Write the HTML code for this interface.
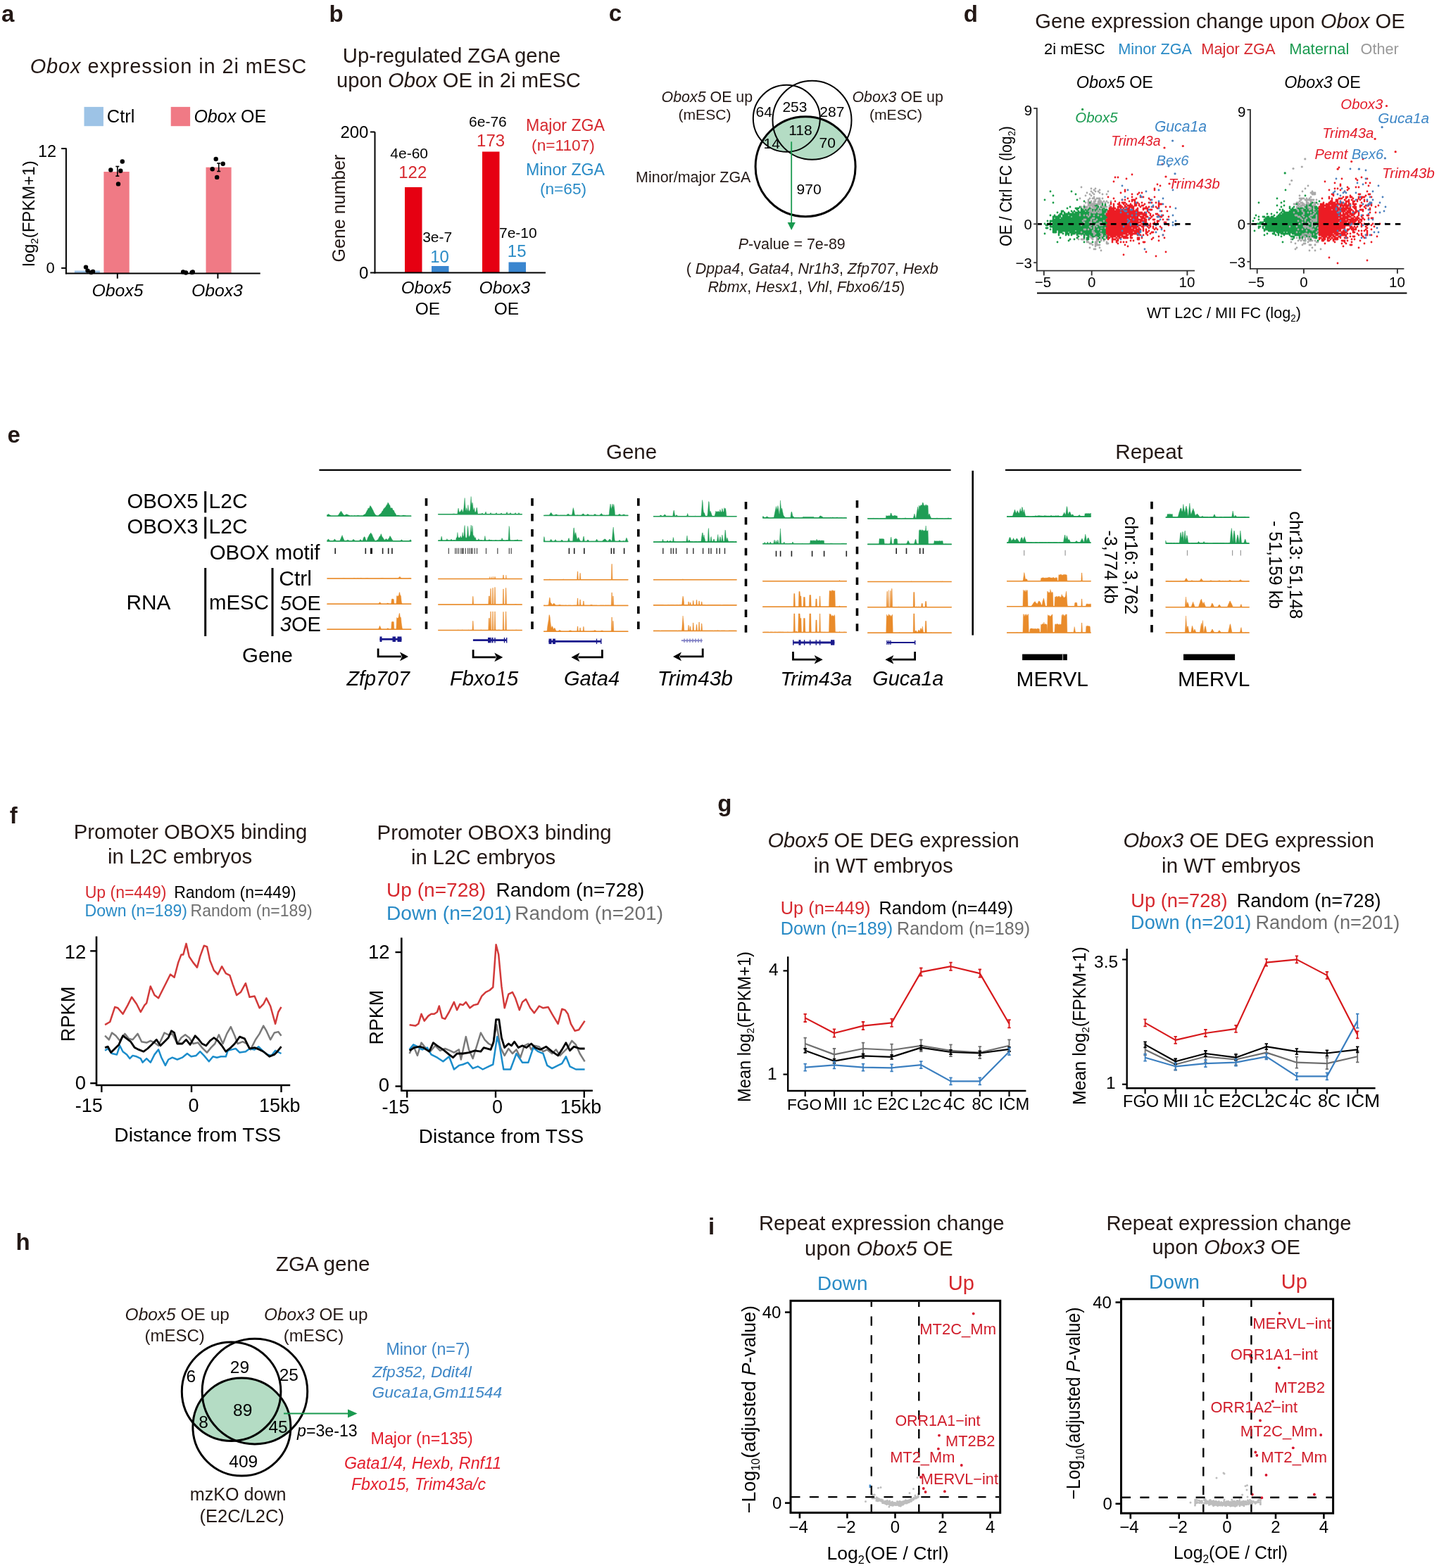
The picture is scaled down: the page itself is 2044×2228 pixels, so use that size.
<!DOCTYPE html>
<html><head><meta charset="utf-8"><title>Figure</title>
<style>
html,body{margin:0;padding:0;background:#fff;}
svg{display:block;}
text{font-family:'Liberation Sans', Arial, Helvetica, sans-serif;}
</style></head>
<body>
<svg width="2044" height="2228" viewBox="0 0 2044 2228">
<rect width="2044" height="2228" fill="#fff"/>
<text x="2.1" y="30.7" font-size="33" font-weight="bold" fill="#231815">a</text>
<text x="42.7" y="103.9" font-size="29.00" letter-spacing="0.87" fill="#231815"><tspan font-style="italic">Obox</tspan> expression in 2i mESC</text>
<rect x="119.5" y="151.9" width="27.4" height="27.3" fill="#9dc3e6"/>
<text x="151.8" y="174.3" font-size="25.42" fill="#000">Ctrl</text>
<rect x="242.7" y="151.9" width="27.4" height="27.3" fill="#f07a85"/>
<text x="275.4" y="174.3" font-size="25.01" fill="#000"><tspan font-style="italic">Obox</tspan> OE</text>
<rect x="105.8" y="384.6" width="36.1" height="3.8" fill="#9dc3e6"/>
<rect x="147.4" y="244.0" width="36.3" height="144.4" fill="#f07a85"/>
<rect x="292.5" y="237.7" width="36.1" height="150.7" fill="#f07a85"/>
<line x1="93.9" y1="210.4" x2="93.9" y2="389.4" stroke="#000" stroke-width="2"/>
<line x1="87.1" y1="211.1" x2="93.9" y2="211.1" stroke="#000" stroke-width="2"/>
<line x1="87.1" y1="380.9" x2="93.9" y2="380.9" stroke="#000" stroke-width="2"/>
<line x1="92.9" y1="388.4" x2="369.7" y2="388.4" stroke="#000" stroke-width="2"/>
<line x1="166.8" y1="388.4" x2="166.8" y2="395.8" stroke="#000" stroke-width="2"/>
<line x1="309.4" y1="388.4" x2="309.4" y2="395.8" stroke="#000" stroke-width="2"/>
<text x="53.9" y="222.9" font-size="23.50" fill="#000">12</text>
<text x="65.6" y="388.4" font-size="22.00" fill="#000">0</text>
<line x1="166.8" y1="236.5" x2="166.8" y2="250.2" stroke="#000" stroke-width="1.6"/>
<line x1="164.3" y1="236.5" x2="169.3" y2="236.5" stroke="#000" stroke-width="1.6"/>
<line x1="164.3" y1="250.2" x2="169.3" y2="250.2" stroke="#000" stroke-width="1.6"/>
<line x1="310.7" y1="232.0" x2="310.7" y2="243.5" stroke="#000" stroke-width="1.6"/>
<line x1="308.2" y1="232.0" x2="313.2" y2="232.0" stroke="#000" stroke-width="1.6"/>
<line x1="308.2" y1="243.5" x2="313.2" y2="243.5" stroke="#000" stroke-width="1.6"/>
<circle cx="173.8" cy="229.5" r="3.2" fill="#000" stroke="none" stroke-width="0"/>
<circle cx="157.3" cy="241.5" r="3.2" fill="#000" stroke="none" stroke-width="0"/>
<circle cx="171.3" cy="242.7" r="3.2" fill="#000" stroke="none" stroke-width="0"/>
<circle cx="168.0" cy="261.4" r="3.2" fill="#000" stroke="none" stroke-width="0"/>
<circle cx="306.7" cy="226.0" r="3.2" fill="#000" stroke="none" stroke-width="0"/>
<circle cx="316.7" cy="232.8" r="3.2" fill="#000" stroke="none" stroke-width="0"/>
<circle cx="301.7" cy="240.2" r="3.2" fill="#000" stroke="none" stroke-width="0"/>
<circle cx="308.2" cy="251.9" r="3.2" fill="#000" stroke="none" stroke-width="0"/>
<circle cx="122.0" cy="379.6" r="3.2" fill="#000" stroke="none" stroke-width="0"/>
<circle cx="124.5" cy="384.6" r="3.2" fill="#000" stroke="none" stroke-width="0"/>
<circle cx="129.5" cy="387.1" r="3.2" fill="#000" stroke="none" stroke-width="0"/>
<circle cx="132.0" cy="385.9" r="3.2" fill="#000" stroke="none" stroke-width="0"/>
<circle cx="260.1" cy="386.4" r="3.2" fill="#000" stroke="none" stroke-width="0"/>
<circle cx="264.0" cy="387.5" r="3.2" fill="#000" stroke="none" stroke-width="0"/>
<circle cx="272.6" cy="387.1" r="3.2" fill="#000" stroke="none" stroke-width="0"/>
<circle cx="273.8" cy="386.4" r="3.2" fill="#000" stroke="none" stroke-width="0"/>
<text x="130.5" y="420.7" font-size="24.77" fill="#000"><tspan font-style="italic">Obox5</tspan></text>
<text x="271.9" y="420.7" font-size="24.78" fill="#000"><tspan font-style="italic">Obox3</tspan></text>
<text transform="translate(48.5,303.5) rotate(-90)" text-anchor="middle" font-size="24" fill="#000">log<tspan font-size="15" dy="5">2</tspan><tspan dy="-5">(FPKM+1)</tspan></text>
<text x="467.4" y="30.7" font-size="33" font-weight="bold" fill="#231815">b</text>
<text x="486.8" y="89.0" font-size="29.30" fill="#231815">Up-regulated ZGA gene</text>
<text x="478.1" y="124.0" font-size="29.16" fill="#231815">upon <tspan font-style="italic">Obox</tspan> OE in 2i mESC</text>
<rect x="575.0" y="266.0" width="24.5" height="121.5" fill="#e60012"/>
<rect x="613.0" y="378.0" width="24.5" height="9.5" fill="#3a86cf"/>
<rect x="685.0" y="215.5" width="24.5" height="172.0" fill="#e60012"/>
<rect x="722.5" y="372.5" width="24.5" height="15.0" fill="#3a86cf"/>
<line x1="532.5" y1="187.5" x2="532.5" y2="388.5" stroke="#000" stroke-width="2"/>
<line x1="526.0" y1="187.5" x2="532.5" y2="187.5" stroke="#000" stroke-width="2"/>
<line x1="526.0" y1="387.5" x2="532.5" y2="387.5" stroke="#000" stroke-width="2"/>
<line x1="531.5" y1="387.5" x2="775.0" y2="387.5" stroke="#000" stroke-width="2"/>
<text x="483.4" y="196.0" font-size="24.00" fill="#000">200</text>
<text x="510.0" y="396.0" font-size="24.00" fill="#000">0</text>
<text transform="translate(490.0,296.0) rotate(-90)" x="0" y="0" text-anchor="middle" font-size="25.00" fill="#231815">Gene number</text>
<text x="554.3" y="225.0" font-size="21.00" fill="#000">4e-60</text>
<text x="566.2" y="253.0" font-size="24.00" fill="#d6282e">122</text>
<text x="600.2" y="344.0" font-size="21.00" fill="#000">3e-7</text>
<text x="611.2" y="372.5" font-size="24.00" fill="#2a8bc6">10</text>
<text x="666.1" y="180.0" font-size="21.00" fill="#000">6e-76</text>
<text x="677.1" y="207.5" font-size="24.00" fill="#d6282e">173</text>
<text x="709.0" y="337.5" font-size="21.00" fill="#000">7e-10</text>
<text x="720.8" y="365.0" font-size="24.00" fill="#2a8bc6">15</text>
<text x="747.1" y="186.0" font-size="23.16" fill="#d6282e">Major ZGA</text>
<text x="755.1" y="214.0" font-size="22.70" fill="#d6282e">(n=1107)</text>
<text x="747.1" y="249.0" font-size="23.16" fill="#2a8bc6">Minor ZGA</text>
<text x="766.9" y="276.0" font-size="22.70" fill="#2a8bc6">(n=65)</text>
<text x="569.7" y="416.5" font-size="24.18" fill="#000"><tspan font-style="italic">Obox5</tspan></text>
<text x="589.7" y="446.5" font-size="24.50" fill="#000">OE</text>
<text x="680.6" y="416.5" font-size="24.61" fill="#000"><tspan font-style="italic">Obox3</tspan></text>
<text x="701.7" y="446.5" font-size="24.50" fill="#000">OE</text>
<text x="864.7" y="30.3" font-size="33" font-weight="bold" fill="#231815">c</text>
<defs><clipPath id="cc3"><circle cx="1144.1" cy="236.7" r="71.0"/></clipPath><clipPath id="hc3"><circle cx="343.4" cy="2027.6" r="69.5"/></clipPath></defs>
<g clip-path="url(#cc3)"><circle cx="1117.3" cy="168.3" r="47.5" fill="#b4dcc4"/><circle cx="1153.5" cy="170.8" r="56.0" fill="#b4dcc4"/></g>
<circle cx="1117.3" cy="168.3" r="47.5" fill="none" stroke="#000" stroke-width="2.0"/>
<circle cx="1153.5" cy="170.8" r="56.0" fill="none" stroke="#000" stroke-width="2.0"/>
<circle cx="1144.1" cy="236.7" r="71.0" fill="none" stroke="#000" stroke-width="3.0"/>
<text x="1073.5" y="166.0" font-size="21.00" fill="#000">64</text>
<text x="1111.4" y="158.8" font-size="21.00" fill="#000">253</text>
<text x="1164.3" y="166.0" font-size="21.00" fill="#000">287</text>
<text x="1120.2" y="192.0" font-size="21.00" fill="#000">118</text>
<text x="1084.5" y="211.0" font-size="21.00" fill="#000">14</text>
<text x="1163.5" y="210.0" font-size="21.00" fill="#000">70</text>
<text x="1131.6" y="275.6" font-size="21.00" fill="#000">970</text>
<text x="939.6" y="144.6" font-size="21.39" fill="#231815"><tspan font-style="italic">Obox5</tspan> OE up</text>
<text x="963.5" y="169.5" font-size="21.10" fill="#231815">(mESC)</text>
<text x="1210.4" y="144.6" font-size="21.36" fill="#231815"><tspan font-style="italic">Obox3</tspan> OE up</text>
<text x="1235.0" y="169.5" font-size="21.10" fill="#231815">(mESC)</text>
<text x="903.1" y="258.6" font-size="21.46" fill="#231815">Minor/major ZGA</text>
<line x1="1124.2" y1="201.3" x2="1124.2" y2="318.0" stroke="#1a9a50" stroke-width="1.8"/>
<path d="M1118.6,316 L1129.8,316 L1124.2,327 Z" fill="#1a9a50" stroke="none" stroke-width="0"/>
<text x="1048.8" y="354.4" font-size="21.44" fill="#231815"><tspan font-style="italic">P</tspan>-value = 7e-89</text>
<text x="974.7" y="389.0" font-size="21.47" fill="#231815">( <tspan font-style="italic">Dppa4</tspan>, <tspan font-style="italic">Gata4</tspan>, <tspan font-style="italic">Nr1h3</tspan>, <tspan font-style="italic">Zfp707</tspan>, <tspan font-style="italic">Hexb</tspan></text>
<text x="1005.4" y="414.5" font-size="21.43" fill="#231815"><tspan font-style="italic">Rbmx</tspan>, <tspan font-style="italic">Hesx1</tspan>, <tspan font-style="italic">Vhl</tspan>, <tspan font-style="italic">Fbxo6/15</tspan>)</text>
<text x="1368.7" y="30.7" font-size="33" font-weight="bold" fill="#231815">d</text>
<text x="1470.3" y="40.0" font-size="29.18" fill="#231815">Gene expression change upon <tspan font-style="italic">Obox</tspan> OE</text>
<text x="1482.9" y="77.0" font-size="22.02" fill="#000">2i mESC</text>
<text x="1588.3" y="77.0" font-size="21.68" fill="#2a8bc6">Minor ZGA</text>
<text x="1706.3" y="77.0" font-size="21.79" fill="#d6282e">Major ZGA</text>
<text x="1831.2" y="77.0" font-size="21.90" fill="#1a9a50">Maternal</text>
<text x="1932.6" y="77.0" font-size="21.68" fill="#999999">Other</text>
<text x="1528.7" y="125.0" font-size="23.41" fill="#000"><tspan font-style="italic">Obox5</tspan> OE</text>
<text x="1824.3" y="125.0" font-size="23.24" fill="#000"><tspan font-style="italic">Obox3</tspan> OE</text>
<path d="M1556 302h0M1560 314h0M1554 308h0M1548 312h0M1552 302h0M1546 312h0M1558 294h0M1570 306h0M1552 306h0M1550 306h0M1562 336h0M1560 316h0M1558 316h0M1548 310h0M1556 334h0M1564 288h0M1544 312h0M1552 332h0M1538 340h0M1544 318h0M1538 314h0M1554 324h0M1560 322h0M1558 304h0M1532 314h0M1552 298h0M1556 272h0M1558 328h0M1542 320h0M1552 326h0M1546 300h0M1548 330h0M1568 320h0M1548 314h0M1556 328h0M1566 328h0M1550 320h0M1556 346h0M1558 336h0M1558 320h0M1544 310h0M1570 340h0M1566 300h0M1550 314h0M1578 326h0M1564 302h0M1544 322h0M1558 330h0M1562 326h0M1554 290h0M1564 310h0M1556 294h0M1564 320h0M1572 298h0M1550 322h0M1552 274h0M1558 300h0M1544 320h0M1566 294h0M1544 340h0M1548 318h0M1564 312h0M1536 312h0M1552 292h0M1556 308h0M1570 300h0M1564 330h0M1554 300h0M1554 280h0M1572 308h0M1552 310h0M1554 286h0M1560 328h0M1556 314h0M1554 306h0M1546 302h0M1556 320h0M1552 308h0M1568 318h0M1554 314h0M1568 300h0M1562 316h0M1544 302h0M1560 330h0M1540 310h0M1536 330h0M1554 296h0M1548 276h0M1558 282h0M1580 316h0M1548 302h0M1550 310h0M1558 312h0M1562 288h0M1564 314h0M1562 290h0M1546 310h0M1556 324h0M1558 308h0M1560 312h0M1548 306h0M1566 320h0M1558 346h0M1558 298h0M1550 302h0M1556 310h0M1546 296h0M1560 320h0M1536 324h0M1566 316h0M1540 294h0M1564 334h0M1548 294h0M1564 322h0M1542 294h0M1570 314h0M1572 334h0M1556 318h0M1554 298h0M1546 320h0M1568 306h0M1556 322h0M1548 308h0M1570 320h0M1556 312h0M1566 312h0M1556 300h0M1552 294h0M1554 304h0M1542 278h0M1548 326h0M1574 300h0M1550 318h0M1546 284h0M1560 286h0M1572 344h0M1542 328h0M1554 302h0M1550 300h0M1538 302h0M1556 306h0M1558 302h0M1562 296h0M1552 348h0M1546 328h0M1544 298h0M1570 316h0M1560 306h0M1556 326h0M1552 328h0M1552 338h0M1556 296h0M1568 296h0M1552 304h0M1542 296h0M1566 318h0M1556 316h0M1562 312h0M1564 326h0M1566 296h0M1572 326h0M1544 308h0M1566 306h0M1562 320h0M1566 282h0M1576 308h0M1572 286h0M1546 298h0M1540 324h0M1546 306h0M1540 318h0M1536 340h0M1558 348h0M1558 324h0M1548 324h0M1542 316h0M1546 336h0M1540 340h0M1562 330h0M1556 344h0M1546 288h0M1550 330h0M1548 334h0M1560 304h0M1578 286h0M1542 310h0M1566 310h0M1556 304h0M1552 300h0M1556 286h0M1558 344h0M1554 318h0M1534 326h0M1550 316h0M1536 334h0M1524 310h0M1570 294h0M1544 326h0M1548 320h0M1568 298h0M1558 326h0M1564 318h0M1546 324h0M1562 348h0M1568 322h0M1544 306h0M1556 284h0M1544 330h0M1572 294h0M1552 324h0M1564 328h0M1530 338h0M1560 290h0M1556 350h0M1546 318h0M1554 316h0M1554 310h0M1568 308h0M1572 346h0M1552 312h0M1538 310h0M1572 310h0M1566 326h0M1566 322h0M1564 300h0M1554 282h0M1554 276h0M1562 274h0M1574 322h0M1558 322h0M1566 332h0M1552 314h0M1554 326h0M1558 296h0M1540 308h0M1562 318h0M1572 302h0M1554 330h0M1550 292h0M1562 324h0M1578 310h0M1560 348h0M1544 324h0M1546 344h0M1548 296h0M1568 302h0M1560 324h0M1562 286h0M1554 312h0M1550 296h0M1544 274h0M1558 292h0M1566 308h0M1548 304h0M1548 322h0M1552 330h0M1554 328h0M1558 314h0M1562 306h0M1576 296h0M1540 338h0M1538 304h0M1542 312h0M1540 304h0M1554 322h0M1564 342h0M1580 330h0M1560 288h0M1548 346h0M1546 326h0M1568 314h0M1568 342h0M1568 316h0M1562 322h0M1542 298h0M1564 294h0M1560 292h0M1540 316h0M1548 300h0M1558 334h0M1560 310h0M1552 322h0M1558 340h0M1564 298h0M1562 298h0M1552 316h0M1546 286h0M1582 314h0M1556 336h0M1550 336h0M1558 332h0M1540 292h0M1566 336h0M1568 294h0M1560 318h0M1552 318h0M1554 294h0M1546 292h0M1566 314h0M1542 308h0M1550 298h0M1552 290h0M1560 298h0M1550 308h0M1562 352h0M1566 330h0M1548 282h0M1540 332h0M1538 324h0M1546 322h0M1560 308h0M1550 268h0M1562 314h0M1546 314h0M1538 298h0M1576 294h0M1576 292h0M1540 296h0M1546 290h0M1564 336h0M1548 336h0M1542 288h0M1528 304h0M1546 316h0M1566 288h0M1552 340h0M1538 326h0M1546 338h0M1570 304h0M1576 310h0M1556 354h0M1550 324h0M1550 288h0M1546 334h0M1550 338h0M1554 270h0M1560 294h0M1544 332h0M1536 300h0M1558 306h0M1554 334h0M1544 342h0M1560 334h0M1558 338h0M1562 282h0M1540 336h0M1550 286h0M1562 334h0M1568 328h0M1568 304h0M1540 322h0M1566 304h0M1532 340h0M1542 306h0M1550 346h0M1570 318h0M1574 346h0M1574 272h0M1556 330h0M1544 294h0M1562 310h0M1566 324h0M1548 352h0M1556 268h0M1562 284h0M1568 326h0M1554 288h0M1556 348h0M1560 340h0M1540 312h0M1534 282h0M1554 292h0M1528 332h0M1574 288h0M1568 324h0M1560 326h0M1556 290h0M1566 276h0M1576 306h0M1558 318h0M1546 304h0M1554 320h0M1564 340h0M1542 334h0M1548 316h0M1550 312h0M1568 334h0M1562 328h0M1568 286h0M1548 290h0M1558 290h0M1564 356h0M1560 272h0M1548 288h0M1552 336h0M1570 324h0M1580 306h0M1572 276h0M1546 308h0M1558 342h0M1562 332h0M1548 292h0M1540 328h0M1542 304h0" stroke="#a9a9a9" stroke-width="2.8" stroke-linecap="round" fill="none"/>
<path d="M1508 312h0M1532 318h0M1538 316h0M1540 324h0M1518 316h0M1550 324h0M1516 324h0M1534 320h0M1564 326h0M1526 306h0M1528 326h0M1558 322h0M1532 320h0M1532 316h0M1542 310h0M1558 308h0M1498 320h0M1522 320h0M1520 318h0M1518 312h0M1522 312h0M1544 332h0M1522 304h0M1540 308h0M1546 314h0M1524 316h0M1540 320h0M1570 324h0M1544 318h0M1526 318h0M1538 322h0M1522 326h0M1554 310h0M1524 320h0M1534 316h0M1560 334h0M1530 318h0M1542 318h0M1520 326h0M1524 328h0M1528 314h0M1532 322h0M1528 320h0M1536 312h0M1550 318h0M1542 328h0M1542 316h0M1564 318h0M1544 310h0M1550 320h0M1512 320h0M1536 310h0M1538 308h0M1534 312h0M1500 314h0M1554 312h0M1532 312h0M1530 310h0M1534 314h0M1516 304h0M1522 318h0M1528 316h0M1524 324h0M1538 332h0M1560 312h0M1520 328h0M1566 312h0M1554 314h0M1530 308h0M1552 302h0M1512 316h0M1506 322h0M1514 326h0M1530 322h0M1530 332h0M1540 316h0M1500 318h0M1548 310h0M1526 316h0M1518 320h0M1514 328h0M1520 316h0M1538 304h0M1550 314h0M1548 312h0M1520 324h0M1524 308h0M1522 322h0M1546 310h0M1502 318h0M1562 324h0M1524 318h0M1544 314h0M1558 312h0M1544 316h0M1558 318h0M1540 312h0M1562 318h0M1562 314h0M1536 322h0M1564 328h0M1542 322h0M1534 308h0M1552 330h0M1514 318h0M1550 334h0M1544 324h0M1544 320h0M1498 330h0M1536 330h0M1540 318h0M1494 322h0M1550 298h0M1554 322h0M1504 310h0M1552 310h0M1554 306h0M1522 316h0M1528 312h0M1526 324h0M1534 310h0M1560 324h0M1570 322h0M1526 310h0M1506 320h0M1560 314h0M1558 310h0M1560 328h0M1522 314h0M1514 312h0M1512 308h0M1556 312h0M1526 312h0M1540 304h0M1526 320h0M1554 300h0M1572 298h0M1516 306h0M1564 322h0M1518 310h0M1524 322h0M1544 312h0M1540 310h0M1560 322h0M1552 320h0M1510 320h0M1546 320h0M1546 308h0M1558 298h0M1528 308h0M1522 310h0M1556 306h0M1514 322h0M1532 326h0M1546 312h0M1496 318h0M1552 314h0M1516 316h0M1518 314h0M1538 318h0M1510 328h0M1572 336h0M1522 330h0M1544 304h0M1542 330h0M1564 310h0M1530 306h0M1556 320h0M1524 306h0M1560 298h0M1524 312h0M1532 300h0M1540 322h0M1552 326h0M1516 326h0M1560 294h0M1560 320h0M1528 318h0M1528 322h0M1520 320h0M1548 326h0M1502 326h0M1532 314h0M1534 302h0M1544 308h0M1550 312h0M1536 318h0M1526 326h0M1516 330h0M1546 318h0M1520 308h0M1540 314h0M1558 306h0M1568 326h0M1558 304h0M1544 300h0M1560 316h0M1554 318h0M1548 314h0M1542 312h0M1542 326h0M1556 316h0M1530 328h0M1570 306h0M1536 324h0M1556 318h0M1536 320h0M1532 324h0M1516 328h0M1542 314h0M1556 298h0M1550 316h0M1572 302h0M1526 314h0M1534 332h0M1548 318h0M1530 330h0M1514 314h0M1566 322h0M1558 320h0M1564 330h0M1554 330h0M1534 324h0M1536 316h0M1558 316h0M1540 300h0M1536 314h0M1534 326h0M1538 320h0M1536 304h0M1544 306h0M1544 340h0M1564 312h0M1572 308h0M1538 330h0M1562 306h0M1512 324h0M1542 296h0M1532 308h0M1524 314h0M1548 308h0M1566 314h0M1504 318h0M1552 312h0M1546 316h0M1510 326h0M1556 314h0M1560 308h0M1566 308h0M1516 314h0M1526 328h0M1516 318h0M1516 310h0M1570 312h0M1550 328h0M1552 300h0M1572 314h0M1564 304h0M1544 328h0M1542 308h0M1500 320h0M1536 328h0M1522 332h0M1552 318h0M1508 322h0M1532 310h0M1562 344h0M1558 324h0M1506 316h0M1556 302h0M1570 310h0M1562 312h0M1538 312h0M1562 316h0M1518 324h0M1514 310h0M1526 304h0M1496 314h0M1520 304h0M1524 326h0M1570 318h0M1548 324h0M1566 300h0M1538 326h0M1514 316h0M1548 316h0M1566 306h0M1538 300h0M1520 312h0M1514 308h0M1568 316h0M1498 314h0M1550 306h0M1568 310h0M1538 328h0M1522 324h0M1560 306h0M1556 308h0M1544 334h0M1542 306h0M1510 324h0M1530 320h0M1560 332h0M1486 324h0M1512 322h0M1530 316h0M1562 300h0M1568 306h0M1526 308h0M1548 322h0M1504 320h0M1562 322h0M1520 330h0M1504 316h0M1526 322h0M1538 314h0M1512 312h0M1508 314h0M1508 328h0M1552 322h0M1540 334h0M1564 320h0M1532 304h0M1554 316h0M1514 324h0M1512 302h0M1556 324h0M1518 326h0M1546 304h0M1544 322h0M1528 310h0M1552 316h0M1502 322h0M1566 320h0M1556 310h0M1536 326h0M1540 338h0M1560 326h0M1530 326h0M1558 328h0M1566 310h0M1564 308h0M1540 302h0M1566 316h0M1560 318h0M1524 304h0M1540 330h0M1520 314h0M1510 318h0M1562 334h0M1508 324h0M1530 314h0M1542 298h0M1554 302h0M1534 318h0M1504 306h0M1542 320h0M1556 330h0M1536 308h0M1554 320h0M1568 322h0M1534 322h0M1558 330h0M1548 320h0M1512 318h0M1546 336h0M1518 328h0M1512 326h0M1560 310h0M1550 310h0M1564 302h0M1530 304h0M1568 300h0M1542 324h0M1530 312h0M1532 328h0M1556 322h0M1508 310h0M1516 312h0M1550 322h0M1534 328h0M1548 306h0M1546 324h0M1492 314h0M1534 330h0M1552 332h0M1568 312h0M1524 330h0M1500 324h0M1502 302h0M1540 326h0M1538 324h0M1508 316h0M1570 330h0M1516 320h0M1520 322h0M1550 326h0M1504 314h0M1528 324h0M1558 314h0M1518 318h0M1498 316h0M1540 306h0M1546 306h0M1560 330h0M1566 318h0M1568 320h0M1484 318h0M1570 302h0M1546 332h0M1514 320h0M1546 330h0M1546 322h0M1510 316h0M1518 322h0M1570 320h0M1546 334h0M1510 312h0M1546 328h0M1572 322h0M1514 330h0M1564 316h0M1566 326h0M1548 304h0M1542 304h0M1550 308h0M1518 308h0M1530 302h0M1536 296h0M1554 326h0M1508 320h0M1512 310h0M1546 340h0M1504 324h0M1546 326h0M1516 322h0M1508 318h0M1510 308h0M1500 316h0M1528 306h0M1518 304h0M1536 332h0M1526 330h0M1520 294h0M1560 304h0M1562 310h0M1548 328h0M1510 322h0M1556 292h0M1524 332h0M1554 336h0M1568 302h0M1490 318h0M1516 332h0M1538 302h0M1558 296h0M1502 320h0M1552 328h0M1552 298h0M1532 330h0M1498 318h0M1520 310h0M1570 314h0M1542 302h0M1566 328h0M1488 324h0M1492 320h0M1554 324h0M1544 326h0M1538 306h0M1554 328h0M1566 294h0M1560 302h0M1530 324h0M1502 324h0M1544 330h0M1496 322h0M1534 306h0M1500 326h0M1508 304h0M1552 308h0M1492 316h0M1572 318h0M1518 302h0M1536 306h0M1486 320h0M1492 326h0M1556 300h0M1514 334h0M1532 302h0M1562 320h0M1568 324h0M1558 326h0M1530 334h0M1568 304h0M1512 314h0M1568 308h0M1522 306h0M1570 316h0M1502 314h0M1506 326h0M1566 304h0M1566 330h0M1524 310h0M1506 314h0M1548 332h0M1506 318h0M1540 328h0M1546 338h0M1550 330h0M1502 316h0M1514 306h0M1556 334h0M1536 298h0M1496 310h0M1498 324h0M1564 332h0M1572 316h0M1554 334h0M1506 324h0M1498 322h0M1550 304h0M1552 304h0M1562 304h0M1530 298h0M1528 330h0M1552 324h0M1562 298h0M1492 322h0M1508 326h0M1538 310h0M1488 318h0M1564 314h0M1512 328h0M1552 336h0M1550 332h0M1544 302h0M1496 320h0M1520 306h0M1488 314h0M1546 302h0M1488 320h0M1570 298h0M1548 330h0M1554 304h0M1536 300h0M1526 300h0M1572 338h0M1556 304h0M1566 292h0M1512 304h0M1558 300h0M1566 302h0M1494 314h0M1522 334h0M1532 332h0M1558 302h0M1562 328h0M1530 338h0M1512 306h0M1510 314h0M1542 332h0M1502 312h0M1564 300h0M1570 326h0M1564 294h0M1504 308h0M1558 332h0M1552 334h0M1506 304h0M1558 292h0M1500 322h0M1496 308h0M1572 306h0M1510 300h0M1560 336h0M1510 306h0M1506 328h0M1568 318h0M1564 306h0M1568 314h0M1568 328h0M1570 334h0M1570 304h0M1510 310h0M1500 310h0M1514 304h0M1568 334h0M1550 300h0M1504 322h0M1522 300h0M1532 306h0M1556 328h0M1518 332h0M1498 328h0M1504 328h0M1500 308h0M1498 308h0M1554 332h0M1572 326h0M1570 300h0M1500 330h0M1506 306h0M1522 328h0M1568 330h0M1568 336h0M1530 296h0M1546 298h0M1528 302h0M1496 326h0M1544 338h0M1502 308h0M1500 312h0M1516 308h0M1538 298h0M1568 332h0M1568 296h0M1496 316h0M1568 340h0M1496 328h0M1504 326h0M1554 308h0M1508 300h0M1518 334h0M1566 338h0M1516 296h0M1572 312h0M1570 290h0M1556 326h0M1498 306h0M1570 292h0M1504 312h0M1552 344h0M1566 290h0M1562 326h0M1570 328h0M1562 332h0M1560 340h0M1562 308h0M1508 302h0M1498 312h0M1536 302h0M1552 306h0M1520 340h0M1566 298h0M1548 296h0M1496 324h0M1532 336h0M1572 330h0M1540 336h0M1572 304h0M1496 312h0M1498 326h0M1570 308h0M1554 290h0M1508 330h0M1560 300h0M1558 334h0M1572 310h0M1570 332h0M1506 312h0M1506 308h0M1500 328h0M1532 296h0M1540 294h0M1506 330h0M1572 328h0M1526 340h0M1504 330h0M1502 310h0M1562 338h0M1548 288h0M1506 338h0M1510 332h0M1496 278h0M1518 342h0M1502 344h0M1528 304h0M1514 332h0M1504 334h0M1522 272h0M1540 344h0M1496 330h0M1534 294h0M1528 296h0M1492 318h0M1504 332h0M1492 272h0M1530 284h0M1492 306h0M1496 288h0M1484 332h0M1540 286h0M1528 276h0M1524 302h0M1484 284h0M1526 332h0" stroke="#189b47" stroke-width="2.8" stroke-linecap="round" fill="none"/>
<path d="M1564 320h0M1554 302h0M1562 302h0M1548 322h0M1554 326h0M1546 308h0M1568 314h0M1556 296h0M1550 272h0M1554 300h0M1554 314h0M1564 316h0M1540 326h0M1546 326h0M1552 328h0M1582 318h0M1566 320h0M1556 302h0M1578 316h0M1554 332h0M1554 288h0M1570 304h0M1562 284h0M1564 300h0M1552 290h0M1576 316h0M1574 302h0M1562 270h0M1564 332h0M1536 294h0M1564 286h0M1554 306h0M1562 300h0M1564 292h0M1554 324h0M1540 306h0M1560 326h0M1550 324h0M1554 322h0M1550 316h0M1554 310h0M1534 306h0M1570 336h0M1560 282h0M1568 294h0M1576 302h0M1558 318h0M1538 314h0M1548 304h0M1544 306h0M1552 340h0M1558 300h0M1536 266h0M1560 342h0M1542 296h0M1560 306h0M1556 314h0M1554 290h0M1556 332h0M1552 310h0M1550 290h0M1540 316h0M1556 320h0M1576 310h0M1576 320h0M1570 288h0M1564 328h0M1550 298h0M1572 332h0M1554 354h0M1558 312h0M1552 330h0M1546 288h0M1554 330h0M1580 330h0M1556 290h0M1562 288h0M1564 308h0M1566 294h0M1560 298h0M1572 312h0M1550 314h0M1558 322h0M1552 282h0M1536 330h0M1550 320h0M1552 302h0M1564 302h0M1562 316h0M1570 324h0M1540 312h0M1564 340h0M1554 334h0M1550 300h0M1562 320h0M1548 306h0M1542 312h0M1550 278h0M1560 302h0M1560 318h0M1572 302h0M1542 326h0M1550 312h0M1548 316h0M1544 344h0M1550 318h0M1536 320h0" stroke="#a9a9a9" stroke-width="2.8" stroke-linecap="round" fill="none"/>
<path d="M1608 320h0M1584 320h0M1590 318h0M1592 314h0M1580 312h0M1586 298h0M1602 306h0M1594 312h0M1574 306h0M1582 324h0M1654 328h0M1578 312h0M1580 316h0M1588 314h0M1576 310h0M1574 320h0M1616 312h0M1574 314h0M1608 304h0M1590 306h0M1634 304h0M1576 338h0M1574 308h0M1608 332h0M1610 312h0M1594 288h0M1578 320h0M1576 332h0M1584 302h0M1594 320h0M1576 320h0M1608 314h0M1580 310h0M1582 310h0M1582 306h0M1606 324h0M1590 308h0M1578 322h0M1594 322h0M1600 318h0M1600 296h0M1614 326h0M1600 326h0M1596 308h0M1584 318h0M1586 320h0M1576 318h0M1580 298h0M1586 326h0M1582 320h0M1574 316h0M1576 326h0M1618 312h0M1576 314h0M1612 324h0M1592 304h0M1596 326h0M1598 316h0M1582 314h0M1578 290h0M1580 332h0M1600 310h0M1576 296h0M1588 322h0M1596 312h0M1594 330h0M1630 322h0M1598 330h0M1586 310h0M1584 340h0M1580 318h0M1620 294h0M1582 312h0M1580 320h0M1608 280h0M1582 318h0M1588 316h0M1608 322h0M1602 318h0M1604 306h0M1598 320h0M1588 324h0M1590 320h0M1596 318h0M1590 314h0M1588 320h0M1578 324h0M1584 304h0M1578 316h0M1604 310h0M1604 332h0M1596 316h0M1586 300h0M1622 304h0M1616 330h0M1592 322h0M1578 306h0M1602 316h0M1580 314h0M1616 310h0M1576 316h0M1576 324h0M1594 326h0M1618 326h0M1594 306h0M1606 306h0M1584 308h0M1580 308h0M1578 308h0M1576 312h0M1574 324h0M1648 322h0M1610 284h0M1598 312h0M1584 328h0M1614 298h0M1580 306h0M1598 332h0M1586 322h0M1590 322h0M1582 296h0M1582 326h0M1582 308h0M1632 288h0M1660 320h0M1606 318h0M1584 306h0M1610 318h0M1586 306h0M1578 288h0M1618 332h0M1592 318h0M1588 310h0M1588 326h0M1582 316h0M1606 330h0M1598 326h0M1586 304h0M1590 310h0M1594 304h0M1620 304h0M1572 320h0M1588 330h0M1590 312h0M1576 322h0M1614 324h0M1598 310h0M1602 320h0M1620 334h0M1576 304h0M1600 308h0M1596 330h0M1586 318h0M1586 314h0M1584 324h0M1574 336h0M1612 304h0M1574 334h0M1594 332h0M1580 328h0M1610 306h0M1602 322h0M1580 326h0M1580 340h0M1594 302h0M1628 320h0M1582 330h0M1588 318h0M1652 334h0M1584 332h0M1588 306h0M1580 322h0M1602 300h0M1580 336h0M1600 314h0M1590 300h0M1580 324h0M1576 334h0M1574 300h0M1588 334h0M1574 318h0M1592 308h0M1598 348h0M1600 306h0M1638 306h0M1574 312h0M1612 332h0M1622 314h0M1578 304h0M1608 300h0M1586 308h0M1620 314h0M1592 306h0M1592 316h0M1610 304h0M1614 330h0M1592 326h0M1584 312h0M1574 310h0M1596 300h0M1590 324h0M1606 320h0M1592 310h0M1586 328h0M1618 316h0M1628 330h0M1600 312h0M1584 316h0M1594 300h0M1592 330h0M1614 316h0M1608 308h0M1594 318h0M1612 286h0M1598 324h0M1594 316h0M1626 344h0M1624 324h0M1574 304h0M1584 326h0M1628 296h0M1578 318h0M1584 330h0M1592 312h0M1578 336h0M1578 294h0M1586 338h0M1578 330h0M1578 314h0M1636 330h0M1610 302h0M1590 330h0M1622 292h0M1608 310h0M1586 302h0M1584 322h0M1612 302h0M1574 328h0M1646 342h0M1594 314h0M1630 334h0M1646 290h0M1612 316h0M1630 300h0M1584 310h0M1600 316h0M1582 332h0M1580 300h0M1614 306h0M1596 306h0M1594 324h0M1586 316h0M1608 338h0M1588 308h0M1590 326h0M1604 326h0M1620 316h0M1582 294h0M1604 308h0M1604 328h0M1598 318h0M1598 304h0M1576 298h0M1578 300h0M1600 322h0M1588 302h0M1596 322h0M1608 298h0M1662 294h0M1622 312h0M1604 302h0M1580 334h0M1574 322h0M1616 314h0M1606 314h0M1574 302h0M1592 324h0M1590 316h0M1610 298h0M1588 328h0M1584 296h0M1616 340h0M1620 320h0M1626 316h0M1582 322h0M1642 304h0M1610 294h0M1622 318h0M1596 328h0M1576 328h0M1604 304h0M1578 328h0M1596 302h0M1596 304h0M1644 314h0M1602 338h0M1610 314h0M1576 300h0M1576 308h0M1626 290h0M1588 312h0M1602 310h0M1602 296h0M1616 288h0M1606 336h0M1594 308h0M1576 302h0M1582 328h0M1582 302h0M1586 312h0M1612 308h0M1586 324h0M1612 290h0M1614 308h0M1624 308h0M1598 308h0M1582 290h0M1624 334h0M1590 290h0M1578 334h0M1584 300h0M1608 302h0M1574 330h0M1590 294h0M1578 310h0M1586 334h0M1584 314h0M1618 320h0M1572 332h0M1614 282h0M1576 306h0M1578 302h0M1596 310h0M1616 296h0M1608 294h0M1612 288h0M1608 318h0M1596 324h0M1630 298h0M1582 298h0M1592 298h0M1578 332h0M1624 298h0M1602 326h0M1602 314h0M1590 302h0M1618 324h0M1616 320h0M1618 302h0M1580 330h0M1580 338h0M1614 304h0M1624 296h0M1602 312h0M1588 304h0M1572 328h0M1604 286h0M1598 314h0M1634 306h0M1600 336h0M1606 304h0M1600 320h0M1596 336h0M1638 322h0M1650 300h0M1614 312h0M1642 324h0M1610 316h0M1628 294h0M1608 328h0M1644 296h0M1614 310h0M1608 306h0M1582 334h0M1578 326h0M1604 300h0M1624 322h0M1576 330h0M1594 298h0M1594 334h0M1588 300h0M1606 326h0M1610 308h0M1628 304h0M1590 304h0M1622 310h0M1606 334h0M1616 322h0M1612 330h0M1610 332h0M1618 304h0M1606 300h0M1628 316h0M1616 316h0M1596 314h0M1604 314h0M1592 302h0M1574 326h0M1604 318h0M1634 284h0M1608 312h0M1634 320h0M1620 312h0M1596 332h0M1592 320h0M1584 286h0M1586 332h0M1580 302h0M1604 324h0M1588 298h0M1614 328h0M1606 290h0M1602 330h0M1590 334h0M1598 300h0M1590 298h0M1604 312h0M1580 344h0M1584 334h0M1630 308h0M1632 328h0M1610 322h0M1612 284h0M1614 320h0M1582 304h0M1600 338h0M1612 312h0M1598 328h0M1660 308h0M1644 316h0M1572 314h0M1656 316h0M1590 292h0M1618 338h0M1634 318h0M1612 292h0M1572 312h0M1624 306h0M1578 298h0M1592 328h0M1622 308h0M1594 310h0M1588 332h0M1628 314h0M1572 304h0M1624 326h0M1616 304h0M1606 308h0M1600 294h0M1612 320h0M1636 298h0M1606 316h0M1622 288h0M1582 336h0M1598 292h0M1572 306h0M1598 298h0M1614 292h0M1608 334h0M1644 326h0M1614 314h0M1590 332h0M1594 336h0M1586 342h0M1638 312h0M1604 316h0M1580 304h0M1616 302h0M1636 340h0M1596 320h0M1650 324h0M1614 300h0M1600 334h0M1624 304h0M1616 306h0M1616 318h0M1612 306h0M1616 334h0M1616 308h0M1628 306h0M1618 330h0M1602 282h0M1580 342h0M1626 312h0M1640 326h0M1606 312h0M1624 314h0M1618 340h0M1588 340h0M1624 320h0M1600 324h0M1610 320h0M1602 308h0M1636 308h0M1594 294h0M1608 296h0M1632 312h0M1616 326h0M1588 346h0M1600 300h0M1592 300h0M1602 324h0M1614 290h0M1638 318h0M1626 310h0M1588 296h0M1578 296h0M1590 328h0M1596 338h0M1600 290h0M1616 298h0M1582 300h0M1586 344h0M1608 330h0M1642 294h0M1572 326h0M1596 296h0M1634 310h0M1592 338h0M1638 330h0M1618 328h0M1580 296h0M1574 332h0M1600 344h0M1608 276h0M1572 330h0M1598 336h0M1632 294h0M1602 350h0M1606 332h0M1628 308h0M1582 340h0M1612 328h0M1640 312h0M1612 310h0M1600 328h0M1602 302h0M1600 330h0M1616 332h0M1590 336h0M1628 332h0M1574 338h0M1602 334h0M1598 322h0M1610 342h0M1610 328h0M1624 344h0M1600 304h0M1640 316h0M1628 328h0M1626 314h0M1628 326h0M1610 324h0M1574 340h0M1592 294h0M1606 292h0M1604 294h0M1612 322h0M1588 336h0M1610 296h0M1600 332h0M1608 284h0M1586 330h0M1590 288h0M1598 306h0M1606 322h0M1616 328h0M1598 288h0M1604 322h0M1630 318h0M1642 288h0M1654 338h0M1588 294h0M1622 274h0M1628 318h0M1634 298h0M1656 294h0M1594 328h0M1638 324h0M1620 326h0M1622 322h0M1594 284h0M1632 302h0M1604 296h0M1602 298h0M1612 314h0M1620 302h0M1610 326h0M1592 292h0M1608 286h0M1618 346h0M1620 328h0M1632 324h0M1604 330h0M1604 320h0M1608 316h0M1632 282h0M1626 296h0M1618 306h0M1606 342h0M1616 300h0M1596 288h0M1592 344h0M1630 330h0M1606 338h0M1600 302h0M1650 308h0M1572 324h0M1590 338h0M1600 298h0M1604 298h0M1608 292h0M1650 290h0M1612 318h0M1592 334h0M1624 310h0M1610 300h0M1632 320h0M1624 328h0M1652 312h0M1602 304h0M1598 294h0M1584 336h0M1592 296h0M1598 338h0M1602 328h0M1606 294h0M1658 312h0M1598 302h0M1606 328h0M1634 322h0M1610 310h0M1648 308h0M1624 292h0M1634 332h0M1592 332h0M1654 316h0M1658 300h0M1618 292h0M1618 274h0M1608 326h0M1614 322h0M1582 292h0M1656 358h0M1614 332h0M1606 302h0M1626 318h0M1588 342h0M1612 300h0M1626 302h0M1640 280h0M1604 292h0M1626 306h0M1652 306h0M1628 358h0M1584 252h0M1648 290h0M1646 292h0M1626 320h0M1622 302h0M1596 344h0M1626 304h0M1646 314h0M1574 280h0M1640 270h0M1648 264h0M1628 312h0M1640 268h0M1596 290h0M1592 274h0M1620 280h0M1644 304h0M1602 292h0M1620 308h0M1596 362h0M1646 306h0M1624 280h0M1642 364h0M1588 252h0M1644 308h0M1638 338h0M1588 290h0M1608 248h0M1638 294h0M1646 294h0M1598 270h0M1618 290h0M1616 276h0M1598 284h0M1622 338h0M1598 272h0M1600 254h0M1636 288h0M1582 258h0M1644 262h0M1582 282h0M1616 338h0M1646 288h0M1630 296h0M1646 336h0" stroke="#ec1c24" stroke-width="2.8" stroke-linecap="round" fill="none"/>
<path d="M1670 314h0M1618 334h0M1652 290h0M1650 326h0M1626 320h0M1644 308h0M1614 302h0M1648 300h0M1608 298h0M1602 304h0M1622 280h0M1646 286h0M1648 312h0M1614 306h0M1594 328h0M1634 288h0M1650 306h0M1594 264h0M1602 316h0M1628 272h0M1606 320h0M1622 336h0M1606 318h0M1646 296h0M1652 282h0M1666 320h0M1594 284h0M1602 312h0M1660 312h0M1646 308h0M1646 270h0M1592 298h0M1670 296h0M1616 332h0M1596 298h0M1600 296h0M1602 270h0M1642 320h0M1624 316h0M1616 320h0M1604 314h0M1614 288h0M1654 318h0M1620 278h0M1592 302h0M1670 320h0M1666 316h0M1620 330h0M1642 330h0M1598 280h0M1636 284h0M1596 322h0M1610 312h0M1666 270h0M1632 298h0M1638 292h0M1608 306h0M1666 306h0M1632 310h0M1598 300h0M1652 334h0M1628 302h0M1606 298h0M1620 328h0M1636 294h0M1630 320h0M1626 354h0M1592 340h0M1600 300h0" stroke="#4a80bd" stroke-width="2.8" stroke-linecap="round" fill="none"/>
<path d="M1864 320h0M1854 322h0M1844 324h0M1856 286h0M1866 288h0M1858 316h0M1844 310h0M1862 286h0M1856 316h0M1856 320h0M1858 326h0M1862 288h0M1856 310h0M1848 312h0M1856 318h0M1870 298h0M1846 324h0M1848 338h0M1860 328h0M1852 320h0M1828 320h0M1866 336h0M1852 322h0M1846 314h0M1842 352h0M1848 304h0M1844 316h0M1856 332h0M1856 306h0M1860 312h0M1850 312h0M1864 312h0M1856 302h0M1862 332h0M1864 322h0M1854 306h0M1870 312h0M1866 328h0M1854 318h0M1874 324h0M1874 312h0M1842 338h0M1836 336h0M1852 334h0M1862 314h0M1866 274h0M1864 298h0M1858 294h0M1866 312h0M1864 288h0M1868 296h0M1852 330h0M1852 346h0M1850 330h0M1872 290h0M1866 310h0M1854 316h0M1870 306h0M1854 326h0M1870 300h0M1858 328h0M1858 292h0M1862 318h0M1866 326h0M1874 318h0M1874 314h0M1850 340h0M1850 320h0M1836 312h0M1866 306h0M1872 318h0M1846 294h0M1854 338h0M1842 320h0M1858 312h0M1860 316h0M1852 290h0M1864 274h0M1844 312h0M1830 322h0M1874 300h0M1846 330h0M1870 320h0M1854 298h0M1864 284h0M1856 314h0M1842 296h0M1880 334h0M1856 324h0M1872 344h0M1860 356h0M1860 320h0M1838 298h0M1852 302h0M1844 292h0M1840 354h0M1862 316h0M1866 292h0M1850 326h0M1852 332h0M1862 308h0M1848 302h0M1858 302h0M1846 308h0M1864 318h0M1864 302h0M1874 322h0M1852 298h0M1874 294h0M1858 306h0M1872 298h0M1852 336h0M1866 322h0M1858 290h0M1850 322h0M1860 298h0M1838 310h0M1856 282h0M1868 308h0M1842 318h0M1854 292h0M1876 302h0M1858 332h0M1856 312h0M1860 314h0M1848 292h0M1862 334h0M1868 348h0M1866 308h0M1876 328h0M1866 320h0M1864 294h0M1834 300h0M1870 338h0M1876 308h0M1870 310h0M1866 304h0M1882 304h0M1850 272h0M1854 308h0M1868 324h0M1836 302h0M1860 282h0M1862 302h0M1840 312h0M1862 330h0M1880 300h0M1876 304h0M1846 310h0M1844 326h0M1860 322h0M1844 308h0M1850 318h0M1872 306h0M1868 292h0M1868 318h0M1852 292h0M1848 326h0M1838 290h0M1854 320h0M1844 296h0M1860 310h0M1862 310h0M1854 314h0M1870 294h0M1856 298h0M1858 320h0M1834 340h0M1868 356h0M1850 302h0M1868 330h0M1846 304h0M1868 322h0M1856 292h0M1852 324h0M1838 326h0M1870 322h0M1840 308h0M1846 328h0M1866 276h0M1846 318h0M1862 284h0M1848 324h0M1860 306h0M1848 294h0M1864 310h0M1860 326h0M1864 308h0M1860 324h0M1864 352h0M1866 338h0M1862 322h0M1848 318h0M1840 316h0M1858 288h0M1868 298h0M1848 288h0M1842 308h0M1852 308h0M1858 308h0M1858 310h0M1868 300h0M1852 326h0M1874 328h0M1848 296h0M1850 296h0M1864 316h0M1882 320h0M1862 312h0M1858 304h0M1870 336h0M1856 328h0M1842 298h0M1848 316h0M1872 332h0M1840 346h0M1844 320h0M1870 314h0M1848 284h0M1850 332h0M1854 302h0M1856 284h0M1862 324h0M1868 276h0M1860 318h0M1844 304h0M1874 320h0M1866 334h0M1870 332h0M1840 318h0M1856 308h0M1858 300h0M1864 306h0M1868 314h0M1852 304h0M1838 318h0M1858 330h0M1846 300h0M1832 302h0M1868 320h0M1868 290h0M1864 292h0M1864 314h0M1844 290h0M1854 284h0M1882 336h0M1852 314h0M1860 290h0M1856 288h0M1850 310h0M1858 298h0M1836 308h0M1846 282h0M1864 330h0M1860 302h0M1846 298h0M1848 328h0M1858 314h0M1882 314h0M1858 296h0M1856 296h0M1840 326h0M1866 318h0M1852 318h0M1846 332h0M1858 336h0M1860 304h0M1848 306h0M1866 300h0M1848 300h0M1850 314h0M1872 304h0M1846 340h0M1864 332h0M1878 310h0M1858 318h0M1878 292h0M1872 324h0M1856 326h0M1848 320h0M1874 308h0M1848 282h0M1868 288h0M1880 326h0M1852 342h0M1862 342h0M1860 340h0M1874 334h0M1866 324h0M1840 324h0M1846 290h0M1860 342h0M1854 346h0M1854 310h0M1860 332h0M1872 322h0M1860 336h0M1858 264h0M1874 298h0M1846 338h0M1852 300h0M1878 294h0M1874 330h0M1854 340h0M1842 290h0M1842 288h0M1840 304h0M1840 290h0M1862 328h0M1846 278h0M1866 294h0M1860 300h0M1844 318h0M1872 296h0M1852 306h0M1862 292h0M1862 348h0M1850 298h0M1856 334h0M1868 316h0M1862 306h0M1866 316h0M1862 304h0M1850 282h0M1856 304h0M1860 296h0M1838 312h0M1874 304h0M1864 304h0M1870 316h0M1870 328h0M1872 302h0M1866 284h0M1878 306h0M1862 294h0M1858 334h0M1878 314h0M1842 294h0M1860 338h0M1850 292h0M1850 348h0M1876 314h0M1862 298h0M1858 322h0M1866 330h0M1870 296h0M1862 290h0M1842 316h0M1868 342h0M1842 300h0M1852 296h0M1878 312h0M1870 284h0M1842 312h0M1852 328h0M1858 340h0M1840 328h0M1876 318h0M1846 286h0M1864 276h0M1866 314h0M1858 344h0M1866 302h0M1862 274h0M1878 302h0M1874 326h0M1872 308h0M1860 334h0M1844 342h0M1864 324h0M1850 336h0M1868 332h0M1868 274h0M1834 344h0M1870 304h0M1876 296h0M1850 328h0M1876 354h0M1852 316h0M1854 334h0M1838 324h0M1872 314h0M1882 318h0M1862 300h0M1860 348h0M1878 324h0M1854 312h0M1846 326h0M1856 290h0M1858 284h0M1832 262h0M1860 284h0M1850 290h0M1864 272h0M1862 326h0M1846 302h0M1850 308h0M1846 322h0" stroke="#a9a9a9" stroke-width="2.8" stroke-linecap="round" fill="none"/>
<path d="M1822 326h0M1854 328h0M1816 312h0M1856 316h0M1850 316h0M1808 318h0M1848 320h0M1806 308h0M1850 310h0M1812 310h0M1838 324h0M1836 312h0M1810 314h0M1806 324h0M1848 322h0M1832 322h0M1860 306h0M1840 314h0M1844 320h0M1872 308h0M1846 320h0M1842 314h0M1826 322h0M1828 310h0M1870 314h0M1836 332h0M1820 318h0M1850 304h0M1826 330h0M1842 308h0M1860 312h0M1864 324h0M1872 314h0M1862 324h0M1852 326h0M1850 312h0M1846 314h0M1840 328h0M1840 320h0M1838 328h0M1862 304h0M1790 322h0M1844 312h0M1830 312h0M1868 322h0M1868 310h0M1830 316h0M1840 312h0M1858 318h0M1846 308h0M1842 310h0M1858 302h0M1818 312h0M1870 326h0M1850 320h0M1790 316h0M1824 310h0M1842 316h0M1814 316h0M1866 314h0M1848 308h0M1842 322h0M1860 310h0M1834 322h0M1860 322h0M1850 318h0M1836 322h0M1872 312h0M1816 314h0M1818 318h0M1836 316h0M1846 322h0M1840 310h0M1822 306h0M1848 312h0M1866 304h0M1826 320h0M1870 310h0M1856 312h0M1822 318h0M1840 308h0M1822 330h0M1832 318h0M1808 320h0M1824 322h0M1806 312h0M1842 320h0M1836 318h0M1834 314h0M1826 314h0M1826 328h0M1832 326h0M1848 310h0M1866 318h0M1834 316h0M1838 320h0M1844 308h0M1836 320h0M1854 304h0M1826 318h0M1824 308h0M1836 324h0M1846 318h0M1854 310h0M1786 318h0M1862 318h0M1868 308h0M1866 306h0M1856 318h0M1852 318h0M1864 320h0M1854 320h0M1830 322h0M1840 318h0M1812 318h0M1818 322h0M1846 324h0M1854 318h0M1820 320h0M1864 304h0M1806 326h0M1860 330h0M1830 306h0M1846 328h0M1828 320h0M1844 304h0M1818 316h0M1828 306h0M1852 306h0M1832 314h0M1862 306h0M1870 316h0M1810 330h0M1840 316h0M1820 324h0M1852 310h0M1846 304h0M1832 312h0M1824 324h0M1810 322h0M1858 320h0M1838 302h0M1842 318h0M1856 330h0M1852 314h0M1834 318h0M1828 314h0M1830 314h0M1842 326h0M1842 312h0M1836 326h0M1830 326h0M1834 308h0M1840 324h0M1820 322h0M1856 324h0M1828 308h0M1814 322h0M1832 320h0M1818 314h0M1866 300h0M1824 328h0M1868 324h0M1856 322h0M1828 312h0M1822 322h0M1838 310h0M1854 314h0M1816 316h0M1862 314h0M1856 304h0M1838 316h0M1852 322h0M1864 330h0M1818 324h0M1812 324h0M1858 314h0M1844 316h0M1844 306h0M1824 320h0M1864 308h0M1822 324h0M1830 318h0M1838 298h0M1846 326h0M1824 312h0M1804 318h0M1822 314h0M1844 314h0M1862 322h0M1834 330h0M1868 318h0M1828 328h0M1870 322h0M1864 318h0M1852 312h0M1848 324h0M1820 332h0M1838 312h0M1854 306h0M1866 324h0M1838 322h0M1832 316h0M1864 316h0M1866 322h0M1844 296h0M1830 304h0M1852 324h0M1860 314h0M1830 324h0M1840 306h0M1856 314h0M1846 306h0M1836 314h0M1836 308h0M1800 308h0M1810 320h0M1848 332h0M1852 308h0M1868 304h0M1816 326h0M1836 310h0M1808 322h0M1820 330h0M1838 306h0M1860 326h0M1850 322h0M1804 314h0M1858 310h0M1826 316h0M1814 326h0M1854 308h0M1826 310h0M1856 320h0M1848 316h0M1800 324h0M1846 338h0M1832 324h0M1840 302h0M1826 332h0M1858 306h0M1788 318h0M1840 334h0M1866 308h0M1836 302h0M1838 314h0M1854 322h0M1828 322h0M1806 322h0M1866 320h0M1796 314h0M1824 316h0M1802 312h0M1814 320h0M1844 324h0M1810 318h0M1852 320h0M1862 312h0M1860 324h0M1800 322h0M1860 318h0M1848 304h0M1826 308h0M1832 302h0M1868 300h0M1812 322h0M1814 324h0M1862 316h0M1854 312h0M1834 324h0M1846 332h0M1864 312h0M1832 334h0M1834 328h0M1844 318h0M1822 320h0M1844 300h0M1858 324h0M1838 308h0M1842 332h0M1818 328h0M1862 320h0M1854 332h0M1830 308h0M1842 300h0M1858 298h0M1850 306h0M1856 310h0M1850 314h0M1804 320h0M1856 302h0M1848 302h0M1842 324h0M1816 310h0M1820 326h0M1848 300h0M1840 332h0M1820 316h0M1808 312h0M1812 328h0M1858 304h0M1852 328h0M1846 296h0M1850 302h0M1870 304h0M1828 318h0M1838 318h0M1870 312h0M1862 328h0M1830 320h0M1872 318h0M1838 326h0M1812 316h0M1864 302h0M1866 328h0M1816 318h0M1782 310h0M1868 312h0M1852 302h0M1826 302h0M1850 336h0M1842 306h0M1796 326h0M1816 320h0M1812 314h0M1814 328h0M1858 326h0M1852 316h0M1824 318h0M1826 324h0M1834 310h0M1822 312h0M1834 302h0M1850 298h0M1844 328h0M1864 314h0M1816 328h0M1834 320h0M1866 302h0M1860 316h0M1844 322h0M1840 304h0M1808 310h0M1846 310h0M1854 326h0M1848 318h0M1828 316h0M1814 308h0M1808 316h0M1832 304h0M1826 312h0M1808 314h0M1870 294h0M1854 334h0M1848 326h0M1798 324h0M1860 320h0M1806 318h0M1794 324h0M1844 310h0M1818 304h0M1860 304h0M1818 326h0M1822 316h0M1854 324h0M1826 326h0M1798 320h0M1840 322h0M1866 336h0M1788 308h0M1810 316h0M1800 318h0M1798 318h0M1832 332h0M1834 312h0M1868 320h0M1844 332h0M1790 318h0M1868 296h0M1848 306h0M1822 298h0M1852 330h0M1812 320h0M1822 304h0M1850 324h0M1836 296h0M1836 330h0M1850 308h0M1850 338h0M1860 308h0M1832 328h0M1866 312h0M1828 332h0M1802 316h0M1836 328h0M1830 328h0M1824 314h0M1820 302h0M1854 294h0M1842 328h0M1830 310h0M1840 330h0M1852 304h0M1814 318h0M1814 314h0M1792 318h0M1872 304h0M1856 294h0M1814 310h0M1804 326h0M1860 300h0M1862 340h0M1818 310h0M1812 326h0M1842 304h0M1858 328h0M1832 306h0M1800 314h0M1830 330h0M1846 316h0M1822 344h0M1868 334h0M1846 298h0M1866 326h0M1870 320h0M1860 328h0M1794 318h0M1836 306h0M1828 326h0M1856 306h0M1826 306h0M1854 302h0M1820 306h0M1824 306h0M1872 320h0M1862 310h0M1844 326h0M1796 312h0M1836 304h0M1834 326h0M1828 324h0M1804 310h0M1858 308h0M1854 316h0M1838 304h0M1864 300h0M1872 324h0M1824 326h0M1802 322h0M1866 310h0M1862 326h0M1810 312h0M1838 330h0M1806 320h0M1822 308h0M1858 330h0M1862 308h0M1840 326h0M1874 304h0M1854 330h0M1868 338h0M1810 310h0M1848 314h0M1872 326h0M1828 304h0M1842 302h0M1846 334h0M1796 320h0M1872 316h0M1872 322h0M1830 332h0M1820 314h0M1818 308h0M1818 320h0M1838 338h0M1850 328h0M1872 302h0M1814 302h0M1872 310h0M1846 336h0M1822 310h0M1812 312h0M1866 330h0M1858 316h0M1814 330h0M1824 332h0M1840 300h0M1830 302h0M1868 328h0M1846 300h0M1864 334h0M1870 330h0M1834 306h0M1800 316h0M1868 326h0M1834 298h0M1834 300h0M1816 332h0M1794 322h0M1868 306h0M1860 292h0M1796 328h0M1816 324h0M1824 302h0M1816 308h0M1782 328h0M1846 302h0M1856 292h0M1846 312h0M1808 324h0M1856 296h0M1832 310h0M1788 312h0M1838 332h0M1848 330h0M1870 306h0M1856 308h0M1820 328h0M1816 322h0M1818 306h0M1856 332h0M1858 334h0M1820 308h0M1844 330h0M1824 304h0M1864 306h0M1842 330h0M1862 290h0M1832 308h0M1792 316h0M1862 330h0M1836 298h0M1832 294h0M1842 290h0M1860 302h0M1808 332h0M1820 312h0M1838 336h0M1798 316h0M1800 326h0M1806 328h0M1842 334h0M1798 312h0M1820 310h0M1850 296h0M1804 322h0M1798 322h0M1870 332h0M1794 308h0M1810 328h0M1864 322h0M1870 318h0M1844 302h0M1814 312h0M1784 306h0M1802 326h0M1822 332h0M1864 310h0M1806 314h0M1864 298h0M1816 334h0M1870 308h0M1850 334h0M1802 314h0M1828 302h0M1838 300h0M1868 330h0M1834 304h0M1804 316h0M1822 328h0M1852 300h0M1852 298h0M1856 300h0M1858 322h0M1872 306h0M1838 294h0M1780 314h0M1816 330h0M1866 316h0M1868 294h0M1874 312h0M1832 330h0M1860 298h0M1874 318h0M1788 324h0M1858 332h0M1836 336h0M1796 308h0M1870 296h0M1810 326h0M1874 314h0M1802 310h0M1808 328h0M1802 328h0M1818 298h0M1802 318h0M1864 296h0M1858 312h0M1808 326h0M1810 332h0M1870 288h0M1870 298h0M1836 300h0M1824 334h0M1862 300h0M1848 296h0M1850 300h0M1864 294h0M1854 342h0M1872 330h0M1810 306h0M1868 314h0M1804 324h0M1870 338h0M1874 320h0M1822 300h0M1802 320h0M1800 332h0M1826 304h0M1810 324h0M1868 316h0M1858 300h0M1800 312h0M1872 296h0M1856 336h0M1864 336h0M1868 302h0M1800 320h0M1854 300h0M1802 308h0M1854 298h0M1806 316h0M1862 292h0M1850 330h0M1806 310h0M1806 304h0M1800 310h0M1874 302h0M1798 326h0M1874 324h0M1818 330h0M1870 324h0M1808 308h0M1850 326h0M1798 314h0M1802 324h0M1824 300h0M1870 328h0M1800 304h0M1872 342h0M1812 334h0M1864 326h0M1832 300h0M1860 336h0M1874 286h0M1848 334h0M1804 312h0M1874 322h0M1856 334h0M1870 302h0M1868 332h0M1868 336h0M1816 306h0M1870 336h0M1798 310h0M1856 328h0M1872 300h0M1844 334h0M1862 334h0M1860 334h0M1872 328h0M1804 328h0M1814 292h0M1824 292h0M1820 294h0M1820 288h0M1788 322h0M1820 336h0M1848 328h0M1836 340h0M1854 278h0M1832 296h0M1794 316h0M1824 286h0M1826 270h0M1864 332h0M1814 282h0M1796 334h0M1834 336h0M1788 288h0M1840 298h0M1864 288h0" stroke="#189b47" stroke-width="2.8" stroke-linecap="round" fill="none"/>
<path d="M1862 324h0M1866 304h0M1866 326h0M1850 316h0M1850 300h0M1860 334h0M1854 268h0M1854 292h0M1854 324h0M1842 322h0M1870 314h0M1844 314h0M1842 330h0M1866 314h0M1848 336h0M1868 322h0M1862 284h0M1862 314h0M1854 318h0M1844 288h0M1846 308h0M1858 302h0M1856 322h0M1846 294h0M1846 318h0M1850 298h0M1866 296h0M1854 312h0M1872 328h0M1864 318h0M1872 324h0M1850 288h0M1864 320h0M1868 348h0M1840 306h0M1866 300h0M1862 326h0M1860 332h0M1870 308h0M1854 314h0M1852 308h0M1864 306h0M1864 322h0M1844 300h0M1870 320h0M1870 310h0M1868 290h0M1850 326h0M1870 312h0M1862 286h0M1866 292h0M1858 324h0M1854 322h0M1852 304h0M1852 322h0M1866 312h0M1850 334h0M1852 302h0M1862 338h0M1856 310h0M1838 302h0M1854 336h0M1874 332h0M1864 342h0M1848 284h0M1848 342h0M1854 332h0M1860 308h0M1850 312h0M1862 296h0M1844 292h0M1862 306h0M1832 322h0M1858 316h0M1860 298h0M1862 302h0M1858 338h0M1860 324h0M1858 322h0M1874 328h0M1868 302h0M1852 282h0M1854 320h0M1868 314h0M1848 310h0M1868 312h0M1844 326h0M1878 300h0M1870 344h0M1852 320h0M1854 342h0M1858 334h0M1870 330h0M1864 312h0M1856 328h0M1878 308h0M1862 280h0M1856 332h0M1864 326h0M1882 304h0M1862 310h0M1842 306h0M1860 318h0M1876 296h0M1870 306h0M1852 290h0M1862 334h0M1844 308h0M1864 316h0M1850 306h0" stroke="#a9a9a9" stroke-width="2.8" stroke-linecap="round" fill="none"/>
<path d="M1900 326h0M1874 304h0M1876 320h0M1878 306h0M1884 320h0M1886 324h0M1884 302h0M1898 298h0M1898 320h0M1882 316h0M1878 312h0M1886 330h0M1922 318h0M1904 338h0M1876 308h0M1886 334h0M1878 320h0M1894 330h0M1878 318h0M1882 320h0M1882 322h0M1890 310h0M1894 320h0M1926 294h0M1888 312h0M1882 328h0M1880 320h0M1876 318h0M1934 292h0M1886 302h0M1906 316h0M1882 314h0M1874 318h0M1878 314h0M1882 326h0M1914 320h0M1880 308h0M1894 298h0M1924 304h0M1914 304h0M1894 322h0M1932 276h0M1878 330h0M1892 312h0M1912 294h0M1878 326h0M1886 322h0M1922 306h0M1894 300h0M1920 310h0M1892 310h0M1894 306h0M1884 314h0M1914 302h0M1894 308h0M1886 308h0M1882 324h0M1908 320h0M1892 290h0M1904 318h0M1900 298h0M1880 312h0M1900 318h0M1874 308h0M1904 326h0M1876 324h0M1900 296h0M1874 306h0M1884 326h0M1878 332h0M1904 308h0M1882 334h0M1886 314h0M1912 280h0M1918 322h0M1922 336h0M1874 326h0M1878 328h0M1878 322h0M1904 310h0M1884 312h0M1906 312h0M1896 324h0M1898 312h0M1878 282h0M1926 314h0M1878 310h0M1884 308h0M1876 334h0M1888 330h0M1874 310h0M1884 334h0M1886 326h0M1920 280h0M1880 306h0M1882 306h0M1876 314h0M1920 312h0M1884 304h0M1914 312h0M1892 320h0M1928 332h0M1890 332h0M1886 320h0M1882 312h0M1882 304h0M1878 300h0M1896 314h0M1880 310h0M1898 334h0M1886 310h0M1876 292h0M1900 304h0M1892 296h0M1882 308h0M1924 294h0M1890 326h0M1884 300h0M1888 322h0M1904 294h0M1904 322h0M1898 316h0M1878 324h0M1888 336h0M1884 310h0M1904 306h0M1878 334h0M1890 300h0M1888 314h0M1900 306h0M1888 270h0M1876 312h0M1880 318h0M1898 326h0M1886 328h0M1884 296h0M1948 326h0M1890 294h0M1884 322h0M1874 330h0M1880 298h0M1916 284h0M1890 304h0M1906 306h0M1892 304h0M1914 308h0M1892 316h0M1876 310h0M1936 300h0M1880 302h0M1892 286h0M1898 302h0M1892 306h0M1890 328h0M1904 314h0M1880 324h0M1904 302h0M1928 322h0M1896 320h0M1878 302h0M1894 316h0M1882 298h0M1922 330h0M1892 324h0M1906 292h0M1902 320h0M1902 324h0M1890 324h0M1900 302h0M1892 300h0M1910 316h0M1898 286h0M1888 320h0M1910 328h0M1934 314h0M1900 284h0M1898 310h0M1940 322h0M1884 306h0M1908 316h0M1882 310h0M1874 302h0M1886 316h0M1894 302h0M1874 320h0M1910 296h0M1898 318h0M1886 332h0M1896 322h0M1892 326h0M1878 294h0M1888 290h0M1880 326h0M1890 290h0M1932 292h0M1888 318h0M1886 304h0M1942 324h0M1916 290h0M1894 304h0M1890 320h0M1888 306h0M1930 316h0M1886 318h0M1906 314h0M1874 322h0M1884 328h0M1890 316h0M1918 314h0M1878 304h0M1892 318h0M1894 292h0M1900 334h0M1896 308h0M1940 326h0M1910 298h0M1888 296h0M1876 328h0M1874 324h0M1906 322h0M1898 322h0M1896 330h0M1900 332h0M1888 338h0M1894 324h0M1880 314h0M1892 282h0M1904 292h0M1874 316h0M1910 334h0M1878 316h0M1902 322h0M1886 298h0M1910 308h0M1908 302h0M1892 308h0M1886 312h0M1912 310h0M1934 312h0M1910 324h0M1888 326h0M1902 308h0M1904 304h0M1880 316h0M1904 312h0M1890 312h0M1884 324h0M1900 286h0M1876 304h0M1906 300h0M1896 310h0M1928 310h0M1942 332h0M1890 334h0M1876 298h0M1940 278h0M1918 312h0M1892 332h0M1924 326h0M1896 306h0M1920 326h0M1908 334h0M1876 306h0M1890 308h0M1884 298h0M1894 326h0M1904 300h0M1924 296h0M1896 294h0M1882 332h0M1902 302h0M1928 308h0M1902 296h0M1884 316h0M1904 316h0M1914 326h0M1876 316h0M1874 328h0M1908 312h0M1884 330h0M1898 308h0M1882 300h0M1896 336h0M1894 336h0M1890 318h0M1880 322h0M1876 326h0M1900 300h0M1920 284h0M1900 322h0M1906 298h0M1906 290h0M1908 328h0M1894 328h0M1926 324h0M1918 294h0M1894 318h0M1894 296h0M1920 304h0M1882 318h0M1880 340h0M1884 292h0M1902 314h0M1944 318h0M1886 306h0M1924 316h0M1882 296h0M1880 330h0M1880 336h0M1916 308h0M1884 318h0M1874 340h0M1898 338h0M1910 322h0M1874 332h0M1904 290h0M1934 318h0M1886 338h0M1886 296h0M1896 300h0M1898 296h0M1902 332h0M1896 298h0M1908 288h0M1914 294h0M1908 342h0M1890 322h0M1884 290h0M1910 300h0M1942 306h0M1898 300h0M1918 332h0M1910 332h0M1892 334h0M1912 334h0M1954 294h0M1874 312h0M1900 310h0M1890 302h0M1938 312h0M1904 320h0M1888 302h0M1890 306h0M1934 332h0M1898 292h0M1888 304h0M1888 316h0M1906 324h0M1914 310h0M1892 294h0M1894 312h0M1938 286h0M1874 338h0M1884 332h0M1898 306h0M1898 314h0M1904 282h0M1900 324h0M1888 308h0M1890 330h0M1918 298h0M1912 318h0M1880 332h0M1906 310h0M1948 290h0M1880 304h0M1898 328h0M1924 290h0M1900 312h0M1934 282h0M1900 320h0M1920 314h0M1910 320h0M1914 306h0M1900 338h0M1892 330h0M1916 268h0M1942 330h0M1878 340h0M1894 276h0M1894 294h0M1896 326h0M1890 296h0M1912 330h0M1912 314h0M1888 298h0M1880 328h0M1876 302h0M1918 290h0M1960 318h0M1896 318h0M1888 328h0M1874 298h0M1900 288h0M1910 312h0M1910 330h0M1930 314h0M1896 316h0M1918 318h0M1894 334h0M1882 302h0M1944 292h0M1920 306h0M1896 332h0M1880 292h0M1920 348h0M1874 314h0M1876 330h0M1878 296h0M1922 290h0M1880 334h0M1886 300h0M1896 338h0M1936 306h0M1886 290h0M1876 338h0M1910 344h0M1906 296h0M1874 300h0M1902 318h0M1930 306h0M1934 298h0M1896 340h0M1894 314h0M1916 318h0M1912 316h0M1902 326h0M1892 328h0M1882 330h0M1924 308h0M1938 338h0M1906 320h0M1900 330h0M1900 292h0M1930 282h0M1876 322h0M1948 334h0M1896 328h0M1942 328h0M1876 300h0M1906 288h0M1922 288h0M1908 304h0M1930 352h0M1942 334h0M1910 306h0M1888 310h0M1896 312h0M1896 302h0M1890 298h0M1892 292h0M1954 302h0M1904 288h0M1896 344h0M1878 290h0M1922 294h0M1892 284h0M1874 334h0M1920 318h0M1922 282h0M1958 292h0M1910 290h0M1934 288h0M1916 306h0M1908 314h0M1908 318h0M1918 324h0M1950 318h0M1892 302h0M1892 322h0M1912 302h0M1880 294h0M1930 304h0M1920 322h0M1890 340h0M1898 324h0M1880 342h0M1926 266h0M1908 310h0M1878 336h0M1918 304h0M1902 336h0M1912 308h0M1928 284h0M1926 312h0M1916 302h0M1932 294h0M1910 310h0M1886 292h0M1880 300h0M1908 308h0M1896 296h0M1908 280h0M1892 314h0M1902 328h0M1938 294h0M1878 298h0M1912 292h0M1916 298h0M1888 324h0M1878 308h0M1876 296h0M1944 306h0M1918 296h0M1944 264h0M1956 336h0M1928 318h0M1928 286h0M1918 280h0M1884 294h0M1896 290h0M1890 314h0M1900 328h0M1924 314h0M1918 316h0M1898 304h0M1928 312h0M1886 342h0M1926 296h0M1912 290h0M1876 294h0M1876 332h0M1906 282h0M1914 296h0M1888 300h0M1908 292h0M1906 334h0M1906 318h0M1916 326h0M1904 328h0M1910 314h0M1912 336h0M1910 326h0M1912 288h0M1890 288h0M1880 288h0M1908 300h0M1902 304h0M1900 294h0M1942 272h0M1916 320h0M1908 332h0M1886 294h0M1910 292h0M1888 288h0M1936 280h0M1922 312h0M1898 290h0M1920 340h0M1922 326h0M1900 340h0M1916 300h0M1910 304h0M1934 328h0M1904 324h0M1926 302h0M1894 310h0M1920 298h0M1908 322h0M1916 312h0M1934 320h0M1900 316h0M1912 296h0M1922 304h0M1874 296h0M1916 296h0M1926 310h0M1908 324h0M1880 296h0M1922 316h0M1930 280h0M1924 318h0M1898 340h0M1922 300h0M1894 290h0M1878 292h0M1888 334h0M1936 298h0M1896 304h0M1912 298h0M1882 346h0M1886 340h0M1934 322h0M1932 312h0M1924 322h0M1918 292h0M1902 306h0M1912 304h0M1924 330h0M1890 336h0M1912 346h0M1900 290h0M1920 324h0M1918 302h0M1910 318h0M1908 330h0M1912 320h0M1900 308h0M1914 300h0M1918 336h0M1882 340h0M1924 302h0M1922 324h0M1912 338h0M1916 286h0M1908 306h0M1884 336h0M1888 332h0M1894 278h0M1892 288h0M1906 330h0M1906 342h0M1898 294h0M1922 302h0M1902 282h0M1914 332h0M1918 278h0M1924 340h0M1880 338h0M1914 318h0M1914 292h0M1922 328h0M1944 276h0M1894 288h0M1896 292h0M1910 284h0M1900 314h0M1902 290h0M1898 330h0M1894 342h0M1902 298h0M1910 338h0M1948 320h0M1926 300h0M1908 298h0M1904 286h0M1888 342h0M1906 346h0M1924 292h0M1882 336h0M1888 294h0M1946 288h0M1914 270h0M1918 300h0M1892 276h0M1932 298h0M1940 334h0M1920 344h0M1914 338h0M1930 266h0M1930 328h0M1922 310h0M1880 290h0M1922 314h0M1906 332h0M1898 332h0M1888 292h0M1902 312h0M1938 328h0M1928 300h0M1924 312h0M1942 292h0M1926 326h0M1874 294h0M1892 338h0M1894 340h0M1890 286h0M1940 296h0M1908 350h0M1910 342h0M1948 280h0M1924 336h0M1924 286h0M1926 318h0M1930 310h0M1896 288h0M1908 296h0M1882 338h0M1936 310h0M1904 298h0M1876 290h0M1934 308h0M1912 286h0M1904 332h0M1878 342h0M1938 284h0M1920 316h0M1916 288h0M1916 316h0M1914 328h0M1942 286h0M1914 286h0M1938 318h0M1914 314h0M1882 292h0M1916 292h0M1914 280h0M1926 254h0M1948 344h0M1946 302h0M1896 268h0M1906 254h0M1918 308h0M1926 298h0M1938 346h0M1948 310h0M1896 260h0M1912 282h0M1926 290h0M1950 310h0M1888 282h0M1946 276h0M1948 292h0M1914 342h0M1930 334h0M1932 316h0M1908 294h0M1952 322h0M1904 270h0M1928 256h0M1942 254h0M1904 336h0M1946 298h0M1944 310h0M1942 320h0M1910 272h0M1940 260h0M1934 334h0M1888 366h0M1946 260h0M1932 284h0M1904 262h0M1942 370h0M1930 302h0M1902 238h0M1900 268h0M1936 226h0M1936 336h0M1934 280h0M1934 252h0M1930 276h0M1922 286h0M1904 264h0M1940 292h0M1898 284h0M1932 342h0M1914 266h0M1900 374h0M1918 348h0M1888 280h0M1946 296h0M1938 280h0M1882 258h0" stroke="#ec1c24" stroke-width="2.8" stroke-linecap="round" fill="none"/>
<path d="M1968 294h0M1912 274h0M1918 320h0M1900 292h0M1906 268h0M1918 292h0M1912 338h0M1920 318h0M1902 306h0M1942 284h0M1946 290h0M1894 274h0M1930 300h0M1958 330h0M1896 272h0M1908 288h0M1934 338h0M1902 302h0M1912 328h0M1918 240h0M1944 304h0M1944 298h0M1908 274h0M1952 330h0M1932 280h0M1922 302h0M1960 288h0M1904 334h0M1904 286h0M1946 334h0M1904 296h0M1904 288h0M1926 284h0M1900 276h0M1940 338h0M1940 254h0M1900 302h0M1898 296h0M1910 272h0M1898 254h0M1968 318h0M1942 292h0M1958 264h0M1948 288h0M1940 242h0M1904 278h0M1944 312h0M1950 312h0M1904 300h0M1898 298h0M1904 314h0M1944 290h0M1926 274h0M1934 306h0M1950 272h0M1964 280h0M1946 288h0M1928 260h0M1936 262h0M1910 326h0M1936 290h0M1950 284h0M1956 324h0M1940 334h0M1966 300h0M1936 320h0M1960 302h0M1900 328h0M1946 280h0" stroke="#4a80bd" stroke-width="2.8" stroke-linecap="round" fill="none"/>
<circle cx="1537.6" cy="155.4" r="1.6" fill="#189b47"/>
<circle cx="1654.0" cy="210.0" r="1.6" fill="#ec1c24"/><circle cx="1680.3" cy="207.5" r="1.6" fill="#ec1c24"/><circle cx="1651.0" cy="233.5" r="1.6" fill="#ec1c24"/>
<circle cx="1665.6" cy="200.0" r="1.6" fill="#4a80bd"/><circle cx="1660.0" cy="236.0" r="1.6" fill="#4a80bd"/><circle cx="1669.0" cy="246.8" r="1.6" fill="#4a80bd"/>
<circle cx="1669.7" cy="258.5" r="1.6" fill="#ec1c24"/><circle cx="1661.0" cy="261.0" r="1.6" fill="#ec1c24"/><circle cx="1656.0" cy="251.0" r="1.6" fill="#ec1c24"/>
<text x="1527.3" y="174.0" font-size="20.45" fill="#1a9a50"><tspan font-style="italic">Obox5</tspan></text>
<text x="1639.9" y="187.0" font-size="21.17" fill="#3d86c6"><tspan font-style="italic">Guca1a</tspan></text>
<text x="1578.2" y="207.0" font-size="19.60" fill="#e31d2b"><tspan font-style="italic">Trim43a</tspan></text>
<text x="1642.4" y="235.0" font-size="20.27" fill="#3d86c6"><tspan font-style="italic">Bex6</tspan></text>
<text x="1659.8" y="268.0" font-size="20.29" fill="#e31d2b"><tspan font-style="italic">Trim43b</tspan></text>
<circle cx="1969.5" cy="150.5" r="1.6" fill="#ec1c24"/><circle cx="1953.1" cy="197.3" r="1.6" fill="#ec1c24"/><circle cx="1919.7" cy="229.5" r="1.6" fill="#ec1c24"/><circle cx="1982.2" cy="215.7" r="1.6" fill="#ec1c24"/><circle cx="1900.2" cy="240.2" r="1.6" fill="#ec1c24"/>
<circle cx="1963.1" cy="180.7" r="1.6" fill="#4a80bd"/><circle cx="1967.4" cy="224.8" r="1.6" fill="#4a80bd"/><circle cx="1930.4" cy="240.2" r="1.6" fill="#4a80bd"/>
<circle cx="1853.8" cy="225.9" r="1.6" fill="#a9a9a9"/><circle cx="1849.3" cy="237.0" r="1.6" fill="#a9a9a9"/><circle cx="1837.0" cy="239.5" r="1.6" fill="#a9a9a9"/><circle cx="1834.7" cy="256.5" r="1.6" fill="#a9a9a9"/>
<circle cx="1825.2" cy="245.9" r="1.6" fill="#189b47"/>
<text x="1904.3" y="154.8" font-size="20.38" fill="#e31d2b"><tspan font-style="italic">Obox3</tspan></text>
<text x="1957.3" y="174.7" font-size="20.79" fill="#3d86c6"><tspan font-style="italic">Guca1a</tspan></text>
<text x="1878.2" y="196.2" font-size="20.37" fill="#e31d2b"><tspan font-style="italic">Trim43a</tspan></text>
<text x="1867.4" y="225.6" font-size="20.09" fill="#e31d2b"><tspan font-style="italic">Pemt</tspan></text>
<text x="1919.9" y="225.6" font-size="19.78" fill="#3d86c6"><tspan font-style="italic">Bex6</tspan></text>
<text x="1963.1" y="252.6" font-size="20.84" fill="#e31d2b"><tspan font-style="italic">Trim43b</tspan></text>
<line x1="1474.0" y1="318.3" x2="1695.0" y2="318.3" stroke="#000" stroke-width="2.7" stroke-dasharray="7.8,7.3" stroke-dashoffset="1.9"/>
<line x1="1777.0" y1="318.3" x2="1990.0" y2="318.3" stroke="#000" stroke-width="2.7" stroke-dasharray="7.6,7.0" stroke-dashoffset="14.2"/>
<line x1="1472.8" y1="153.0" x2="1472.8" y2="385.5" stroke="#333333" stroke-width="1.9"/>
<line x1="1472.0" y1="384.6" x2="1697.0" y2="384.6" stroke="#333333" stroke-width="1.9"/>
<line x1="1468.2" y1="153.9" x2="1472.8" y2="153.9" stroke="#333333" stroke-width="1.8"/>
<line x1="1468.2" y1="318.3" x2="1472.8" y2="318.3" stroke="#333333" stroke-width="1.8"/>
<line x1="1468.2" y1="373.2" x2="1472.8" y2="373.2" stroke="#333333" stroke-width="1.8"/>
<line x1="1482.8" y1="384.6" x2="1482.8" y2="391.4" stroke="#333333" stroke-width="1.9"/>
<line x1="1550.7" y1="384.6" x2="1550.7" y2="391.4" stroke="#333333" stroke-width="1.9"/>
<line x1="1686.4" y1="384.6" x2="1686.4" y2="391.4" stroke="#333333" stroke-width="1.9"/>
<text x="1454.7" y="163.5" font-size="20.50" fill="#000">9</text>
<text x="1454.5" y="326.4" font-size="20.50" fill="#000">0</text>
<text x="1442.6" y="381.0" font-size="20.50" fill="#000">−3</text>
<text x="1469.7" y="408.0" font-size="20.50" fill="#000">−5</text>
<text x="1545.0" y="408.0" font-size="20.50" fill="#000">0</text>
<text x="1674.6" y="408.0" font-size="20.50" fill="#000">10</text>
<line x1="1775.9" y1="155.0" x2="1775.9" y2="382.8" stroke="#333333" stroke-width="1.9"/>
<line x1="1775.0" y1="381.9" x2="1994.4" y2="381.9" stroke="#333333" stroke-width="1.9"/>
<line x1="1771.5" y1="155.9" x2="1775.9" y2="155.9" stroke="#333333" stroke-width="1.8"/>
<line x1="1771.5" y1="318.1" x2="1775.9" y2="318.1" stroke="#333333" stroke-width="1.8"/>
<line x1="1771.5" y1="371.8" x2="1775.9" y2="371.8" stroke="#333333" stroke-width="1.8"/>
<line x1="1785.7" y1="381.9" x2="1785.7" y2="388.7" stroke="#333333" stroke-width="1.9"/>
<line x1="1851.9" y1="381.9" x2="1851.9" y2="388.7" stroke="#333333" stroke-width="1.9"/>
<line x1="1984.9" y1="381.9" x2="1984.9" y2="388.7" stroke="#333333" stroke-width="1.9"/>
<text x="1758.0" y="165.5" font-size="20.50" fill="#000">9</text>
<text x="1757.8" y="326.2" font-size="20.50" fill="#000">0</text>
<text x="1745.9" y="379.8" font-size="20.50" fill="#000">−3</text>
<text x="1772.7" y="407.7" font-size="20.50" fill="#000">−5</text>
<text x="1846.2" y="407.7" font-size="20.50" fill="#000">0</text>
<text x="1973.1" y="407.7" font-size="20.50" fill="#000">10</text>
<line x1="1473.0" y1="416.4" x2="1998.4" y2="416.4" stroke="#000" stroke-width="2"/>
<text x="1629" y="452" font-size="22.5" fill="#000" textLength="219" lengthAdjust="spacingAndGlyphs">WT L2C / MII FC (log<tspan font-size="14" dy="5">2</tspan><tspan dy="-5">)</tspan></text>
<text transform="translate(1437,264.6) rotate(-90)" text-anchor="middle" font-size="23" fill="#000" textLength="171" lengthAdjust="spacingAndGlyphs">OE / Ctrl FC (log<tspan font-size="14" dy="5">2</tspan><tspan dy="-5">)</tspan></text>
<text x="10.5" y="628.5" font-size="33" font-weight="bold" fill="#231815">e</text>
<text x="861.0" y="651.8" font-size="29.51" fill="#231815">Gene</text>
<text x="1584.2" y="652.0" font-size="29.73" fill="#231815">Repeat</text>
<line x1="453.4" y1="667.9" x2="1350.6" y2="667.9" stroke="#000" stroke-width="2.2"/>
<line x1="1428.0" y1="667.9" x2="1848.4" y2="667.9" stroke="#000" stroke-width="2.2"/>
<line x1="1381.7" y1="668.8" x2="1381.7" y2="902.6" stroke="#000" stroke-width="2.6"/>
<text x="180.5" y="722.0" font-size="29.32" fill="#000">OBOX5</text>
<text x="296.6" y="722.0" font-size="29.97" fill="#000">L2C</text>
<text x="180.5" y="758.0" font-size="29.32" fill="#000">OBOX3</text>
<text x="296.6" y="758.0" font-size="29.97" fill="#000">L2C</text>
<line x1="291.7" y1="698.0" x2="291.7" y2="728.5" stroke="#000" stroke-width="3"/>
<line x1="291.7" y1="734.5" x2="291.7" y2="765.6" stroke="#000" stroke-width="3"/>
<text x="297.7" y="795.0" font-size="29.40" fill="#000">OBOX motif</text>
<text x="179.4" y="866.0" font-size="29.85" fill="#000">RNA</text>
<line x1="291.7" y1="807.0" x2="291.7" y2="904.0" stroke="#000" stroke-width="3"/>
<text x="297.1" y="866.0" font-size="29.34" fill="#000">mESC</text>
<line x1="387.0" y1="807.0" x2="387.0" y2="904.0" stroke="#000" stroke-width="3"/>
<text x="396.2" y="832.0" font-size="30.07" fill="#000">Ctrl</text>
<text x="397.9" y="867.0" font-size="28.87" fill="#000"><tspan font-style="italic">5</tspan>OE</text>
<text x="397.8" y="897.4" font-size="28.94" fill="#000"><tspan font-style="italic">3</tspan>OE</text>
<text x="344.0" y="940.6" font-size="29.43" fill="#000">Gene</text>
<path d="M464.5,733.3L464.5,731.5L465.1,731.5L465.7,731L466.3,730.5L466.9,730.5L467.5,731L468.1,731.5L468.7,732L469.3,732L469.9,732.5L470.5,733L479.5,733L480.1,732.5L480.7,731.5L481.3,731L481.9,729.5L482.5,729L483.1,728L483.7,727.5L484.3,726L484.9,727L485.5,728L486.1,728.5L486.7,729.5L487.3,730.5L487.9,731L488.5,732L489.7,732L490.3,731.5L490.9,731.5L491.5,731L492.1,731L492.7,730.5L493.3,731L493.9,731.5L494.5,731.5L495.1,732L495.7,732L496.3,732.5L496.9,732.5L497.5,733L498.7,733L499.3,732.5L499.9,733L502.9,733L503.5,732.5L504.1,732.5L504.7,733L506.5,733L507.1,732.5L510.1,732.5L510.7,733L512.5,733L513.1,732.5L513.7,733L514.9,733L515.5,732.5L516.1,732L516.7,731.5L517.3,731L517.9,731L518.5,730.5L519.1,730L519.7,729L520.3,727.5L520.9,726.5L521.5,725L522.1,725L522.7,722.5L523.3,722L523.9,722.5L524.5,722L525.1,720.5L525.7,718.5L526.3,719L526.9,719.5L527.5,721L528.1,721.5L528.7,723L529.3,724L529.9,725L530.5,726.5L531.1,728L531.7,729L532.3,730L532.9,731L533.5,731.5L534.1,732L534.7,732.5L535.3,732.5L535.9,733L537.1,733L537.7,732.5L538.3,731.5L538.9,731L539.5,731L540.1,730L540.7,730L541.3,729L541.9,728.5L542.5,727L543.1,726L543.7,726L544.3,724.5L544.9,723L545.5,722.5L546.1,722.5L546.7,721L547.3,721L547.9,720L548.5,718.5L549.1,718.5L549.7,716.5L550.3,717L550.9,714L551.5,714.5L552.1,715.5L552.7,716.5L553.3,718L553.9,718L554.5,721L555.1,722L555.7,722L556.3,721.5L556.9,722L557.5,722.5L558.1,725L559.3,725L559.9,726.5L560.5,728L561.1,729L561.7,729.5L562.3,731L562.9,731.5L563.5,732.5L564.1,732.5L564.7,732L565.9,732L566.5,732.5L567.7,732.5L568.3,733L570.7,733L571.3,732.5L572.5,732.5L573.1,732L573.7,732L574.3,732.5L576.1,732.5L576.7,733L583.9,733L584.2,733.3Z" fill="#1f9d55" stroke="#1f9d55" stroke-width="0.4"/>
<line x1="464.5" y1="733.3" x2="584.2" y2="733.3" stroke="#1f9d55" stroke-width="1.6"/>
<path d="M464.5,769L464.5,768L465.1,767.5L465.7,766.5L466.3,766L466.9,766.5L467.5,767L468.1,767.5L468.7,768.5L472.9,768.5L473.5,768L474.1,767.5L474.7,766.5L475.3,766L475.9,766.5L476.5,767L477.1,768L477.7,768.5L482.5,768.5L483.1,767.5L483.7,766L484.3,765L484.9,763L485.5,762L486.1,760.5L486.7,762.5L487.3,764L487.9,765.5L488.5,766.5L489.1,768L489.7,768.5L492.1,768.5L492.7,767.5L493.3,767.5L493.9,767L494.5,767.5L495.1,767.5L495.7,768L496.3,768.5L499.9,768.5L500.5,768L501.1,767L501.7,766.5L502.3,766.5L502.9,767L503.5,767.5L504.1,768L504.7,768.5L510.1,768.5L510.7,768L511.3,767L511.9,766.5L512.5,767L513.1,767.5L513.7,768L514.3,768.5L514.9,768.5L515.5,767L516.1,765L516.7,763.5L517.3,763L517.9,762.5L518.5,763.5L519.1,765.5L519.7,767L520.3,768.5L520.9,768L521.5,767L522.1,765L522.7,763.5L523.3,762.5L523.9,761.5L524.5,760L525.1,759L525.7,759L526.3,757.5L526.9,757L527.5,758.5L528.1,759L528.7,760L529.3,762L529.9,763L530.5,764.5L531.1,765.5L531.7,766.5L532.3,768L532.9,768.5L534.1,768.5L534.7,768L535.3,767.5L535.9,767L536.5,767L537.1,766.5L537.7,765L538.3,764L538.9,762.5L539.5,762L540.1,762L540.7,760L541.3,758.5L541.9,760L542.5,762L543.1,763L543.7,763.5L544.3,764.5L544.9,765.5L545.5,766.5L546.1,767.5L546.7,767L547.3,766.5L547.9,766L548.5,765.5L549.1,766L549.7,766.5L550.3,767L550.9,767L551.5,766L552.1,765L552.7,764.5L553.3,763L553.9,761.5L554.5,762L555.1,763.5L555.7,764L556.3,765.5L556.9,766.5L557.5,767L558.1,768.5L568.3,768.5L568.9,768L569.5,767.5L570.1,767L570.7,767L571.3,767.5L571.9,768L572.5,768.5L573.1,769L573.7,769L574.3,768.5L580.9,768.5L581.5,768L582.1,767.5L582.7,767L583.3,767L583.9,767.5L584.2,769Z" fill="#1f9d55" stroke="#1f9d55" stroke-width="0.4"/>
<line x1="464.5" y1="769.0" x2="584.2" y2="769.0" stroke="#1f9d55" stroke-width="1.6"/>
<path d="M476.2 778.7V786.9M519.3 778.7V786.9M526.6 778.7V786.9M528.2 778.7V786.9M543.6 778.7V786.9M551.7 778.7V786.9M556.9 778.7V786.9" stroke="#222" stroke-width="1.6"/>
<path d="M464.5,822L464.5,822L486.7,822L487.3,821.5L487.9,822L488.5,822L489.1,821.5L489.7,822L501.7,822L502.3,821.5L504.1,821.5L504.7,822L507.1,822L507.7,821.5L508.9,821.5L509.5,822L510.7,822L511.3,821.5L513.7,821.5L514.3,822L519.1,822L519.7,821.5L522.7,821.5L523.3,822L540.1,822L540.7,821.5L543.7,821.5L544.3,822L544.9,821.5L545.5,822L560.5,822L561.1,821.5L561.7,822L565.3,822L565.9,821.5L566.5,820.5L567.1,820L567.7,819.5L568.3,819.5L568.9,820.5L569.5,821L570.1,821.5L570.7,822L580.3,822L580.9,821.5L582.7,821.5L583.3,822L583.9,822L584.2,822Z" fill="#e98b2a" stroke="#e98b2a" stroke-width="0.4"/>
<line x1="464.5" y1="822.0" x2="584.2" y2="822.0" stroke="#e98b2a" stroke-width="1.5"/>
<path d="M464.5,858.3L464.5,858L537.7,858L538.3,857L538.9,856.5L539.5,855.5L540.1,856L540.7,857L541.3,858L549.1,858L549.7,857.5L550.3,857L550.9,857L551.5,857.5L552.1,857.5L552.7,858L555.7,858L556.3,851.5L556.9,851L558.1,851L558.7,851.5L559.3,851.5L559.9,858L562.9,858L563.5,846.5L564.1,848L564.7,846.5L565.3,847L565.9,846.5L566.5,846L567.1,842L567.7,841.5L568.3,845L568.9,846L569.5,847L570.1,854L570.7,857L571.3,858L583.3,858L583.9,858.5L584.2,858.3Z" fill="#e98b2a" stroke="#e98b2a" stroke-width="0.4"/>
<line x1="464.5" y1="858.3" x2="584.2" y2="858.3" stroke="#e98b2a" stroke-width="1.5"/>
<path d="M464.5,894.3L464.5,894L537.1,894L537.7,893.5L538.3,892L538.9,890.5L539.5,889L540.1,890.5L540.7,891.5L541.3,893.5L541.9,894L549.1,894L549.7,893.5L550.3,893L550.9,892.5L551.5,893L552.1,893.5L552.7,894L555.7,894L556.3,883.5L556.9,884L557.5,883L558.1,883.5L559.3,883.5L559.9,894L562.9,894L563.5,877.5L564.1,878L564.7,878.5L565.3,878L565.9,878L566.5,875L567.1,871.5L567.7,871.5L568.3,876.5L568.9,877L569.5,877.5L570.1,884.5L570.7,889L571.3,892.5L571.9,894L583.9,894L584.2,894.3Z" fill="#e98b2a" stroke="#e98b2a" stroke-width="0.4"/>
<line x1="464.5" y1="894.3" x2="584.2" y2="894.3" stroke="#e98b2a" stroke-width="1.5"/>
<path d="M622.3,730.8L622.3,730.5L642.7,730.5L643.3,730L645.7,730L646.3,730.5L649.3,730.5L649.9,729.5L650.5,724.5L651.1,722L651.7,725L652.3,727.5L652.9,728L653.5,727L654.1,727L654.7,725.5L655.3,725.5L655.9,723.5L656.5,725.5L657.1,727.5L657.7,727.5L658.3,725L658.9,721.5L659.5,714L660.1,707.5L660.7,715.5L661.3,725L661.9,725.5L662.5,721.5L663.1,723.5L663.7,727.5L664.3,723.5L664.9,717.5L665.5,723.5L666.1,727L666.7,726L667.3,725.5L667.9,723.5L668.5,713.5L669.1,705.5L669.7,714L670.3,718.5L670.9,714L671.5,716L672.1,724L672.7,725L673.3,721.5L673.9,723L674.5,727.5L675.7,727.5L676.3,726L676.9,721.5L677.5,721.5L678.1,726.5L678.7,730.5L680.5,730.5L681.1,730L684.1,730L684.7,729L685.3,729L685.9,730L686.5,730.5L688.3,730.5L688.9,730L689.5,728L690.1,727L690.7,729L691.3,730.5L695.5,730.5L696.1,729.5L696.7,729L697.3,728.5L697.9,730L698.5,730.5L699.1,730L699.7,730L700.3,730.5L703.3,730.5L703.9,730L704.5,729L705.1,728.5L705.7,729.5L706.3,730.5L710.5,730.5L711.1,730L711.7,729L712.3,729L712.9,730L713.5,730.5L718.3,730.5L718.9,730L719.5,728.5L720.1,727.5L720.7,729L721.3,730.5L721.9,730.5L722.5,730L723.7,730L724.3,729.5L724.9,728.5L725.5,729L726.1,730L726.7,730.5L730.9,730.5L731.5,729L732.1,728.5L732.7,729.5L733.3,730.5L735.7,730.5L736.3,729.5L736.9,728.5L737.5,729L738.1,730.5L741.7,730.5L741.7,730.8Z" fill="#1f9d55" stroke="#1f9d55" stroke-width="0.4"/>
<line x1="622.3" y1="730.8" x2="741.7" y2="730.8" stroke="#1f9d55" stroke-width="1.6"/>
<path d="M622.3,768.2L622.3,768L622.9,768L623.5,767.5L624.1,767.5L624.7,768L625.9,768L626.5,765L627.1,762L627.7,764L628.3,768L632.5,768L633.1,767.5L633.7,768L634.3,767L634.9,765.5L635.5,766.5L636.1,767.5L636.7,768L637.3,767.5L637.9,768L639.7,768L640.3,767L640.9,766L641.5,766.5L642.1,767.5L642.7,768L643.3,768L643.9,767.5L646.3,767.5L646.9,768L647.5,768L648.1,764L648.7,764.5L649.3,762L649.9,756.5L650.5,761.5L651.1,764L652.9,764L653.5,763.5L654.1,761.5L654.7,763.5L655.3,764L655.9,764L656.5,761.5L657.1,756.5L657.7,760.5L658.3,762L658.9,762.5L659.5,750.5L660.1,746.5L660.7,756.5L661.3,764.5L661.9,763.5L662.5,764.5L663.1,764L663.7,759L664.3,747.5L664.9,750.5L665.5,759.5L666.1,763.5L666.7,762L667.3,761.5L667.9,759.5L668.5,752.5L669.1,746L669.7,755L670.3,756L670.9,747L671.5,751.5L672.1,763L672.7,760.5L673.3,761.5L673.9,763.5L674.5,764.5L675.1,763.5L675.7,764.5L676.3,768L676.9,767.5L678.7,767.5L679.3,767L679.9,765.5L680.5,766.5L681.1,767.5L681.7,768L682.3,767.5L684.7,767.5L685.3,768L687.7,768L688.3,765L688.9,761.5L689.5,765L690.1,768L693.7,768L694.3,767L694.9,766.5L695.5,767L696.1,767.5L698.5,767.5L699.1,768L702.7,768L703.3,767.5L705.1,767.5L705.7,768L709.3,768L709.9,767.5L711.7,767.5L712.3,767L712.9,764.5L713.5,765L714.1,767.5L715.9,767.5L716.5,768L718.3,768L718.9,767.5L721.3,767.5L721.9,768L722.5,761L723.1,747.5L723.7,751L724.3,765.5L724.9,768L730.3,768L730.9,767.5L733.9,767.5L734.5,767L735.1,766.5L735.7,767.5L736.3,768L741.7,768L741.7,768.2Z" fill="#1f9d55" stroke="#1f9d55" stroke-width="0.4"/>
<line x1="622.3" y1="768.2" x2="741.7" y2="768.2" stroke="#1f9d55" stroke-width="1.6"/>
<path d="M637.3 778.7V786.9M646.7 778.7V786.9M649.1 778.7V786.9M651.6 778.7V786.9M654.8 778.7V786.9M656.8 778.7V786.9M658.1 778.7V786.9M661.3 778.7V786.9M664.6 778.7V786.9M667.0 778.7V786.9M669.4 778.7V786.9M671.0 778.7V786.9M674.3 778.7V786.9M677.5 778.7V786.9M690.5 778.7V786.9M706.8 778.7V786.9M723.3 778.7V786.9M726.2 778.7V786.9" stroke="#4a4a4a" stroke-width="1.2"/>
<path d="M622.3,822.6L622.3,822.5L694.9,822.5L695.5,819.5L696.1,822.5L697.3,822.5L697.9,819.5L698.5,822.5L699.7,822.5L700.3,819L700.9,822.5L702.1,822.5L702.7,819.5L703.3,819.5L703.9,822.5L714.1,822.5L714.7,817L715.3,817L715.9,822.5L718.3,822.5L718.9,817L719.5,822.5L741.7,822.5L741.7,822.6Z" fill="#e98b2a" stroke="#e98b2a" stroke-width="0.4"/>
<line x1="622.3" y1="822.6" x2="741.7" y2="822.6" stroke="#e98b2a" stroke-width="1.5"/>
<path d="M622.3,859.1L622.3,859L670.9,859L671.5,847.5L672.1,847.5L672.7,859L674.5,859L675.1,858.5L675.7,859L679.9,859L680.5,858.5L681.1,859L690.1,859L690.7,858.5L691.3,859L693.7,859L694.3,847L695.5,847L696.1,859L696.7,836.5L697.3,836.5L697.9,859L699.1,859L699.7,835.5L700.3,835.5L700.9,859L702.1,859L702.7,834.5L703.3,834.5L703.9,859L710.5,859L711.1,858.5L713.5,858.5L714.1,859L714.7,837L715.3,837L715.9,859L716.5,859L717.1,858.5L717.7,858.5L718.3,835.5L718.9,835.5L719.5,858.5L720.1,859L730.9,859L731.5,858.5L733.3,858.5L733.9,859L741.7,859L741.7,859.1Z" fill="#e98b2a" stroke="#e98b2a" stroke-width="0.4"/>
<line x1="622.3" y1="859.1" x2="741.7" y2="859.1" stroke="#e98b2a" stroke-width="1.5"/>
<path d="M622.3,895.6L622.3,895.5L649.9,895.5L650.5,895L651.1,895L651.7,895.5L655.9,895.5L656.5,895L657.1,895L657.7,895.5L664.9,895.5L665.5,895L666.1,895.5L668.5,895.5L669.1,895L669.7,895L670.3,895.5L670.9,895.5L671.5,882.5L672.1,882.5L672.7,895.5L682.3,895.5L682.9,895L683.5,895L684.1,895.5L693.7,895.5L694.3,878.5L695.5,878.5L696.1,895.5L696.7,869L697.3,869L697.9,895.5L699.1,895.5L699.7,869L700.3,869L700.9,895.5L702.1,895.5L702.7,869L703.3,869L703.9,895L704.5,895L705.1,895.5L706.9,895.5L707.5,895L709.9,895L710.5,895.5L714.1,895.5L714.7,869.5L715.3,869.5L715.9,895.5L717.7,895.5L718.3,869L718.9,869L719.5,895.5L727.3,895.5L727.9,895L728.5,895.5L732.1,895.5L732.7,895L733.9,895L734.5,895.5L735.1,895L735.7,895.5L741.7,895.5L741.7,895.6Z" fill="#e98b2a" stroke="#e98b2a" stroke-width="0.4"/>
<line x1="622.3" y1="895.6" x2="741.7" y2="895.6" stroke="#e98b2a" stroke-width="1.5"/>
<path d="M772.2,732.5L772.2,732.5L774,732.5L774.6,732L780,732L780.6,731.5L781.2,730L781.8,729.5L782.4,728.5L783,728.5L783.6,729.5L784.2,730L784.8,731.5L785.4,732L787.8,732L788.4,731.5L789,731.5L789.6,731L790.8,731L791.4,731.5L792,732L793.8,732L794.4,732.5L795,732.5L795.6,732L802.8,732L803.4,732.5L804,732.5L804.6,732L805.2,731.5L805.8,731L806.4,730.5L807,730L807.6,730.5L808.2,731L808.8,731.5L809.4,732L812.4,732L813,728.5L813.6,724.5L814.2,721.5L814.8,723.5L815.4,726L816,729.5L816.6,732L817.2,732.5L817.8,732L819.6,732L820.2,731.5L820.8,732L825.6,732L826.2,731.5L826.8,731L827.4,730.5L828,730L828.6,730L829.2,730.5L829.8,731L830.4,732L832.8,732L833.4,731.5L834,731L834.6,730.5L835.2,730.5L835.8,731L836.4,731.5L837,732L841.2,732L841.8,732.5L842.4,732.5L843,732L843.6,731.5L844.2,731L844.8,730.5L845.4,730.5L846,731L846.6,731.5L847.2,732L848.4,732L849,732.5L851.4,732.5L852,732L852.6,731L853.2,730.5L853.8,730L854.4,729.5L855,730.5L855.6,731L856.2,731.5L856.8,732.5L857.4,732L858.6,732L859.2,732.5L860.4,732.5L861,732L864.6,732L865.2,731L865.8,724.5L866.4,720L867,716L867.6,717.5L868.2,723.5L868.8,721.5L869.4,719.5L870,716L870.6,718.5L871.2,721.5L871.8,716.5L872.4,719.5L873,725L873.6,732L877.8,732L878.4,731.5L879,731L879.6,730.5L880.2,730.5L880.8,731L881.4,731.5L882,732L883.8,732L884.4,731.5L885,731.5L885.6,731L886.8,731L887.4,731.5L888,732L892.2,732L892.3,732.5Z" fill="#1f9d55" stroke="#1f9d55" stroke-width="0.4"/>
<line x1="772.2" y1="732.5" x2="892.3" y2="732.5" stroke="#1f9d55" stroke-width="1.6"/>
<path d="M772.2,769.5L772.2,767.5L772.8,762.5L773.4,764L774,768.5L774.6,769L780.6,769L781.2,768.5L781.8,767.5L782.4,766.5L783,766.5L783.6,767.5L784.2,768.5L784.8,769L787.2,769L787.8,768L788.4,767.5L789,766.5L789.6,767.5L790.2,768.5L790.8,769L796.2,769L796.8,768.5L797.4,767.5L798,767L798.6,767.5L799.2,768L799.8,769L800.4,769.5L801,769.5L801.6,769L804.6,769L805.2,769.5L805.8,769L806.4,769L807,767L807.6,765L808.2,764.5L808.8,767L809.4,769L813.6,769L814.2,759L814.8,750.5L815.4,750L816,756.5L816.6,761L817.2,758L817.8,756.5L818.4,760L819,762.5L819.6,765.5L820.2,766.5L820.8,765L821.4,764L822,763.5L822.6,765.5L823.2,766.5L823.8,768L824.4,769L825.6,769L826.2,769.5L826.8,769.5L827.4,769L828,767L828.6,763L829.2,762L829.8,765.5L830.4,769.5L831,769.5L831.6,769L833.4,769L834,768L834.6,767L835.2,767L835.8,767.5L836.4,768.5L837,769L837.6,769.5L838.2,769.5L838.8,769L846,769L846.6,767.5L847.2,767L847.8,766L848.4,767.5L849,768L849.6,769L851.4,769L852,769.5L852.6,769L853.2,769.5L853.8,769L855.6,769L856.2,768L856.8,767.5L857.4,767L858,766.5L858.6,766L859.8,766L860.4,766.5L861,767.5L861.6,768L862.2,768.5L862.8,769L863.4,769L864,768.5L864.6,767.5L865.2,766.5L865.8,766.5L866.4,766L867,767L867.6,767.5L868.2,768.5L868.8,769.5L869.4,767L870,760L870.6,753L871.2,749L871.8,755.5L872.4,761L873,766.5L873.6,769L878.4,769L879,768.5L879.6,767.5L880.2,767.5L880.8,768L881.4,769L884.4,769L885,768.5L886.2,768.5L886.8,769L888,769L888.6,767.5L889.2,766L889.8,764L890.4,765L891,766.5L891.6,768.5L892.2,769.5L892.3,769.5Z" fill="#1f9d55" stroke="#1f9d55" stroke-width="0.4"/>
<line x1="772.2" y1="769.5" x2="892.3" y2="769.5" stroke="#1f9d55" stroke-width="1.6"/>
<path d="M808.4 778.7V786.9M815.7 778.7V786.9M829.8 778.7V786.9M868.4 778.7V786.9M872.0 778.7V786.9M886.6 778.7V786.9" stroke="#222" stroke-width="1.6"/>
<path d="M772.2,823.7L772.2,823.5L779.4,823.5L780,823L781.8,823L782.4,823.5L798.6,823.5L799.2,823L801,823L801.6,823.5L819.6,823.5L820.2,812L820.8,812L821.4,823.5L823.2,823.5L823.8,814.5L824.4,814.5L825,823.5L868.2,823.5L868.8,801.5L869.4,801.5L870,823.5L892.2,823.5L892.3,823.7Z" fill="#e98b2a" stroke="#e98b2a" stroke-width="0.4"/>
<line x1="772.2" y1="823.7" x2="892.3" y2="823.7" stroke="#e98b2a" stroke-width="1.5"/>
<path d="M772.2,860.4L772.2,860L773.4,860L774,860.5L776.4,860.5L777,860L778.8,860L779.4,858L780,853L780.6,849L781.2,849.5L781.8,855L782.4,857L783,857L783.6,858L784.2,859L784.8,859.5L785.4,858.5L786,857.5L787.2,857.5L787.8,858L788.4,859L789,859.5L789.6,860L793.2,860L793.8,859.5L794.4,859.5L795,859L795.6,859.5L796.2,859.5L796.8,860L800.4,860L801,860.5L801.6,860.5L802.2,860L804.6,860L805.2,860.5L806.4,860.5L807,860L810.6,860L811.2,860.5L814.2,860.5L814.8,860L819.6,860L820.2,850L820.8,850L821.4,860L823.2,860L823.8,852L824.4,852L825,860L828,860L828.6,854L829.2,854L829.8,860L838.2,860L838.8,859.5L839.4,859.5L840,859L840.6,859.5L841.2,859.5L841.8,860L847.8,860L848.4,860.5L852,860.5L852.6,860L858,860L858.6,860.5L859.2,860L865.8,860L866.4,860.5L867,860L868.2,860L868.8,842L869.4,842L870,860.5L870.6,847L871.2,847L871.8,860L874.8,860L875.4,860.5L876,860L892.2,860L892.3,860.4Z" fill="#e98b2a" stroke="#e98b2a" stroke-width="0.4"/>
<line x1="772.2" y1="860.4" x2="892.3" y2="860.4" stroke="#e98b2a" stroke-width="1.5"/>
<path d="M772.2,897.2L772.2,897L776.4,897L777,896.5L777.6,891L778.2,887L778.8,883.5L779.4,880L780,873.5L780.6,874L781.2,877L781.8,883.5L782.4,888L783,892L783.6,891.5L784.2,889.5L784.8,890.5L785.4,891.5L786,893.5L786.6,894L787.2,893L787.8,892L788.4,893L789,894.5L789.6,895.5L790.2,897L792.6,897L793.2,896.5L793.8,896L794.4,895.5L795.6,895.5L796.2,896L796.8,896.5L797.4,897L807.6,897L808.2,896.5L808.8,896L809.4,896L810,895.5L810.6,896L811.2,896L811.8,896.5L812.4,897L819.6,897L820.2,890L820.8,890L821.4,897L823.2,897L823.8,892L824.4,892L825,897L828,897L828.6,890.5L829.2,890.5L829.8,897L838.8,897L839.4,896.5L840,897L840.6,897L841.2,896.5L841.8,896.5L842.4,897L843,896.5L843.6,896L844.2,896L844.8,895.5L845.4,895.5L846,896L846.6,896.5L847.2,897L852.6,897L853.2,896.5L853.8,896.5L854.4,896L855.6,896L856.2,896.5L856.8,896.5L857.4,897L868.2,897L868.8,877L869.4,877L870,897L870.6,882.5L871.2,882.5L871.8,897L892.2,897L892.3,897.2Z" fill="#e98b2a" stroke="#e98b2a" stroke-width="0.4"/>
<line x1="772.2" y1="897.2" x2="892.3" y2="897.2" stroke="#e98b2a" stroke-width="1.5"/>
<path d="M928,733.8L928,733.5L930.4,733.5L931,733L931.6,733.5L936.4,733.5L937,733L937.6,732.5L938.2,732L938.8,732L939.4,732.5L940,733L940.6,733L941.2,733.5L941.8,733.5L942.4,733L943,732L943.6,731.5L944.2,731L944.8,731.5L945.4,732L946,732.5L946.6,733.5L947.2,733.5L947.8,733L950.2,733L950.8,733.5L951.4,733L952,733.5L955.6,733.5L956.2,729.5L956.8,726L957.4,725L958,729L958.6,732L959.2,733.5L959.8,733L960.4,732L961,731.5L961.6,732L962.2,733L962.8,733.5L974.8,733.5L975.4,733L976,732L976.6,729.5L977.2,731L977.8,733.5L986.8,733.5L987.4,733L988,733.5L995.8,733.5L996.4,727.5L997,720L997.6,710.5L998.2,713.5L998.8,723.5L999.4,727.5L1000,728.5L1000.6,729L1001.2,731L1001.8,732.5L1002.4,733.5L1003.6,733.5L1004.2,733L1004.8,733.5L1005.4,728L1006,720.5L1006.6,712.5L1007.2,713.5L1007.8,722.5L1008.4,728.5L1009,726L1009.6,727.5L1010.2,729L1010.8,731L1011.4,732.5L1012,733.5L1015,733.5L1015.6,731L1016.2,729L1016.8,726L1017.4,727.5L1018,727L1018.6,727L1019.2,727.5L1019.8,726.5L1020.4,726.5L1021,727L1021.6,727.5L1022.2,727L1022.8,724L1023.4,725.5L1024,727.5L1024.6,727.5L1025.2,727L1025.8,722.5L1026.4,723.5L1027,727L1027.6,727.5L1028.2,726.5L1028.8,721.5L1029.4,723L1030,722.5L1030.6,722.5L1031.2,726.5L1031.8,732.5L1032.4,733.5L1046.2,733.5L1046.5,733.8Z" fill="#1f9d55" stroke="#1f9d55" stroke-width="0.4"/>
<line x1="928.0" y1="733.8" x2="1046.5" y2="733.8" stroke="#1f9d55" stroke-width="1.6"/>
<path d="M928,770.1L928,770L937,770L937.6,769.5L938.2,770L939.4,770L940,769.5L940.6,770L941.2,766.5L941.8,766.5L942.4,769.5L944.8,769.5L945.4,770L946.6,770L947.2,769L947.8,768L948.4,768L949,769.5L949.6,770L950.2,769.5L950.8,769.5L951.4,768.5L952,768L952.6,768.5L953.2,769.5L954.4,769.5L955,770L955.6,768.5L956.2,763.5L956.8,765L957.4,769.5L959.2,769.5L959.8,770L969.4,770L970,769.5L973,769.5L973.6,770L974.8,770L975.4,764.5L976,761L976.6,766L977.2,769.5L977.8,769L978.4,768L979,767L979.6,768L980.2,769L980.8,769.5L983.8,769.5L984.4,770L986.2,770L986.8,769.5L989.8,769.5L990.4,770L991,769.5L991.6,770L992.2,769.5L995.8,769.5L996.4,765L997,760.5L997.6,757L998.2,757L998.8,762.5L999.4,764L1000,760L1000.6,764L1001.2,766L1001.8,769L1002.4,769.5L1003,769.5L1003.6,770L1004.8,770L1005.4,767.5L1006,753L1006.6,750.5L1007.2,762.5L1007.8,769.5L1009,769.5L1009.6,764L1010.2,762.5L1010.8,767L1011.4,769.5L1012.6,769.5L1013.2,767.5L1013.8,766L1014.4,766L1015,768.5L1015.6,769.5L1018,769.5L1018.6,768L1019.2,763.5L1019.8,759.5L1020.4,764.5L1021,769.5L1021.6,769.5L1022.2,766.5L1022.8,762.5L1023.4,763.5L1024,768L1024.6,770L1025.2,766L1025.8,760L1026.4,762.5L1027,767L1027.6,770L1028.2,769.5L1028.8,769.5L1029.4,762L1030,753L1030.6,754.5L1031.2,762.5L1031.8,767.5L1032.4,766L1033,764L1033.6,766L1034.2,768L1034.8,769.5L1035.4,770L1036.6,770L1037.2,769.5L1042,769.5L1042.6,770L1043.8,770L1044.4,769.5L1045.6,769.5L1046.2,770L1046.5,770.1Z" fill="#1f9d55" stroke="#1f9d55" stroke-width="0.4"/>
<line x1="928.0" y1="770.1" x2="1046.5" y2="770.1" stroke="#1f9d55" stroke-width="1.6"/>
<path d="M941.8 778.7V786.9M953.2 778.7V786.9M956.4 778.7V786.9M960.5 778.7V786.9M975.9 778.7V786.9M984.8 778.7V786.9M998.6 778.7V786.9M1006.8 778.7V786.9M1010.0 778.7V786.9M1018.1 778.7V786.9M1022.2 778.7V786.9M1029.5 778.7V786.9" stroke="#333" stroke-width="1.4"/>
<path d="M928,823.7L928,823.5L968.8,823.5L969.4,823L970.6,823L971.2,823.5L1046.2,823.5L1046.5,823.7Z" fill="#e98b2a" stroke="#e98b2a" stroke-width="0.4"/>
<line x1="928.0" y1="823.7" x2="1046.5" y2="823.7" stroke="#e98b2a" stroke-width="1.5"/>
<path d="M928,859.9L928,859.5L942.4,859.5L943,860L947.8,860L948.4,859.5L949.6,859.5L950.2,860L950.8,859.5L951.4,860L952,859.5L957.4,859.5L958,860L959.2,860L959.8,859.5L962.8,859.5L963.4,860L964,860L964.6,859.5L968.2,859.5L968.8,857.5L969.4,851L970,847L970.6,848.5L971.2,853.5L971.8,859.5L975.4,859.5L976,860L977.2,860L977.8,855L978.4,855L979,860L979.6,859.5L980.2,856L980.8,856L981.4,859.5L982,859.5L982.6,860L983.2,860L983.8,859.5L984.4,853.5L985,853.5L985.6,860L986.2,859.5L988.6,859.5L989.2,852.5L989.8,852.5L990.4,859.5L992.2,859.5L992.8,854L993.4,854L994,859.5L995.8,859.5L996.4,855L997,855L997.6,859.5L1001.8,859.5L1002.4,860L1004.8,860L1005.4,859.5L1023.4,859.5L1024,860L1026.4,860L1027,859.5L1034.8,859.5L1035.4,860L1036,859.5L1046.2,859.5L1046.5,859.9Z" fill="#e98b2a" stroke="#e98b2a" stroke-width="0.4"/>
<line x1="928.0" y1="859.9" x2="1046.5" y2="859.9" stroke="#e98b2a" stroke-width="1.5"/>
<path d="M928,896.4L928,896L937,896L937.6,896.5L938.8,896.5L939.4,896L942.4,896L943,896.5L943.6,896L961.6,896L962.2,896.5L962.8,896.5L963.4,896L967,896L967.6,896.5L968.2,896.5L968.8,893L969.4,883.5L970,875L970.6,880L971.2,886L971.8,896L972.4,896L973,896.5L973.6,896L977.2,896L977.8,888.5L978.4,888.5L979,896L979.6,896L980.2,890L980.8,890L981.4,896L983.8,896L984.4,885L985,885L985.6,896L988.6,896L989.2,887.5L989.8,887.5L990.4,896L991.6,896L992.2,896.5L992.8,884L993.4,884L994,896L995.8,896L996.4,886L997,886L997.6,896L1012.6,896L1013.2,896.5L1013.8,896.5L1014.4,896L1019.2,896L1019.8,895.5L1020.4,896L1022.2,896L1022.8,896.5L1024,896.5L1024.6,896L1030,896L1030.6,896.5L1034.8,896.5L1035.4,896L1045,896L1045.6,896.5L1046.2,896.5L1046.5,896.4Z" fill="#e98b2a" stroke="#e98b2a" stroke-width="0.4"/>
<line x1="928.0" y1="896.4" x2="1046.5" y2="896.4" stroke="#e98b2a" stroke-width="1.5"/>
<path d="M1083.3,736L1083.3,734L1083.9,733.5L1084.5,734L1085.1,734.5L1085.7,735L1086.3,735.5L1086.9,735.5L1087.5,735L1088.1,734.5L1088.7,734.5L1089.3,734L1089.9,734L1090.5,734.5L1091.1,735L1091.7,735L1092.3,735.5L1092.9,735.5L1093.5,736L1095.9,736L1096.5,735.5L1098.9,735.5L1099.5,734L1100.1,731L1100.7,728L1101.3,725L1101.9,722.5L1102.5,719.5L1103.1,722L1103.7,725L1104.3,722.5L1104.9,718.5L1105.5,721.5L1106.1,725.5L1106.7,729.5L1107.3,730.5L1107.9,722L1108.5,711L1109.1,718L1109.7,725.5L1110.3,722L1110.9,723L1111.5,726.5L1112.1,729L1112.7,732L1113.3,733L1113.9,733.5L1114.5,734.5L1115.1,735L1115.7,735.5L1116.3,736L1116.9,735.5L1118.1,735.5L1118.7,736L1119.3,736L1119.9,735.5L1122.3,735.5L1122.9,735L1123.5,730.5L1124.1,727L1124.7,727.5L1125.3,730L1125.9,733L1126.5,734L1127.1,734L1127.7,735L1128.3,735.5L1135.5,735.5L1136.1,736L1136.7,736L1137.3,735.5L1139.7,735.5L1140.3,734.5L1155.9,734.5L1156.5,735.5L1160.1,735.5L1160.7,736L1161.3,735.5L1162.5,735.5L1163.1,735L1163.7,734.5L1164.3,733.5L1164.9,733L1166.1,733L1166.7,733.5L1167.3,734L1167.9,734L1168.5,734.5L1169.1,735.5L1178.7,735.5L1179.3,735L1179.9,735.5L1181.7,735.5L1182.3,735L1183.5,735L1184.1,735.5L1187.7,735.5L1188.3,735L1189.5,735L1190.1,735.5L1190.7,735.5L1191.3,736L1191.9,735.5L1196.7,735.5L1197.3,736L1197.9,736L1198.5,735.5L1201.5,735.5L1202.1,736L1202.7,736L1202.8,736Z" fill="#1f9d55" stroke="#1f9d55" stroke-width="0.4"/>
<line x1="1083.3" y1="736.0" x2="1202.8" y2="736.0" stroke="#1f9d55" stroke-width="1.6"/>
<path d="M1083.3,772.7L1083.3,772.5L1083.9,772.5L1084.5,772L1085.1,772L1085.7,771L1086.3,770.5L1086.9,771.5L1087.5,772L1089.3,772L1089.9,770.5L1090.5,770L1091.1,771.5L1091.7,772L1092.9,772L1093.5,771.5L1094.1,770L1094.7,770.5L1095.3,771.5L1095.9,772.5L1098.3,772.5L1098.9,771.5L1099.5,769L1100.1,767L1100.7,770L1101.3,772L1101.9,770L1102.5,768L1103.1,770L1103.7,772L1104.3,769.5L1104.9,767L1105.5,769.5L1106.1,772L1106.7,772.5L1107.3,772.5L1107.9,760.5L1108.5,751L1109.1,761L1109.7,772.5L1110.3,772L1112.7,772L1113.3,771L1113.9,770L1114.5,771.5L1115.1,772.5L1115.7,772.5L1116.3,772L1116.9,772.5L1121.1,772.5L1121.7,772L1124.1,772L1124.7,772.5L1125.3,771L1125.9,770L1126.5,770.5L1127.1,772L1127.7,772.5L1138.5,772.5L1139.1,772L1139.7,772L1140.3,772.5L1148.7,772.5L1149.3,772L1149.9,772L1150.5,772.5L1151.1,768L1152.9,768L1153.5,768.5L1154.1,768.5L1154.7,767.5L1155.3,768.5L1155.9,768L1157.1,768L1157.7,768.5L1158.3,768L1158.9,768.5L1159.5,768L1160.1,766L1160.7,768L1163.7,768L1164.3,767.5L1164.9,768L1165.5,768.5L1166.1,768L1168.5,768L1169.1,768.5L1169.7,768L1170.3,768L1170.9,772.5L1178.7,772.5L1179.3,772L1182.3,772L1182.9,772.5L1194.9,772.5L1195.5,772L1199.7,772L1200.3,772.5L1200.9,772.5L1201.5,772L1202.1,772.5L1202.7,772.5L1202.8,772.7Z" fill="#1f9d55" stroke="#1f9d55" stroke-width="0.4"/>
<line x1="1083.3" y1="772.7" x2="1202.8" y2="772.7" stroke="#1f9d55" stroke-width="1.6"/>
<path d="M1102.5 782.8V790.8M1108.6 782.8V790.8M1124.4 782.8V790.8M1153.6 782.8V790.8M1170.6 782.8V790.8M1202.3 782.8V790.8" stroke="#222" stroke-width="1.6"/>
<path d="M1083.3,825.8L1083.3,825.5L1149.3,825.5L1149.9,826L1150.5,825.5L1191.3,825.5L1191.9,825L1192.5,824.5L1193.1,825L1193.7,825.5L1202.7,825.5L1202.8,825.8Z" fill="#e98b2a" stroke="#e98b2a" stroke-width="0.4"/>
<line x1="1083.3" y1="825.8" x2="1202.8" y2="825.8" stroke="#e98b2a" stroke-width="1.5"/>
<path d="M1083.3,862.3L1083.3,862L1127.1,862L1127.7,843.5L1128.9,843.5L1129.5,862L1134.3,862L1134.9,840.5L1136.1,840.5L1136.7,847L1137.9,847L1138.5,862L1140.9,862L1141.5,848.5L1143.3,848.5L1143.9,862L1149.3,862L1149.9,845.5L1151.7,845.5L1152.3,862L1158.3,862L1158.9,851L1160.1,851L1160.7,862L1163.7,862L1164.3,847L1164.9,847L1165.5,862L1177.5,862L1178.1,839.5L1178.7,839.5L1179.3,840L1179.9,839L1180.5,840.5L1181.1,840L1181.7,838.5L1182.3,839.5L1182.9,838.5L1183.5,839L1184.1,840L1184.7,839.5L1185.3,840L1185.9,839L1186.5,862L1191.3,862L1191.9,861.5L1192.5,861L1193.1,861.5L1193.7,862L1202.7,862L1202.8,862.3Z" fill="#e98b2a" stroke="#e98b2a" stroke-width="0.4"/>
<line x1="1083.3" y1="862.3" x2="1202.8" y2="862.3" stroke="#e98b2a" stroke-width="1.5"/>
<path d="M1083.3,898.5L1083.3,898.5L1084.5,898.5L1085.1,898L1091.7,898L1092.3,898.5L1093.5,898.5L1094.1,898L1097.1,898L1097.7,898.5L1099.5,898.5L1100.1,898L1101.9,898L1102.5,898.5L1103.1,898.5L1103.7,898L1104.3,898.5L1104.9,898.5L1105.5,898L1110.3,898L1110.9,898.5L1111.5,898L1112.1,898.5L1112.7,898L1113.3,898.5L1118.1,898.5L1118.7,898L1119.3,898L1119.9,898.5L1124.7,898.5L1125.3,898L1127.1,898L1127.7,872L1128.9,872L1129.5,898L1130.1,897.5L1130.7,897L1131.3,897L1131.9,897.5L1132.5,898L1133.1,898.5L1133.7,898.5L1134.3,872L1136.1,872L1136.7,878.5L1137.9,878.5L1138.5,898.5L1140.9,898.5L1141.5,878.5L1143.3,878.5L1143.9,898L1144.5,898L1145.1,898.5L1149.3,898.5L1149.9,872L1151.7,872L1152.3,898.5L1158.3,898.5L1158.9,881L1160.1,881L1160.7,898.5L1161.3,898L1163.7,898L1164.3,872L1164.9,872L1165.5,898L1167.9,898L1168.5,898.5L1169.1,898.5L1169.7,898L1170.3,898.5L1170.9,898.5L1171.5,898L1172.1,898.5L1177.5,898.5L1178.1,872L1178.7,874.5L1179.3,872L1179.9,873.5L1180.5,873.5L1181.1,875.5L1181.7,875.5L1182.3,874.5L1182.9,874.5L1183.5,875L1184.1,876L1184.7,875L1185.3,873.5L1185.9,875.5L1186.5,898L1187.7,898L1188.3,898.5L1188.9,898L1189.5,898.5L1191.3,898.5L1191.9,898L1192.5,897.5L1193.1,898L1193.7,898.5L1197.9,898.5L1198.5,898L1200.9,898L1201.5,898.5L1202.7,898.5L1202.8,898.5Z" fill="#e98b2a" stroke="#e98b2a" stroke-width="0.4"/>
<line x1="1083.3" y1="898.5" x2="1202.8" y2="898.5" stroke="#e98b2a" stroke-width="1.5"/>
<path d="M1232.3,737L1232.3,736.5L1239.5,736.5L1240.1,736L1240.7,736.5L1247.9,736.5L1248.5,737L1249.1,737L1249.7,736.5L1257.5,736.5L1258.1,737L1258.7,732.5L1259.3,733L1261.7,733L1262.3,732.5L1262.9,733L1264.1,733L1264.7,731.5L1265.3,729L1265.9,729L1266.5,731L1267.1,732.5L1267.7,733L1269.5,733L1270.1,732.5L1271.9,732.5L1272.5,733L1274.3,733L1274.9,736.5L1278.5,736.5L1279.1,737L1281.5,737L1282.1,736.5L1284.5,736.5L1285.1,736L1286.9,736L1287.5,736.5L1296.5,736.5L1297.1,737L1297.7,734.5L1298.3,732.5L1298.9,730L1299.5,732L1300.1,735L1300.7,736.5L1301.3,735.5L1301.9,731L1302.5,726.5L1303.1,723L1303.7,720L1304.3,723.5L1304.9,727L1305.5,718L1306.1,719.5L1306.7,719.5L1307.3,719L1307.9,717.5L1308.5,718L1309.1,717.5L1309.7,718.5L1310.3,714.5L1310.9,714L1311.5,715L1312.1,718L1312.7,718L1313.3,719.5L1313.9,717.5L1314.5,717.5L1315.1,719.5L1315.7,717L1316.3,717.5L1316.9,718.5L1317.5,718L1318.1,718.5L1318.7,732.5L1319.3,731L1319.9,730L1320.5,730.5L1321.1,733L1321.7,734L1322.3,735.5L1322.9,736.5L1330.1,736.5L1330.7,736L1331.3,736L1331.9,736.5L1339.7,736.5L1340.3,737L1341.5,737L1342.1,736.5L1343.3,736.5L1343.9,737L1344.5,736.5L1345.7,736.5L1346.3,736L1347.5,736L1348.1,736.5L1351.1,736.5L1351.7,737L1351.7,737Z" fill="#1f9d55" stroke="#1f9d55" stroke-width="0.4"/>
<line x1="1232.3" y1="737.0" x2="1351.7" y2="737.0" stroke="#1f9d55" stroke-width="1.6"/>
<path d="M1232.3,773.4L1232.3,773L1248.5,773L1249.1,765.5L1250.3,765.5L1250.9,766L1251.5,766L1252.1,765L1252.7,766L1253.3,765.5L1253.9,766L1254.5,765.5L1255.1,766L1255.7,766L1256.3,773L1259.9,773L1260.5,773.5L1262.3,773.5L1262.9,773L1264.1,773L1264.7,769.5L1265.3,764.5L1265.9,763L1266.5,768.5L1267.1,773L1269.5,773L1270.1,766L1271.3,766L1271.9,765.5L1272.5,765L1273.1,765.5L1273.7,766L1274.3,766L1274.9,773L1277.9,773L1278.5,773.5L1279.1,773.5L1279.7,773L1287.5,773L1288.1,771.5L1288.7,770.5L1289.3,769L1289.9,768L1290.5,769L1291.1,770L1291.7,771.5L1292.3,772.5L1292.9,773L1298.3,773L1298.9,771.5L1299.5,769.5L1300.1,767L1300.7,766L1301.3,768L1301.9,771L1302.5,772.5L1303.1,772.5L1303.7,773L1304.9,773L1305.5,753.5L1306.1,754L1306.7,752.5L1307.3,753L1307.9,753L1308.5,753.5L1309.1,755L1309.7,752.5L1310.3,753.5L1311.5,753.5L1312.1,755L1312.7,754L1313.3,754L1313.9,753.5L1314.5,754L1315.1,747L1315.7,753.5L1316.3,754L1316.9,755L1317.5,754.5L1318.1,753.5L1318.7,773L1325.3,773L1325.9,772.5L1326.5,772.5L1327.1,768.5L1327.7,768.5L1328.3,769L1328.9,768.5L1329.5,769L1330.1,769L1330.7,768.5L1331.3,769L1331.9,769L1332.5,768.5L1333.1,769L1333.7,769L1334.3,768.5L1335.5,768.5L1336.1,769L1336.7,769L1337.3,768.5L1338.5,768.5L1339.1,769L1339.7,773L1342.7,773L1343.3,772.5L1343.9,773L1351.7,773L1351.7,773.4Z" fill="#1f9d55" stroke="#1f9d55" stroke-width="0.4"/>
<line x1="1232.3" y1="773.4" x2="1351.7" y2="773.4" stroke="#1f9d55" stroke-width="1.6"/>
<path d="M1273.2 778.7V786.9M1287.5 778.7V786.9M1306.7 778.7V786.9M1311.4 778.7V786.9" stroke="#222" stroke-width="1.6"/>
<path d="M1232.3,826.6L1232.3,826.5L1293.5,826.5L1294.1,826L1294.7,826L1295.3,826.5L1336.1,826.5L1336.7,826L1337.3,826.5L1337.9,826.5L1338.5,826L1339.1,826L1339.7,826.5L1351.7,826.5L1351.7,826.6Z" fill="#e98b2a" stroke="#e98b2a" stroke-width="0.4"/>
<line x1="1232.3" y1="826.6" x2="1351.7" y2="826.6" stroke="#e98b2a" stroke-width="1.5"/>
<path d="M1232.3,862.7L1232.3,862.5L1259.3,862.5L1259.9,840.5L1260.5,840.5L1261.1,862.5L1261.7,862.5L1262.3,838.5L1262.9,862.5L1264.1,862.5L1264.7,839.5L1265.3,839.5L1265.9,862.5L1266.5,836.5L1267.1,836.5L1267.7,862.5L1276.1,862.5L1276.7,862L1277.3,862.5L1297.1,862.5L1297.7,841.5L1298.9,841.5L1299.5,862.5L1300.7,862.5L1301.3,862L1302.5,862L1303.1,862.5L1303.7,862.5L1304.3,862L1305.5,862L1306.1,862.5L1308.5,862.5L1309.1,857.5L1310.3,857.5L1310.9,862.5L1313.9,862.5L1314.5,854.5L1315.7,854.5L1316.3,862.5L1351.7,862.5L1351.7,862.7Z" fill="#e98b2a" stroke="#e98b2a" stroke-width="0.4"/>
<line x1="1232.3" y1="862.7" x2="1351.7" y2="862.7" stroke="#e98b2a" stroke-width="1.5"/>
<path d="M1232.3,899.2L1232.3,899L1258.7,899L1259.3,873L1259.9,875L1260.5,875L1261.1,875.5L1261.7,874.5L1262.3,872.5L1262.9,875L1263.5,873.5L1264.1,875.5L1264.7,874L1265.3,875.5L1265.9,876L1266.5,874.5L1267.1,874.5L1267.7,873L1268.3,899L1276.7,899L1277.3,898.5L1277.9,899L1297.1,899L1297.7,872L1298.9,872L1299.5,898L1300.1,897L1300.7,896L1301.3,896L1301.9,897L1302.5,898L1303.1,899L1303.7,897.5L1304.3,896L1304.9,895L1305.5,895.5L1306.1,897L1306.7,896.5L1307.3,894L1307.9,892.5L1308.5,893L1309.1,895.5L1309.7,894L1310.3,890L1310.9,894L1311.5,898L1312.1,899L1313.9,899L1314.5,882.5L1315.7,882.5L1316.3,899L1321.7,899L1322.3,898.5L1322.9,899L1351.7,899L1351.7,899.2Z" fill="#e98b2a" stroke="#e98b2a" stroke-width="0.4"/>
<line x1="1232.3" y1="899.2" x2="1351.7" y2="899.2" stroke="#e98b2a" stroke-width="1.5"/>
<path d="M1430.1,734.1L1430.1,734L1430.7,734L1431.3,733.5L1431.9,733.5L1432.5,734L1434.3,734L1434.9,733.5L1437.9,733.5L1438.5,732.5L1439.1,731L1439.7,728.5L1440.3,728L1440.9,725.5L1441.5,724L1442.1,726L1442.7,727.5L1443.3,729L1443.9,729L1444.5,727L1445.1,725.5L1445.7,726.5L1446.3,728L1446.9,729L1447.5,729.5L1448.1,727.5L1448.7,725L1449.3,722.5L1449.9,725.5L1450.5,727L1451.1,726L1451.7,720.5L1452.3,721L1452.9,725L1453.5,728.5L1454.1,727L1454.7,724L1455.3,727.5L1455.9,730L1456.5,732.5L1457.1,733.5L1461.3,733.5L1461.9,734L1466.1,734L1466.7,733.5L1469.7,733.5L1470.3,733L1470.9,732.5L1471.5,733L1473.9,733L1474.5,732.5L1475.1,733L1475.7,732.5L1476.9,732.5L1477.5,733L1478.1,733L1478.7,732.5L1479.3,733L1482.9,733L1483.5,732.5L1484.1,733L1484.7,732.5L1485.3,733L1485.9,732.5L1486.5,733L1491.9,733L1492.5,732.5L1493.7,732.5L1494.3,733L1499.1,733L1499.7,732.5L1500.3,733L1500.9,732.5L1501.5,733L1502.1,733L1502.7,732.5L1503.3,732.5L1503.9,733L1504.5,733L1505.1,734L1505.7,733.5L1508.7,733.5L1509.3,733L1509.9,731.5L1510.5,730.5L1511.1,729.5L1511.7,728L1512.3,729.5L1512.9,730.5L1513.5,732L1514.1,728.5L1514.7,724.5L1515.3,719.5L1515.9,721L1516.5,726.5L1517.1,730L1517.7,730.5L1518.3,728.5L1518.9,727.5L1519.5,727L1520.1,728L1520.7,729.5L1521.3,731L1521.9,732.5L1522.5,731.5L1523.1,731L1523.7,731L1524.3,731.5L1524.9,732.5L1525.5,733.5L1527.9,733.5L1528.5,734L1529.1,734L1529.7,733.5L1530.9,733.5L1531.5,733L1532.1,732.5L1532.7,732L1533.3,731.5L1533.9,732.5L1534.5,733L1535.1,733.5L1539.3,733.5L1539.9,734L1540.5,734L1541.1,729.5L1541.7,730L1542.3,730L1542.9,729.5L1543.5,729.5L1544.1,730L1544.7,729.5L1545.3,729.5L1545.9,730L1546.5,729.5L1547.1,729.5L1547.7,730L1548.3,729.5L1548.9,730L1549.5,729L1549.6,734.1Z" fill="#1f9d55" stroke="#1f9d55" stroke-width="0.4"/>
<line x1="1430.1" y1="734.1" x2="1549.6" y2="734.1" stroke="#1f9d55" stroke-width="1.6"/>
<path d="M1430.1,771.1L1430.1,771L1430.7,771L1431.3,770.5L1431.9,770.5L1432.5,769L1433.1,766.5L1433.7,764.5L1434.3,763.5L1434.9,763.5L1435.5,765L1436.1,766.5L1436.7,768.5L1437.3,768L1437.9,767L1438.5,767L1439.1,765.5L1439.7,764.5L1440.3,766.5L1440.9,767L1441.5,767.5L1442.1,768L1442.7,767L1443.3,766.5L1443.9,765L1444.5,765.5L1445.1,765.5L1445.7,767L1446.3,767.5L1446.9,768.5L1447.5,769.5L1448.1,770.5L1448.7,770.5L1449.3,768.5L1449.9,766L1450.5,764.5L1451.1,763.5L1451.7,764L1452.3,765.5L1452.9,768L1453.5,767L1454.1,765L1454.7,764L1455.3,762.5L1455.9,765L1456.5,766.5L1457.1,768.5L1457.7,771L1458.3,770.5L1466.1,770.5L1466.7,771L1467.3,771L1467.9,770.5L1468.5,771L1469.7,771L1470.3,770.5L1473.3,770.5L1473.9,771L1475.7,771L1476.3,770.5L1482.3,770.5L1482.9,771L1483.5,770.5L1486.5,770.5L1487.1,771L1487.7,771L1488.3,770.5L1492.5,770.5L1493.1,771L1493.7,770.5L1494.9,770.5L1495.5,771L1496.1,770.5L1501.5,770.5L1502.1,771L1504.5,771L1505.1,770.5L1505.7,770.5L1506.3,771L1506.9,771L1507.5,770.5L1508.1,771L1508.7,771L1509.3,770.5L1509.9,770.5L1510.5,771L1511.1,766.5L1511.7,764L1512.3,760.5L1512.9,760L1513.5,765L1514.1,766L1514.7,764.5L1515.3,761L1515.9,763L1516.5,764.5L1517.1,766.5L1517.7,767.5L1518.3,766.5L1518.9,767L1519.5,768L1520.1,769.5L1520.7,770.5L1521.3,771L1521.9,770.5L1523.1,770.5L1523.7,771L1524.3,770.5L1524.9,771L1525.5,770.5L1526.1,771L1526.7,770.5L1527.3,770L1527.9,769.5L1528.5,769L1529.1,768.5L1529.7,769L1530.3,769.5L1530.9,770.5L1534.5,770.5L1535.1,768.5L1535.7,767.5L1536.3,766.5L1536.9,765L1537.5,766L1538.1,767.5L1538.7,768.5L1539.3,770.5L1539.9,770L1540.5,766L1541.1,763L1541.7,759L1542.3,761.5L1542.9,765L1543.5,769L1544.1,767.5L1544.7,765.5L1545.3,764.5L1545.9,764L1546.5,765L1547.1,767L1547.7,768.5L1548.3,770.5L1548.9,771L1549.5,771L1549.6,771.1Z" fill="#1f9d55" stroke="#1f9d55" stroke-width="0.4"/>
<line x1="1430.1" y1="771.1" x2="1549.6" y2="771.1" stroke="#1f9d55" stroke-width="1.6"/>
<path d="M1454.7 781.8V789.6M1513.1 781.8V789.6" stroke="#9a9a9a" stroke-width="1.2"/>
<path d="M1430.1,825.7L1430.1,825.5L1452.9,825.5L1453.5,822.5L1454.1,818.5L1454.7,813.5L1455.3,815L1455.9,819L1456.5,823L1457.1,823L1457.7,822.5L1458.3,823L1458.9,823L1459.5,825.5L1478.1,825.5L1478.7,821.5L1479.3,821.5L1479.9,821L1481.1,821L1481.7,820.5L1482.3,821L1482.9,821L1483.5,821.5L1484.1,821L1484.7,821L1485.3,821.5L1485.9,821L1488.3,821L1488.9,820.5L1489.5,820.5L1490.1,820L1490.7,820.5L1491.3,820.5L1491.9,821L1494.3,821L1494.9,821.5L1495.5,820.5L1496.7,820.5L1497.3,821.5L1497.9,821L1498.5,821.5L1499.1,821.5L1499.7,820.5L1500.3,821L1500.9,820.5L1501.5,821L1502.1,825.5L1503.3,825.5L1503.9,816.5L1504.5,817L1505.1,817L1505.7,816.5L1506.3,816L1506.9,816.5L1508.1,816.5L1508.7,817.5L1509.3,817L1509.9,817L1510.5,816.5L1511.1,816L1511.7,817.5L1512.3,816L1512.9,816.5L1513.5,816.5L1514.1,817L1514.7,816.5L1515.3,817L1515.9,825.5L1535.7,825.5L1536.3,814L1536.9,814L1537.5,825.5L1549.5,825.5L1549.6,825.7Z" fill="#e98b2a" stroke="#e98b2a" stroke-width="0.4"/>
<line x1="1430.1" y1="825.7" x2="1549.6" y2="825.7" stroke="#e98b2a" stroke-width="1.5"/>
<path d="M1430.1,861.7L1430.1,861.5L1452.9,861.5L1453.5,838.5L1454.1,838.5L1454.7,841L1455.3,839.5L1455.9,838.5L1456.5,841L1457.1,841L1457.7,838L1458.3,841L1458.9,839L1459.5,838.5L1460.1,861.5L1464.3,861.5L1464.9,861L1465.5,860.5L1466.1,859.5L1466.7,859L1467.3,858L1467.9,857L1468.5,856L1469.1,855.5L1469.7,855L1470.3,854.5L1470.9,856L1471.5,856.5L1472.1,857L1472.7,857.5L1473.3,858.5L1473.9,857L1474.5,856L1475.1,854.5L1475.7,854L1476.3,854L1476.9,855L1477.5,855.5L1478.1,856.5L1478.7,858.5L1479.3,859.5L1479.9,860L1480.5,857.5L1481.1,854L1481.7,852.5L1482.3,850L1482.9,851.5L1483.5,854L1484.1,857L1484.7,860L1485.3,861.5L1487.1,861.5L1487.7,840L1488.3,842L1488.9,840.5L1489.5,842.5L1490.1,842L1490.7,841.5L1491.3,843L1491.9,837.5L1492.5,839.5L1493.1,841L1493.7,843L1494.3,842L1494.9,841L1495.5,842.5L1496.1,861.5L1497.9,861.5L1498.5,848L1499.1,848.5L1499.7,848L1500.3,847.5L1500.9,847L1501.5,849L1502.1,847.5L1502.7,848.5L1503.3,847L1503.9,847.5L1504.5,848L1505.1,847L1505.7,849L1506.3,848.5L1506.9,848.5L1507.5,847.5L1508.1,844.5L1508.7,846L1509.3,847.5L1509.9,847L1510.5,848.5L1511.1,849L1511.7,849L1512.3,848.5L1512.9,848.5L1513.5,847L1514.1,842L1514.7,840L1515.3,848L1515.9,858L1516.5,861.5L1526.1,861.5L1526.7,857L1527.3,856L1527.9,856.5L1528.5,856L1529.1,856.5L1529.7,856.5L1530.3,861.5L1535.7,861.5L1536.3,851L1536.9,851L1537.5,861.5L1542.3,861.5L1542.9,858.5L1543.5,858L1544.1,858.5L1544.7,858L1545.3,858L1545.9,858.5L1546.5,858.5L1547.1,858L1547.7,858.5L1548.3,858L1548.9,858.5L1549.5,858L1549.6,861.7Z" fill="#e98b2a" stroke="#e98b2a" stroke-width="0.4"/>
<line x1="1430.1" y1="861.7" x2="1549.6" y2="861.7" stroke="#e98b2a" stroke-width="1.5"/>
<path d="M1430.1,899.1L1430.1,899L1443.9,899L1444.5,898.5L1445.1,898.5L1445.7,899L1449.3,899L1449.9,898.5L1450.5,899L1452.9,899L1453.5,873L1454.1,872.5L1454.7,875.5L1455.3,875.5L1455.9,873L1456.5,873.5L1457.1,875.5L1457.7,872.5L1458.3,874L1458.9,874.5L1459.5,874.5L1460.1,872.5L1460.7,873L1461.3,899L1461.9,899L1462.5,898.5L1463.1,893.5L1463.7,893.5L1464.3,893L1466.1,893L1466.7,893.5L1467.3,893L1467.9,893.5L1468.5,893.5L1469.1,894L1469.7,893L1470.3,893.5L1470.9,893L1471.5,893.5L1472.1,894L1472.7,893.5L1473.3,893L1473.9,893.5L1474.5,893L1475.1,893.5L1476.3,893.5L1476.9,898.5L1477.5,899L1478.1,899L1478.7,887L1479.3,888L1479.9,887.5L1480.5,886.5L1481.7,886.5L1482.3,887L1482.9,884L1483.5,887.5L1484.1,886.5L1484.7,887L1485.3,886.5L1485.9,887L1486.5,887.5L1487.1,887L1487.7,899L1488.3,873.5L1488.9,875.5L1489.5,874.5L1490.7,874.5L1491.3,876L1491.9,876L1492.5,875L1493.1,874.5L1493.7,874.5L1494.3,873L1494.9,873L1495.5,899L1496.7,899L1497.3,898.5L1497.9,898.5L1498.5,887.5L1499.1,886.5L1499.7,887L1500.3,887.5L1500.9,886.5L1501.5,886.5L1502.1,887L1502.7,886.5L1503.3,887L1503.9,888L1504.5,887.5L1505.1,886.5L1505.7,887.5L1506.3,887.5L1506.9,887L1507.5,886.5L1508.1,875L1508.7,873.5L1509.3,873L1509.9,876L1510.5,873L1511.1,875.5L1511.7,874L1512.3,876L1512.9,874.5L1513.5,873.5L1514.1,872.5L1514.7,873.5L1515.3,873L1515.9,899L1521.3,899L1521.9,898.5L1522.5,898.5L1523.1,899L1524.3,899L1524.9,898.5L1525.5,895L1526.1,890.5L1526.7,893L1527.3,897L1527.9,899L1530.3,899L1530.9,898.5L1532.1,898.5L1532.7,899L1535.7,899L1536.3,885L1536.9,885L1537.5,899L1538.1,899L1538.7,898.5L1539.3,899L1542.3,899L1542.9,889.5L1543.5,890L1544.1,889.5L1544.7,889L1545.3,889.5L1545.9,890L1546.5,889.5L1547.1,889.5L1547.7,890L1548.3,890.5L1548.9,899L1549.5,899L1549.6,899.1Z" fill="#e98b2a" stroke="#e98b2a" stroke-width="0.4"/>
<line x1="1430.1" y1="899.1" x2="1549.6" y2="899.1" stroke="#e98b2a" stroke-width="1.5"/>
<path d="M1655.7,735.1L1655.7,735L1657.5,735L1658.1,730.5L1658.7,731L1659.3,730L1659.9,730.5L1660.5,731L1661.1,730.5L1661.7,730L1662.3,730.5L1662.9,730.5L1663.5,731L1664.1,730.5L1665.3,730.5L1665.9,735L1666.5,735L1667.1,734.5L1667.7,735L1668.3,735L1668.9,734.5L1669.5,735L1671.9,735L1672.5,734.5L1673.1,734.5L1673.7,732.5L1674.3,730.5L1674.9,728L1675.5,726.5L1676.1,724.5L1676.7,722.5L1677.3,722L1677.9,722.5L1678.5,726L1679.1,727L1679.7,726L1680.3,721L1680.9,716.5L1681.5,721.5L1682.1,724.5L1682.7,727.5L1683.3,727.5L1683.9,723.5L1684.5,720L1685.1,719L1685.7,722L1686.3,724L1686.9,729L1687.5,733.5L1688.1,731L1688.7,724.5L1689.3,719.5L1689.9,715L1690.5,722L1691.1,727.5L1691.7,731L1692.3,730L1692.9,728L1693.5,725.5L1694.1,725L1694.7,722.5L1695.3,723.5L1695.9,726L1696.5,727L1697.1,730L1697.7,732L1698.3,732.5L1698.9,731.5L1699.5,731L1700.1,730.5L1700.7,730L1701.3,731L1701.9,731.5L1702.5,732L1703.1,733L1703.7,734L1704.3,734.5L1704.9,734.5L1705.5,735L1706.1,734.5L1706.7,734L1707.3,733.5L1708.5,733.5L1709.1,734L1709.7,734.5L1715.7,734.5L1716.3,735L1718.1,735L1718.7,734.5L1722.9,734.5L1723.5,733.5L1724.1,732.5L1724.7,731L1725.3,731L1725.9,732.5L1726.5,734L1727.1,734.5L1728.9,734.5L1729.5,735L1731.9,735L1732.5,734.5L1735.5,734.5L1736.1,735L1737.9,735L1738.5,734.5L1748.1,734.5L1748.7,735L1749.3,735L1749.9,733L1750.5,730L1751.1,726L1751.7,728.5L1752.3,732L1752.9,734.5L1753.5,734L1754.1,733L1754.7,732.5L1755.3,732.5L1755.9,733.5L1756.5,734L1757.1,734.5L1757.7,735L1758.3,734.5L1760.7,734.5L1761.3,735L1761.9,734.5L1767.3,734.5L1767.9,734L1768.5,734.5L1769.7,734.5L1770.3,735L1772.1,735L1772.7,734.5L1773.3,735L1774.5,735L1774.6,735.1Z" fill="#1f9d55" stroke="#1f9d55" stroke-width="0.4"/>
<line x1="1655.7" y1="735.1" x2="1774.6" y2="735.1" stroke="#1f9d55" stroke-width="1.6"/>
<path d="M1655.7,772.1L1655.7,768L1656.3,769.5L1656.9,771.5L1664.7,771.5L1665.3,772L1665.9,772L1666.5,771.5L1668.9,771.5L1669.5,772L1670.7,772L1671.3,771.5L1672.5,771.5L1673.1,772L1674.9,772L1675.5,769L1676.1,763.5L1676.7,757.5L1677.3,756.5L1677.9,760.5L1678.5,764.5L1679.1,762.5L1679.7,755.5L1680.3,756L1680.9,763L1681.5,770L1682.1,762L1682.7,756L1683.3,754L1683.9,763L1684.5,768L1685.1,764.5L1685.7,760.5L1686.3,761.5L1686.9,765L1687.5,769L1688.1,771.5L1689.9,771.5L1690.5,772L1691.1,771.5L1691.7,772L1692.3,771.5L1700.7,771.5L1701.3,771L1701.9,770L1702.5,769.5L1703.1,770L1703.7,771L1704.3,771.5L1708.5,771.5L1709.1,770.5L1709.7,770L1710.3,769.5L1710.9,770.5L1711.5,771.5L1715.7,771.5L1716.3,772L1722.3,772L1722.9,771.5L1730.7,771.5L1731.3,772L1731.9,771.5L1739.1,771.5L1739.7,772L1740.3,772L1740.9,771.5L1741.5,772L1742.1,772L1742.7,771.5L1743.3,772L1744.5,772L1745.1,771.5L1746.9,771.5L1747.5,767.5L1748.1,760L1748.7,755L1749.3,750.5L1749.9,755L1750.5,762.5L1751.1,770.5L1751.7,764.5L1752.3,758L1752.9,754L1753.5,755L1754.1,760L1754.7,767.5L1755.3,772L1755.9,772L1756.5,767.5L1757.1,764L1757.7,760L1758.3,760.5L1758.9,763.5L1759.5,767.5L1760.1,772L1760.7,767L1761.3,759.5L1761.9,754L1762.5,759.5L1763.1,767L1763.7,772L1766.1,772L1766.7,771.5L1767.3,769.5L1767.9,768L1768.5,766L1769.1,766.5L1769.7,768.5L1770.3,770.5L1770.9,771.5L1773.3,771.5L1773.9,772L1774.5,772L1774.6,772.1Z" fill="#1f9d55" stroke="#1f9d55" stroke-width="0.4"/>
<line x1="1655.7" y1="772.1" x2="1774.6" y2="772.1" stroke="#1f9d55" stroke-width="1.6"/>
<path d="M1686.5 781.8V789.6M1750.6 781.8V789.6M1762.3 781.8V789.6" stroke="#9a9a9a" stroke-width="1.2"/>
<path d="M1655.7,826L1655.7,826L1656.3,826L1656.9,825.5L1659.3,825.5L1659.9,826L1662.9,826L1663.5,825.5L1664.1,826L1675.5,826L1676.1,825.5L1676.7,826L1677.3,825.5L1677.9,826L1679.7,826L1680.3,825.5L1680.9,825.5L1681.5,826L1682.1,826L1682.7,825L1683.3,824L1683.9,823L1684.5,822L1685.1,821.5L1685.7,822.5L1686.3,823.5L1686.9,824.5L1687.5,825.5L1688.1,826L1690.5,826L1691.1,825.5L1691.7,825.5L1692.3,825L1692.9,824.5L1693.5,825L1694.1,825L1694.7,825.5L1695.3,826L1695.9,825.5L1696.5,825.5L1697.1,826L1698.3,826L1698.9,825.5L1699.5,825.5L1700.1,826L1701.9,826L1702.5,825.5L1703.7,825.5L1704.3,825L1704.9,824L1705.5,823.5L1706.1,822L1706.7,822.5L1707.3,823.5L1707.9,824L1708.5,825L1709.1,826L1717.5,826L1718.1,825.5L1718.7,825.5L1719.3,825L1719.9,824.5L1720.5,825L1721.1,825L1721.7,825.5L1722.3,825.5L1722.9,826L1723.5,826L1724.1,825.5L1724.7,825.5L1725.3,826L1725.9,826L1726.5,825.5L1727.1,826L1728.9,826L1729.5,825.5L1730.7,825.5L1731.3,825L1731.9,824.5L1732.5,825L1733.1,825L1733.7,825.5L1734.3,826L1735.5,826L1736.1,825.5L1737.9,825.5L1738.5,826L1739.7,826L1740.3,825.5L1740.9,825.5L1741.5,826L1744.5,826L1745.1,825.5L1745.7,825L1746.3,824.5L1747.5,824.5L1748.1,825L1748.7,825L1749.3,825.5L1749.9,826L1759.5,826L1760.1,825.5L1760.7,824.5L1761.3,824.5L1761.9,823.5L1762.5,824L1763.1,824.5L1763.7,825L1764.3,825.5L1764.9,826L1765.5,825.5L1766.1,826L1770.9,826L1771.5,825.5L1773.9,825.5L1774.5,826L1774.6,826Z" fill="#e98b2a" stroke="#e98b2a" stroke-width="0.4"/>
<line x1="1655.7" y1="826.0" x2="1774.6" y2="826.0" stroke="#e98b2a" stroke-width="1.5"/>
<path d="M1655.7,862.7L1655.7,862.5L1682.7,862.5L1683.3,862L1683.9,854.5L1684.5,848L1685.1,853L1685.7,859.5L1686.3,857L1686.9,855.5L1687.5,857L1688.1,858.5L1688.7,861.5L1689.3,862.5L1691.7,862.5L1692.3,861.5L1692.9,860L1693.5,858L1694.1,857L1694.7,855L1695.3,857.5L1695.9,858.5L1696.5,860.5L1697.1,862L1697.7,862.5L1701.9,862.5L1702.5,862L1703.1,860L1703.7,858L1704.3,857L1704.9,854.5L1705.5,852.5L1706.1,852.5L1706.7,851L1707.3,854.5L1707.9,855.5L1708.5,857L1709.1,858L1709.7,856.5L1710.3,855.5L1710.9,858L1711.5,859.5L1712.1,861L1712.7,862.5L1719.3,862.5L1719.9,861L1720.5,860L1721.1,858L1721.7,857L1722.3,857.5L1722.9,858.5L1723.5,860L1724.1,861L1724.7,862.5L1729.5,862.5L1730.1,861.5L1730.7,860.5L1731.3,860L1731.9,859L1732.5,859.5L1733.1,860.5L1733.7,861.5L1734.3,862L1734.9,862.5L1743.3,862.5L1743.9,861L1744.5,859.5L1745.1,858L1745.7,857L1746.3,855.5L1746.9,854L1747.5,854L1748.1,856L1748.7,856.5L1749.3,858L1749.9,859L1750.5,860.5L1751.1,862L1751.7,862.5L1761.3,862.5L1761.9,861L1762.5,859L1763.1,858.5L1763.7,860.5L1764.3,862.5L1774.5,862.5L1774.6,862.7Z" fill="#e98b2a" stroke="#e98b2a" stroke-width="0.4"/>
<line x1="1655.7" y1="862.7" x2="1774.6" y2="862.7" stroke="#e98b2a" stroke-width="1.5"/>
<path d="M1655.7,899.1L1655.7,899L1663.5,899L1664.1,898.5L1664.7,898.5L1665.3,899L1665.9,898.5L1666.5,898.5L1667.1,899L1682.7,899L1683.3,898L1683.9,887.5L1684.5,875L1685.1,882.5L1685.7,893.5L1686.3,891L1686.9,889.5L1687.5,890L1688.1,894L1688.7,897L1689.3,899L1691.7,899L1692.3,895L1692.9,891.5L1693.5,889L1694.1,891L1694.7,893L1695.3,896.5L1695.9,896.5L1696.5,894.5L1697.1,894L1697.7,895.5L1698.3,897L1698.9,898.5L1699.5,899L1700.1,899L1700.7,898.5L1701.3,899L1704.3,899L1704.9,895L1705.5,891L1706.1,887.5L1706.7,885.5L1707.3,891L1707.9,884.5L1708.5,881.5L1709.1,890.5L1709.7,898.5L1710.3,897L1710.9,893.5L1711.5,890.5L1712.1,889.5L1712.7,891L1713.3,895L1713.9,898L1714.5,899L1719.3,899L1719.9,897.5L1720.5,896.5L1721.1,895.5L1721.7,894L1722.3,894L1722.9,895.5L1723.5,896.5L1724.1,897.5L1724.7,898.5L1725.3,899L1728.9,899L1729.5,898.5L1730.1,898L1730.7,897L1731.3,896.5L1731.9,895.5L1732.5,896.5L1733.1,897L1733.7,897.5L1734.3,898.5L1734.9,899L1736.1,899L1736.7,898.5L1737.3,899L1744.5,899L1745.1,896L1745.7,893.5L1746.3,891L1746.9,888L1747.5,886.5L1748.1,888.5L1748.7,892L1749.3,895L1749.9,898.5L1750.5,899L1761.3,899L1761.9,896L1762.5,892.5L1763.1,891.5L1763.7,895L1764.3,899L1768.5,899L1769.1,898.5L1769.7,898.5L1770.3,899L1774.5,899L1774.6,899.1Z" fill="#e98b2a" stroke="#e98b2a" stroke-width="0.4"/>
<line x1="1655.7" y1="899.1" x2="1774.6" y2="899.1" stroke="#e98b2a" stroke-width="1.5"/>
<line x1="605.5" y1="708.1" x2="605.5" y2="895" stroke="#000" stroke-width="3.6" stroke-dasharray="10.6,11.3"/>
<line x1="756" y1="708.1" x2="756" y2="896" stroke="#000" stroke-width="3.6" stroke-dasharray="10.6,11.3"/>
<line x1="906.8" y1="708.1" x2="906.8" y2="896" stroke="#000" stroke-width="3.6" stroke-dasharray="10.6,11.3"/>
<line x1="1059.5" y1="713" x2="1059.5" y2="900" stroke="#000" stroke-width="3.6" stroke-dasharray="10.6,11.3"/>
<line x1="1217.5" y1="711" x2="1217.5" y2="898" stroke="#000" stroke-width="3.6" stroke-dasharray="10.6,11.3"/>
<line x1="1636" y1="712.7" x2="1636" y2="900" stroke="#000" stroke-width="3.6" stroke-dasharray="10.6,11.3"/>
<line x1="539.5" y1="908.3" x2="570.4" y2="908.3" stroke="#1a1a8c" stroke-width="2.8"/>
<rect x="539.5" y="904.5" width="3.0" height="7.5" fill="#1a1a8c"/>
<rect x="557.5" y="904.5" width="4.5" height="7.5" fill="#1a1a8c"/>
<rect x="564.5" y="904.5" width="5.9" height="7.5" fill="#1a1a8c"/>
<line x1="671.9" y1="909.6" x2="719.7" y2="909.6" stroke="#1a1a8c" stroke-width="2.8"/>
<rect x="693.0" y="905.9" width="4.5" height="7.5" fill="#1a1a8c"/>
<rect x="698.5" y="905.9" width="2.0" height="7.5" fill="#1a1a8c"/>
<line x1="703.0" y1="905.9" x2="703.0" y2="913.4" stroke="#1a1a8c" stroke-width="1.4"/>
<line x1="716.5" y1="905.9" x2="716.5" y2="913.4" stroke="#1a1a8c" stroke-width="1.4"/>
<line x1="719.7" y1="905.9" x2="719.7" y2="913.4" stroke="#1a1a8c" stroke-width="1.4"/>
<line x1="779.5" y1="911.4" x2="853.8" y2="911.4" stroke="#1a1a8c" stroke-width="2.6"/>
<rect x="779.5" y="907.6" width="4.0" height="7.5" fill="#1a1a8c"/>
<rect x="785.0" y="907.6" width="4.0" height="7.5" fill="#1a1a8c"/>
<line x1="847.5" y1="907.6" x2="847.5" y2="915.1" stroke="#1a1a8c" stroke-width="1.4"/>
<line x1="853.8" y1="907.6" x2="853.8" y2="915.1" stroke="#1a1a8c" stroke-width="1.4"/>
<line x1="967.8" y1="910.2" x2="997.8" y2="910.2" stroke="#7f7fc4" stroke-width="1.8"/>
<line x1="972.0" y1="907.5" x2="972.0" y2="913.0" stroke="#7f7fc4" stroke-width="1.4"/>
<line x1="976.0" y1="907.5" x2="976.0" y2="913.0" stroke="#7f7fc4" stroke-width="1.4"/>
<line x1="980.0" y1="907.5" x2="980.0" y2="913.0" stroke="#7f7fc4" stroke-width="1.4"/>
<line x1="984.0" y1="907.5" x2="984.0" y2="913.0" stroke="#7f7fc4" stroke-width="1.4"/>
<line x1="988.0" y1="907.5" x2="988.0" y2="913.0" stroke="#7f7fc4" stroke-width="1.4"/>
<line x1="992.0" y1="907.5" x2="992.0" y2="913.0" stroke="#7f7fc4" stroke-width="1.4"/>
<line x1="996.0" y1="907.5" x2="996.0" y2="913.0" stroke="#7f7fc4" stroke-width="1.4"/>
<line x1="1126.8" y1="913.0" x2="1185.3" y2="913.0" stroke="#1a1a8c" stroke-width="2.8"/>
<rect x="1134.5" y="909.2" width="3.0" height="7.5" fill="#1a1a8c"/>
<rect x="1180.0" y="909.2" width="5.3" height="7.5" fill="#1a1a8c"/>
<line x1="1126.8" y1="909.2" x2="1126.8" y2="916.8" stroke="#1a1a8c" stroke-width="1.4"/>
<line x1="1142.6" y1="909.2" x2="1142.6" y2="916.8" stroke="#1a1a8c" stroke-width="1.4"/>
<line x1="1150.7" y1="909.2" x2="1150.7" y2="916.8" stroke="#1a1a8c" stroke-width="1.4"/>
<line x1="1159.3" y1="909.2" x2="1159.3" y2="916.8" stroke="#1a1a8c" stroke-width="1.4"/>
<line x1="1164.6" y1="909.2" x2="1164.6" y2="916.8" stroke="#1a1a8c" stroke-width="1.4"/>
<line x1="1260.0" y1="913.0" x2="1299.7" y2="913.0" stroke="#1a1a8c" stroke-width="1.8"/>
<line x1="1260.0" y1="910.0" x2="1260.0" y2="916.0" stroke="#1a1a8c" stroke-width="1.4"/>
<line x1="1262.5" y1="910.0" x2="1262.5" y2="916.0" stroke="#1a1a8c" stroke-width="1.4"/>
<line x1="1265.0" y1="910.0" x2="1265.0" y2="916.0" stroke="#1a1a8c" stroke-width="1.4"/>
<line x1="1299.7" y1="910.0" x2="1299.7" y2="916.0" stroke="#1a1a8c" stroke-width="1.4"/>
<path d="M537.1,921.4V932.9H570.0" fill="none" stroke="#000" stroke-width="2.8"/>
<path d="M568.0,926.6L580.0,932.9L568.0,939.2L571.0,932.9Z" fill="#000"/>
<path d="M672.1,923.2V933.9H704.3" fill="none" stroke="#000" stroke-width="2.8"/>
<path d="M702.3,927.6L714.3,933.9L702.3,940.2L705.3,933.9Z" fill="#000"/>
<path d="M855.4,923.2V933.9H821.4" fill="none" stroke="#000" stroke-width="2.8"/>
<path d="M823.4,927.6L811.4,933.9L823.4,940.2L820.4,933.9Z" fill="#000"/>
<path d="M998.2,921.4V932.9H966.0" fill="none" stroke="#000" stroke-width="2.8"/>
<path d="M968.0,926.6L956.0,932.9L968.0,939.2L965.0,932.9Z" fill="#000"/>
<path d="M1126.5,926.0V937.2H1158.7" fill="none" stroke="#000" stroke-width="2.8"/>
<path d="M1156.7,930.9L1168.7,937.2L1156.7,943.5L1159.7,937.2Z" fill="#000"/>
<path d="M1299.6,926.0V937.2H1267.4" fill="none" stroke="#000" stroke-width="2.8"/>
<path d="M1269.4,930.9L1257.4,937.2L1269.4,943.5L1266.4,937.2Z" fill="#000"/>
<text x="492.4" y="973.5" font-size="28.78" fill="#000"><tspan font-style="italic">Zfp707</tspan></text>
<text x="639.1" y="973.5" font-size="29.12" fill="#000"><tspan font-style="italic">Fbxo15</tspan></text>
<text x="801.0" y="973.5" font-size="29.09" fill="#000"><tspan font-style="italic">Gata4</tspan></text>
<text x="933.7" y="973.5" font-size="29.86" fill="#000"><tspan font-style="italic">Trim43b</tspan></text>
<text x="1108.4" y="973.8" font-size="28.39" fill="#000"><tspan font-style="italic">Trim43a</tspan></text>
<text x="1239.2" y="973.8" font-size="28.92" fill="#000"><tspan font-style="italic">Guca1a</tspan></text>
<text x="1443.6" y="975.0" font-size="29.86" fill="#000">MERVL</text>
<text x="1673.0" y="975.0" font-size="29.86" fill="#000">MERVL</text>
<rect x="1452.1" y="929.5" width="63.7" height="8.6" fill="#000"/>
<line x1="1509.6" y1="929.5" x2="1509.6" y2="938.1" stroke="#fff" stroke-width="0.8"/>
<rect x="1681.0" y="929.5" width="73.1" height="8.6" fill="#000"/>
<text transform="translate(1597.5,803.3) rotate(90)" text-anchor="middle" font-size="25" fill="#000">chr16: 3,762</text>
<text transform="translate(1568.5,805.7) rotate(90)" text-anchor="middle" font-size="25" fill="#000">-3,774 kb</text>
<text transform="translate(1832,803) rotate(90)" text-anchor="middle" font-size="25" fill="#000">chr13: 51,148</text>
<text transform="translate(1803,802.5) rotate(90)" text-anchor="middle" font-size="25" fill="#000">- 51,159 kb</text>
<text x="13.8" y="1169.8" font-size="33" font-weight="bold" fill="#231815">f</text>
<text x="104.7" y="1191.7" font-size="29.26" fill="#231815">Promoter OBOX5 binding</text>
<text x="152.9" y="1227.0" font-size="29.33" fill="#231815">in L2C embryos</text>
<text x="120.7" y="1275.6" font-size="23.00" fill="#d6282e">Up (n=449)</text>
<text x="247.2" y="1275.6" font-size="23.03" fill="#000">Random (n=449)</text>
<text x="120.6" y="1302.3" font-size="23.05" fill="#2a8bc6">Down (n=189)</text>
<text x="270.6" y="1302.3" font-size="22.99" fill="#6f6f6f">Random (n=189)</text>
<text x="535.6" y="1192.6" font-size="29.39" fill="#231815">Promoter OBOX3 binding</text>
<text x="583.9" y="1227.5" font-size="29.34" fill="#231815">in L2C embryos</text>
<text x="549.1" y="1274.2" font-size="28.05" fill="#d6282e">Up (n=728)</text>
<text x="704.6" y="1274.2" font-size="27.98" fill="#000">Random (n=728)</text>
<text x="548.9" y="1307.0" font-size="28.19" fill="#2a8bc6">Down (n=201)</text>
<text x="731.3" y="1307.0" font-size="27.98" fill="#6f6f6f">Random (n=201)</text>
<polyline points="149.1,1471.7 154.8,1477.3 159.0,1467.5 164.6,1471.7 170.2,1478.8 177.3,1468.9 182.9,1475.9 188.5,1477.3 195.6,1468.9 201.2,1480.2 208.2,1481.6 213.8,1478.8 219.5,1481.6 225.1,1485.8 233.5,1467.5 239.2,1470.3 244.8,1468.9 251.8,1483.0 257.5,1474.5 263.1,1470.3 268.7,1474.5 274.3,1483.0 281.4,1481.6 287.0,1488.6 294.0,1495.6 299.7,1488.6 305.3,1483.0 310.9,1470.3 316.5,1483.0 322.2,1468.9 327.8,1459.1 333.4,1471.7 337.6,1483.0 344.7,1480.2 350.3,1483.0 355.9,1491.4 363.0,1477.3 368.6,1468.9 374.2,1457.6 378.4,1464.7 384.1,1477.3 389.7,1467.5 395.3,1466.1 399.5,1471.7" fill="none" stroke="#7a7a7a" stroke-width="2.5" stroke-linejoin="round"/>
<polyline points="149.1,1456.2 156.2,1452.0 163.2,1430.9 167.4,1432.3 174.5,1440.8 181.5,1428.1 187.1,1416.8 194.1,1426.7 199.8,1438.0 205.4,1428.1 208.2,1425.3 213.8,1401.4 219.5,1414.0 225.1,1418.3 230.7,1407.0 236.4,1395.7 242.0,1384.5 247.6,1388.7 253.2,1367.6 257.5,1356.4 260.3,1356.4 264.5,1340.9 268.7,1359.2 274.3,1367.6 280.0,1374.6 284.2,1359.2 289.8,1343.7 294.0,1345.1 298.3,1364.8 303.9,1378.9 309.5,1384.5 315.1,1373.2 320.8,1383.1 326.4,1385.9 330.6,1398.6 336.2,1414.0 341.9,1409.8 348.9,1397.2 354.5,1416.8 361.6,1415.4 368.6,1432.3 374.2,1426.7 378.4,1418.3 384.1,1429.5 391.1,1454.8 395.3,1438.0 399.5,1430.9" fill="none" stroke="#d23a3a" stroke-width="2.5" stroke-linejoin="round"/>
<polyline points="149.1,1492.8 153.3,1490.0 159.0,1497.0 166.0,1498.4 170.2,1485.8 174.5,1494.2 180.1,1498.4 184.3,1504.1 188.5,1499.9 194.1,1501.3 199.8,1504.1 202.6,1509.7 208.2,1504.1 213.8,1509.7 219.5,1498.4 225.1,1491.4 229.3,1502.7 234.9,1513.9 239.2,1505.5 244.8,1502.7 251.8,1505.5 258.9,1502.7 265.9,1497.0 271.5,1501.3 278.6,1499.9 284.2,1494.2 289.8,1499.9 296.8,1508.3 302.5,1501.3 308.1,1502.7 313.7,1501.3 320.8,1501.3 323.6,1492.8 329.2,1491.4 334.8,1490.0 340.5,1495.6 348.9,1494.2 354.5,1490.0 361.6,1491.4 367.2,1487.2 374.2,1494.2 379.9,1498.4 385.5,1499.9 391.1,1492.8 399.5,1497.0" fill="none" stroke="#1c8dcb" stroke-width="2.5" stroke-linejoin="round"/>
<polyline points="149.1,1488.6 153.3,1487.2 157.6,1495.6 163.2,1490.0 168.8,1484.4 174.5,1471.7 180.1,1475.9 185.7,1480.2 191.3,1488.6 197.0,1491.4 204.0,1494.2 209.6,1490.0 215.3,1484.4 222.3,1477.3 227.9,1485.8 233.5,1480.2 239.2,1474.5 243.4,1464.7 247.6,1467.5 251.8,1483.0 258.9,1483.0 264.5,1477.3 270.1,1484.4 277.2,1471.7 281.4,1475.9 287.0,1483.0 292.6,1485.8 298.3,1478.8 303.9,1474.5 309.5,1478.8 315.1,1485.8 320.8,1494.2 327.8,1488.6 333.4,1483.0 340.5,1473.1 347.5,1475.9 354.5,1490.0 361.6,1488.6 368.6,1491.4 374.2,1494.2 382.7,1501.3 389.7,1498.4 393.9,1494.2 399.5,1487.2" fill="none" stroke="#000" stroke-width="2.8" stroke-linejoin="round"/>
<line x1="137.0" y1="1330.5" x2="137.0" y2="1543.0" stroke="#000" stroke-width="2.6"/>
<line x1="128.2" y1="1351.3" x2="137.0" y2="1351.3" stroke="#000" stroke-width="2.4"/>
<line x1="128.2" y1="1539.2" x2="137.0" y2="1539.2" stroke="#000" stroke-width="2.4"/>
<line x1="136.0" y1="1542.0" x2="412.2" y2="1542.0" stroke="#000" stroke-width="2.6"/>
<line x1="144.3" y1="1542.0" x2="144.3" y2="1552.0" stroke="#000" stroke-width="2.4"/>
<line x1="272.0" y1="1542.0" x2="272.0" y2="1552.0" stroke="#000" stroke-width="2.4"/>
<line x1="399.5" y1="1542.0" x2="399.5" y2="1552.0" stroke="#000" stroke-width="2.4"/>
<text x="91.8" y="1362.0" font-size="27.50" fill="#000">12</text>
<text x="106.7" y="1547.7" font-size="27.50" fill="#000">0</text>
<text x="106.8" y="1580.0" font-size="27.00" fill="#000">-15</text>
<text x="267.6" y="1580.0" font-size="27.00" fill="#000">0</text>
<text x="368.0" y="1580.0" font-size="27.00" fill="#000">15kb</text>
<text x="162.3" y="1622.0" font-size="28.31" fill="#000">Distance from TSS</text>
<text transform="translate(105.5,1440.9) rotate(-90)" text-anchor="middle" font-size="28.5" fill="#000" textLength="78.5" lengthAdjust="spacingAndGlyphs">RPKM</text>
<polyline points="581.6,1497.0 587.2,1485.8 592.9,1499.9 598.5,1481.6 604.1,1488.6 611.1,1494.2 618.2,1485.8 625.2,1492.8 632.2,1490.0 639.3,1492.8 644.9,1495.6 651.9,1491.4 654.8,1505.5 661.8,1473.1 666.0,1491.4 671.6,1504.1 677.3,1485.8 682.9,1467.5 688.5,1477.3 694.1,1483.0 699.8,1485.8 705.4,1456.2 711.0,1488.6 716.7,1499.9 722.3,1490.0 727.9,1497.0 733.5,1491.4 739.2,1502.7 744.8,1485.8 750.4,1483.0 754.6,1491.4 758.9,1485.8 765.9,1487.2 771.5,1494.2 777.2,1491.4 784.2,1497.0 789.8,1491.4 795.4,1499.9 801.1,1494.2 806.7,1488.6 812.3,1478.8 818.0,1484.4 823.6,1497.0 830.6,1508.3" fill="none" stroke="#7a7a7a" stroke-width="2.5" stroke-linejoin="round"/>
<polyline points="581.6,1456.2 590.0,1457.6 594.3,1454.8 598.5,1440.8 602.7,1450.6 608.3,1443.6 612.5,1440.8 616.8,1440.8 621.0,1438.0 623.8,1429.5 628.0,1446.4 632.2,1447.8 637.9,1438.0 644.9,1423.9 649.1,1435.1 653.3,1426.7 657.6,1428.1 661.8,1423.9 667.4,1432.3 673.0,1428.1 678.7,1426.7 684.3,1415.4 689.9,1409.8 695.6,1407.0 700.3,1402.8 704.6,1342.3 708.2,1356.4 712.4,1401.4 716.7,1432.3 722.3,1412.6 727.9,1409.8 732.1,1418.3 737.8,1435.1 742.0,1423.9 747.0,1419.7 753.2,1432.3 758.9,1439.4 765.9,1429.5 771.5,1432.3 778.6,1430.9 784.2,1440.8 792.6,1454.8 798.3,1433.7 802.5,1435.1 806.7,1440.8 810.9,1454.8 816.5,1464.7 822.2,1463.3 830.6,1450.6" fill="none" stroke="#d23a3a" stroke-width="2.5" stroke-linejoin="round"/>
<polyline points="581.6,1491.4 587.2,1484.4 592.9,1487.2 599.9,1491.4 606.9,1488.6 612.5,1498.4 621.0,1502.7 629.4,1508.3 637.9,1501.3 644.9,1519.5 651.9,1513.9 657.6,1512.5 664.6,1509.7 671.6,1518.1 678.7,1515.3 685.7,1519.5 694.1,1515.3 700.3,1512.5 706.2,1473.1 709.6,1485.8 715.3,1519.5 725.1,1519.5 733.5,1497.0 742.0,1509.7 750.4,1509.7 757.5,1488.6 764.5,1494.2 771.5,1497.0 777.2,1513.9 784.2,1518.1 792.6,1513.9 798.3,1511.1 803.9,1501.3 809.5,1515.3 818.0,1519.5 823.6,1519.5 830.6,1519.5" fill="none" stroke="#1c8dcb" stroke-width="2.5" stroke-linejoin="round"/>
<polyline points="581.6,1492.8 588.6,1488.6 595.7,1487.2 601.3,1488.6 609.7,1494.2 615.4,1481.6 621.0,1485.8 629.4,1491.4 637.9,1498.4 643.5,1502.7 649.1,1497.0 657.6,1497.0 666.0,1495.6 674.5,1492.8 682.9,1494.2 687.1,1488.6 697.0,1491.4 701.2,1480.2 704.6,1448.6 708.8,1448.6 712.4,1474.5 716.7,1488.6 722.3,1483.0 726.5,1485.8 730.7,1480.2 736.4,1488.6 742.0,1485.8 747.6,1488.6 754.6,1483.0 760.3,1488.6 767.3,1491.4 775.7,1487.2 784.2,1494.2 792.6,1499.9 798.3,1491.4 803.9,1481.6 809.5,1492.8 815.1,1487.2 823.6,1490.0 830.6,1490.0" fill="none" stroke="#000" stroke-width="2.8" stroke-linejoin="round"/>
<line x1="570.3" y1="1332.4" x2="570.3" y2="1550.7" stroke="#000" stroke-width="2.6"/>
<line x1="561.5" y1="1353.0" x2="570.3" y2="1353.0" stroke="#000" stroke-width="2.4"/>
<line x1="561.5" y1="1543.5" x2="570.3" y2="1543.5" stroke="#000" stroke-width="2.4"/>
<line x1="569.3" y1="1549.7" x2="841.9" y2="1549.7" stroke="#000" stroke-width="2.6"/>
<line x1="578.2" y1="1549.7" x2="578.2" y2="1559.7" stroke="#000" stroke-width="2.4"/>
<line x1="704.0" y1="1549.7" x2="704.0" y2="1559.7" stroke="#000" stroke-width="2.4"/>
<line x1="829.8" y1="1549.7" x2="829.8" y2="1559.7" stroke="#000" stroke-width="2.4"/>
<text x="522.9" y="1362.0" font-size="27.50" fill="#000">12</text>
<text x="537.7" y="1550.5" font-size="27.50" fill="#000">0</text>
<text x="542.4" y="1581.5" font-size="27.00" fill="#000">-15</text>
<text x="698.9" y="1581.5" font-size="27.00" fill="#000">0</text>
<text x="795.7" y="1581.5" font-size="27.00" fill="#000">15kb</text>
<text x="594.8" y="1623.7" font-size="27.99" fill="#000">Distance from TSS</text>
<text transform="translate(543.8,1445.7) rotate(-90)" text-anchor="middle" font-size="28.5" fill="#000" textLength="77.4" lengthAdjust="spacingAndGlyphs">RPKM</text>
<text x="1019.3" y="1152.7" font-size="33" font-weight="bold" fill="#231815">g</text>
<text x="1090.4" y="1204.4" font-size="29.23" fill="#231815"><tspan font-style="italic">Obox5</tspan> OE DEG expression</text>
<text x="1155.8" y="1239.6" font-size="29.52" fill="#231815">in WT embryos</text>
<text x="1108.8" y="1298.7" font-size="25.39" fill="#d6282e">Up (n=449)</text>
<text x="1248.6" y="1298.7" font-size="25.32" fill="#000">Random (n=449)</text>
<text x="1108.7" y="1328.2" font-size="25.29" fill="#2a8bc6">Down (n=189)</text>
<text x="1274.0" y="1328.2" font-size="25.12" fill="#6f6f6f">Random (n=189)</text>
<text x="1595.4" y="1204.4" font-size="29.17" fill="#231815"><tspan font-style="italic">Obox3</tspan> OE DEG expression</text>
<text x="1650.1" y="1239.6" font-size="29.46" fill="#231815">in WT embryos</text>
<text x="1606.3" y="1288.8" font-size="27.31" fill="#d6282e">Up (n=728)</text>
<text x="1756.7" y="1288.8" font-size="27.21" fill="#000">Random (n=728)</text>
<text x="1606.1" y="1320.3" font-size="27.15" fill="#2a8bc6">Down (n=201)</text>
<text x="1783.4" y="1320.3" font-size="27.23" fill="#6f6f6f">Random (n=201)</text>
<polyline points="1143.7,1483.0 1185.0,1498.4 1226.0,1490.0 1266.6,1492.0 1308.3,1485.8 1350.5,1492.8 1391.8,1495.6 1433.5,1485.8" fill="none" stroke="#6e6e6e" stroke-width="2.2" stroke-linejoin="round"/>
<path d="M1143.7,1474.6V1491.4M1141.5,1474.6h4.4M1141.5,1491.4h4.4M1185.0,1490.0V1506.8M1182.8,1490.0h4.4M1182.8,1506.8h4.4M1226.0,1481.6V1498.4M1223.8,1481.6h4.4M1223.8,1498.4h4.4M1266.6,1483.6V1500.4M1264.4,1483.6h4.4M1264.4,1500.4h4.4M1308.3,1477.4V1494.2M1306.1,1477.4h4.4M1306.1,1494.2h4.4M1350.5,1484.4V1501.2M1348.3,1484.4h4.4M1348.3,1501.2h4.4M1391.8,1487.2V1504.0M1389.6,1487.2h4.4M1389.6,1504.0h4.4M1433.5,1477.4V1494.2M1431.3,1477.4h4.4M1431.3,1494.2h4.4" stroke="#6e6e6e" stroke-width="1.8" fill="none"/>
<polyline points="1143.7,1492.8 1185.0,1507.7 1226.0,1500.4 1266.6,1501.8 1308.3,1488.6 1350.5,1495.0 1391.8,1496.5 1433.5,1490.9" fill="none" stroke="#000" stroke-width="2.2" stroke-linejoin="round"/>
<path d="M1143.7,1489.8V1495.8M1141.5,1489.8h4.4M1141.5,1495.8h4.4M1185.0,1504.7V1510.7M1182.8,1504.7h4.4M1182.8,1510.7h4.4M1226.0,1497.4V1503.4M1223.8,1497.4h4.4M1223.8,1503.4h4.4M1266.6,1498.8V1504.8M1264.4,1498.8h4.4M1264.4,1504.8h4.4M1308.3,1485.6V1491.6M1306.1,1485.6h4.4M1306.1,1491.6h4.4M1350.5,1492.0V1498.0M1348.3,1492.0h4.4M1348.3,1498.0h4.4M1391.8,1493.5V1499.5M1389.6,1493.5h4.4M1389.6,1499.5h4.4M1433.5,1487.9V1493.9M1431.3,1487.9h4.4M1431.3,1493.9h4.4" stroke="#000" stroke-width="1.8" fill="none"/>
<polyline points="1143.7,1516.7 1185.0,1513.4 1226.0,1516.7 1266.6,1517.3 1308.3,1513.1 1350.5,1536.4 1391.8,1536.4 1433.5,1494.2" fill="none" stroke="#3b7fc0" stroke-width="2.2" stroke-linejoin="round"/>
<path d="M1143.7,1511.7V1521.7M1141.5,1511.7h4.4M1141.5,1521.7h4.4M1185.0,1508.4V1518.4M1182.8,1508.4h4.4M1182.8,1518.4h4.4M1226.0,1511.7V1521.7M1223.8,1511.7h4.4M1223.8,1521.7h4.4M1266.6,1512.3V1522.3M1264.4,1512.3h4.4M1264.4,1522.3h4.4M1308.3,1508.1V1518.1M1306.1,1508.1h4.4M1306.1,1518.1h4.4M1350.5,1531.4V1541.4M1348.3,1531.4h4.4M1348.3,1541.4h4.4M1391.8,1531.4V1541.4M1389.6,1531.4h4.4M1389.6,1541.4h4.4M1433.5,1489.2V1499.2M1431.3,1489.2h4.4M1431.3,1499.2h4.4" stroke="#3b7fc0" stroke-width="1.8" fill="none"/>
<polyline points="1143.7,1446.4 1185.0,1468.0 1226.0,1457.6 1266.6,1453.3 1308.3,1381.1 1350.5,1373.2 1391.8,1383.1 1433.5,1454.8" fill="none" stroke="#d7191c" stroke-width="2.2" stroke-linejoin="round"/>
<path d="M1143.7,1440.8V1452.0M1141.5,1440.8h4.4M1141.5,1452.0h4.4M1185.0,1462.4V1473.6M1182.8,1462.4h4.4M1182.8,1473.6h4.4M1226.0,1452.0V1463.2M1223.8,1452.0h4.4M1223.8,1463.2h4.4M1266.6,1447.7V1458.9M1264.4,1447.7h4.4M1264.4,1458.9h4.4M1308.3,1375.5V1386.7M1306.1,1375.5h4.4M1306.1,1386.7h4.4M1350.5,1367.6V1378.8M1348.3,1367.6h4.4M1348.3,1378.8h4.4M1391.8,1377.5V1388.7M1389.6,1377.5h4.4M1389.6,1388.7h4.4M1433.5,1449.2V1460.4M1431.3,1449.2h4.4M1431.3,1460.4h4.4" stroke="#d7191c" stroke-width="1.8" fill="none"/>
<line x1="1119.2" y1="1359.2" x2="1119.2" y2="1551.0" stroke="#000" stroke-width="2.4"/>
<line x1="1118.2" y1="1550.0" x2="1457.4" y2="1550.0" stroke="#000" stroke-width="2.4"/>
<line x1="1112.5" y1="1379.4" x2="1119.2" y2="1379.4" stroke="#000" stroke-width="2.2"/>
<line x1="1112.5" y1="1526.6" x2="1119.2" y2="1526.6" stroke="#000" stroke-width="2.2"/>
<line x1="1143.7" y1="1550.0" x2="1143.7" y2="1558.0" stroke="#000" stroke-width="2.2"/>
<line x1="1185.0" y1="1550.0" x2="1185.0" y2="1558.0" stroke="#000" stroke-width="2.2"/>
<line x1="1226.0" y1="1550.0" x2="1226.0" y2="1558.0" stroke="#000" stroke-width="2.2"/>
<line x1="1266.6" y1="1550.0" x2="1266.6" y2="1558.0" stroke="#000" stroke-width="2.2"/>
<line x1="1308.3" y1="1550.0" x2="1308.3" y2="1558.0" stroke="#000" stroke-width="2.2"/>
<line x1="1350.5" y1="1550.0" x2="1350.5" y2="1558.0" stroke="#000" stroke-width="2.2"/>
<line x1="1391.8" y1="1550.0" x2="1391.8" y2="1558.0" stroke="#000" stroke-width="2.2"/>
<line x1="1433.5" y1="1550.0" x2="1433.5" y2="1558.0" stroke="#000" stroke-width="2.2"/>
<text x="1091.9" y="1385.6" font-size="24.50" fill="#000">4</text>
<text x="1090.1" y="1533.8" font-size="24.50" fill="#000">1</text>
<text x="1117.9" y="1577.2" font-size="22.70" fill="#000">FGO</text>
<text x="1169.9" y="1577.2" font-size="24.28" fill="#000">MII</text>
<text x="1210.9" y="1577.2" font-size="22.23" fill="#000">1C</text>
<text x="1246.0" y="1577.2" font-size="23.06" fill="#000">E2C</text>
<text x="1295.2" y="1577.2" font-size="22.97" fill="#000">L2C</text>
<text x="1340.1" y="1577.2" font-size="24.10" fill="#000">4C</text>
<text x="1380.5" y="1577.2" font-size="23.42" fill="#000">8C</text>
<text x="1418.7" y="1577.2" font-size="23.73" fill="#000">ICM</text>
<polyline points="1626.6,1491.4 1669.7,1512.5 1712.4,1501.3 1755.5,1505.5 1798.8,1495.6 1841.9,1509.7 1884.9,1511.1 1928.2,1501.3" fill="none" stroke="#6e6e6e" stroke-width="2.2" stroke-linejoin="round"/>
<path d="M1626.6,1483.4V1499.4M1624.4,1483.4h4.4M1624.4,1499.4h4.4M1669.7,1504.5V1520.5M1667.5,1504.5h4.4M1667.5,1520.5h4.4M1712.4,1493.3V1509.3M1710.2,1493.3h4.4M1710.2,1509.3h4.4M1755.5,1497.5V1513.5M1753.3,1497.5h4.4M1753.3,1513.5h4.4M1798.8,1487.6V1503.6M1796.6,1487.6h4.4M1796.6,1503.6h4.4M1841.9,1501.7V1517.7M1839.7,1501.7h4.4M1839.7,1517.7h4.4M1884.9,1503.1V1519.1M1882.7,1503.1h4.4M1882.7,1519.1h4.4M1928.2,1493.3V1509.3M1926.0,1493.3h4.4M1926.0,1509.3h4.4" stroke="#6e6e6e" stroke-width="1.8" fill="none"/>
<polyline points="1626.6,1484.4 1669.7,1508.3 1712.4,1497.0 1755.5,1502.7 1798.8,1487.2 1841.9,1494.2 1884.9,1496.5 1928.2,1491.4" fill="none" stroke="#000" stroke-width="2.2" stroke-linejoin="round"/>
<path d="M1626.6,1480.4V1488.4M1624.4,1480.4h4.4M1624.4,1488.4h4.4M1669.7,1504.3V1512.3M1667.5,1504.3h4.4M1667.5,1512.3h4.4M1712.4,1493.0V1501.0M1710.2,1493.0h4.4M1710.2,1501.0h4.4M1755.5,1498.7V1506.7M1753.3,1498.7h4.4M1753.3,1506.7h4.4M1798.8,1483.2V1491.2M1796.6,1483.2h4.4M1796.6,1491.2h4.4M1841.9,1490.2V1498.2M1839.7,1490.2h4.4M1839.7,1498.2h4.4M1884.9,1492.5V1500.5M1882.7,1492.5h4.4M1882.7,1500.5h4.4M1928.2,1487.4V1495.4M1926.0,1487.4h4.4M1926.0,1495.4h4.4" stroke="#000" stroke-width="1.8" fill="none"/>
<polyline points="1626.6,1502.7 1669.7,1515.3 1712.4,1511.1 1755.5,1509.7 1798.8,1501.3 1841.9,1529.4 1884.9,1529.4 1928.2,1450.6" fill="none" stroke="#3b7fc0" stroke-width="2.2" stroke-linejoin="round"/>
<path d="M1626.6,1497.7V1507.7M1624.4,1497.7h4.4M1624.4,1507.7h4.4M1669.7,1510.3V1520.3M1667.5,1510.3h4.4M1667.5,1520.3h4.4M1712.4,1506.1V1516.1M1710.2,1506.1h4.4M1710.2,1516.1h4.4M1755.5,1504.7V1514.7M1753.3,1504.7h4.4M1753.3,1514.7h4.4M1798.8,1497.3V1505.3M1796.6,1497.3h4.4M1796.6,1505.3h4.4M1841.9,1524.4V1534.4M1839.7,1524.4h4.4M1839.7,1534.4h4.4M1884.9,1524.4V1534.4M1882.7,1524.4h4.4M1882.7,1534.4h4.4M1928.2,1440.6V1460.6M1926.0,1440.6h4.4M1926.0,1460.6h4.4" stroke="#3b7fc0" stroke-width="1.8" fill="none"/>
<polyline points="1626.6,1453.4 1669.7,1477.9 1712.4,1468.0 1755.5,1461.9 1798.8,1367.6 1841.9,1363.4 1884.9,1385.9 1928.2,1470.3" fill="none" stroke="#d7191c" stroke-width="2.2" stroke-linejoin="round"/>
<path d="M1626.6,1448.4V1458.4M1624.4,1448.4h4.4M1624.4,1458.4h4.4M1669.7,1472.9V1482.9M1667.5,1472.9h4.4M1667.5,1482.9h4.4M1712.4,1463.0V1473.0M1710.2,1463.0h4.4M1710.2,1473.0h4.4M1755.5,1456.9V1466.9M1753.3,1456.9h4.4M1753.3,1466.9h4.4M1798.8,1362.6V1372.6M1796.6,1362.6h4.4M1796.6,1372.6h4.4M1841.9,1358.4V1368.4M1839.7,1358.4h4.4M1839.7,1368.4h4.4M1884.9,1380.9V1390.9M1882.7,1380.9h4.4M1882.7,1390.9h4.4M1928.2,1465.3V1475.3M1926.0,1465.3h4.4M1926.0,1475.3h4.4" stroke="#d7191c" stroke-width="1.8" fill="none"/>
<line x1="1600.7" y1="1348.0" x2="1600.7" y2="1547.3" stroke="#000" stroke-width="2.4"/>
<line x1="1599.7" y1="1546.3" x2="1953.6" y2="1546.3" stroke="#000" stroke-width="2.4"/>
<line x1="1594.0" y1="1363.4" x2="1600.7" y2="1363.4" stroke="#000" stroke-width="2.2"/>
<line x1="1594.0" y1="1540.7" x2="1600.7" y2="1540.7" stroke="#000" stroke-width="2.2"/>
<line x1="1626.6" y1="1546.3" x2="1626.6" y2="1554.3" stroke="#000" stroke-width="2.2"/>
<line x1="1669.7" y1="1546.3" x2="1669.7" y2="1554.3" stroke="#000" stroke-width="2.2"/>
<line x1="1712.4" y1="1546.3" x2="1712.4" y2="1554.3" stroke="#000" stroke-width="2.2"/>
<line x1="1755.5" y1="1546.3" x2="1755.5" y2="1554.3" stroke="#000" stroke-width="2.2"/>
<line x1="1798.8" y1="1546.3" x2="1798.8" y2="1554.3" stroke="#000" stroke-width="2.2"/>
<line x1="1841.9" y1="1546.3" x2="1841.9" y2="1554.3" stroke="#000" stroke-width="2.2"/>
<line x1="1884.9" y1="1546.3" x2="1884.9" y2="1554.3" stroke="#000" stroke-width="2.2"/>
<line x1="1928.2" y1="1546.3" x2="1928.2" y2="1554.3" stroke="#000" stroke-width="2.2"/>
<text x="1554.1" y="1374.6" font-size="24.50" fill="#000">3.5</text>
<text x="1570.9" y="1546.9" font-size="24.50" fill="#000">1</text>
<text x="1595.1" y="1573.0" font-size="23.53" fill="#000">FGO</text>
<text x="1651.9" y="1573.0" font-size="26.34" fill="#000">MII</text>
<text x="1694.2" y="1573.0" font-size="24.03" fill="#000">1C</text>
<text x="1730.9" y="1573.0" font-size="26.23" fill="#000">E2C</text>
<text x="1781.9" y="1573.0" font-size="25.66" fill="#000">L2C</text>
<text x="1831.5" y="1573.0" font-size="24.59" fill="#000">4C</text>
<text x="1872.0" y="1573.0" font-size="25.00" fill="#000">8C</text>
<text x="1911.6" y="1573.0" font-size="26.51" fill="#000">ICM</text>
<text transform="translate(1065.5,1459) rotate(-90)" text-anchor="middle" font-size="25" fill="#000" textLength="214" lengthAdjust="spacingAndGlyphs">Mean log<tspan font-size="15" dy="5">2</tspan><tspan dy="-5">(FPKM+1)</tspan></text>
<text transform="translate(1541.5,1457.6) rotate(-90)" text-anchor="middle" font-size="25" fill="#000" textLength="225" lengthAdjust="spacingAndGlyphs">Mean log<tspan font-size="15" dy="5">2</tspan><tspan dy="-5">(FPKM+1)</tspan></text>
<text x="22.4" y="1776.0" font-size="33" font-weight="bold" fill="#231815">h</text>
<text x="391.8" y="1806.0" font-size="29.71" fill="#231815">ZGA gene</text>
<text x="177.6" y="1876.0" font-size="24.48" fill="#231815"><tspan font-style="italic">Obox5</tspan> OE up</text>
<text x="205.4" y="1906.4" font-size="24.00" fill="#231815">(mESC)</text>
<text x="375.0" y="1876.0" font-size="24.34" fill="#231815"><tspan font-style="italic">Obox3</tspan> OE up</text>
<text x="402.8" y="1906.4" font-size="24.00" fill="#231815">(mESC)</text>
<g clip-path="url(#hc3)"><circle cx="328.6" cy="1977.2" r="70.3" fill="#b4dcc4"/><circle cx="361.9" cy="1977.1" r="74.8" fill="#b4dcc4"/></g>
<circle cx="328.6" cy="1977.2" r="70.3" fill="none" stroke="#000" stroke-width="3"/>
<circle cx="361.9" cy="1977.1" r="74.8" fill="none" stroke="#000" stroke-width="3"/>
<circle cx="343.4" cy="2027.6" r="69.5" fill="none" stroke="#000" stroke-width="3"/>
<text x="264.5" y="1964.4" font-size="24.50" fill="#000">6</text>
<text x="326.8" y="1950.9" font-size="24.50" fill="#000">29</text>
<text x="396.7" y="1962.4" font-size="24.50" fill="#000">25</text>
<text x="331.1" y="2011.7" font-size="24.50" fill="#000">89</text>
<text x="282.3" y="2029.0" font-size="24.50" fill="#000">8</text>
<text x="381.4" y="2036.4" font-size="24.50" fill="#000">45</text>
<text x="325.3" y="2084.5" font-size="24.50" fill="#000">409</text>
<line x1="403.0" y1="2008.4" x2="496.0" y2="2008.4" stroke="#1a9a50" stroke-width="2"/>
<path d="M494,2002.4 L507.5,2008.4 L494,2014.4 Z" fill="#1a9a50" stroke="none" stroke-width="0"/>
<text x="422.1" y="2040.5" font-size="23.15" fill="#000"><tspan font-style="italic">p</tspan>=3e-13</text>
<text x="548.4" y="1925.4" font-size="23.18" fill="#3d86c6">Minor (n=7)</text>
<text x="529.0" y="1957.0" font-size="22.62" fill="#3d86c6"><tspan font-style="italic">Zfp352, Ddit4l</tspan></text>
<text x="528.6" y="1985.8" font-size="22.80" fill="#3d86c6"><tspan font-style="italic">Guca1a,Gm11544</tspan></text>
<text x="526.6" y="2051.6" font-size="23.21" fill="#e31d2b">Major (n=135)</text>
<text x="489.0" y="2086.6" font-size="23.26" fill="#e31d2b"><tspan font-style="italic">Gata1/4, Hexb, Rnf11</tspan></text>
<text x="499.0" y="2117.4" font-size="23.11" fill="#e31d2b"><tspan font-style="italic">Fbxo15, Trim43a/c</tspan></text>
<text x="269.8" y="2131.8" font-size="25.11" fill="#231815">mzKO down</text>
<text x="283.5" y="2162.7" font-size="25.48" fill="#231815">(E2C/L2C)</text>
<text x="1006.1" y="1753.5" font-size="33" font-weight="bold" fill="#231815">i</text>
<text x="1077.9" y="1748.4" font-size="29.32" fill="#231815">Repeat expression change</text>
<text x="1143.1" y="1783.6" font-size="29.34" fill="#231815">upon <tspan font-style="italic">Obox5</tspan> OE</text>
<text x="1161.0" y="1832.8" font-size="27.95" fill="#2a8bc6">Down</text>
<text x="1346.7" y="1832.8" font-size="29.14" fill="#d6282e">Up</text>
<path d="M1272.1 2137.2h0M1294.5 2129.7h0M1292.2 2132.8h0M1262.9 2140.9h0M1266.5 2135.1h0M1262.6 2136.6h0M1281.1 2135.6h0M1270.6 2137.2h0M1284.1 2132.9h0M1240.2 2124.8h0M1298.0 2129.9h0M1269.9 2136.9h0M1283.0 2137.7h0M1269.2 2136.0h0M1265.1 2136.8h0M1279.3 2140.1h0M1285.4 2133.9h0M1268.1 2135.7h0M1268.9 2136.9h0M1283.1 2135.5h0M1256.8 2135.7h0M1245.9 2130.0h0M1278.2 2135.5h0M1260.2 2135.9h0M1239.0 2128.9h0M1257.7 2136.6h0M1263.6 2132.7h0M1251.3 2132.4h0M1246.2 2128.9h0M1272.1 2137.8h0M1286.7 2134.3h0M1267.6 2139.3h0M1258.9 2136.5h0M1278.0 2137.7h0M1283.6 2135.6h0M1266.4 2136.7h0M1280.7 2136.5h0M1289.1 2135.3h0M1268.0 2137.6h0M1257.7 2134.5h0M1277.4 2138.3h0M1275.7 2137.1h0M1290.1 2133.1h0M1249.8 2130.8h0M1260.3 2134.9h0M1257.3 2134.0h0M1242.2 2124.0h0M1273.6 2138.3h0M1280.4 2136.9h0M1259.0 2135.0h0M1294.9 2132.4h0M1285.4 2135.5h0M1282.1 2136.3h0M1278.3 2133.3h0M1287.7 2133.8h0M1249.0 2132.1h0M1281.9 2137.9h0M1281.7 2138.3h0M1241.6 2129.1h0M1277.4 2135.1h0M1267.3 2133.9h0M1284.7 2135.8h0M1264.1 2136.4h0M1271.2 2138.3h0M1277.3 2136.5h0M1256.7 2134.9h0M1281.6 2133.9h0M1269.7 2137.5h0M1279.8 2135.7h0M1262.7 2136.6h0M1289.9 2133.9h0M1281.7 2135.7h0M1268.5 2137.3h0M1282.2 2135.7h0M1292.8 2133.0h0M1301.8 2127.6h0M1244.9 2128.6h0M1286.4 2133.8h0M1279.4 2138.6h0M1269.9 2136.8h0M1254.5 2135.1h0M1292.8 2132.6h0M1250.2 2131.3h0M1281.1 2135.0h0M1293.5 2131.9h0M1244.4 2129.3h0M1266.4 2137.5h0M1249.3 2130.0h0M1275.6 2136.0h0M1297.1 2129.7h0M1304.3 2127.3h0M1241.4 2124.1h0M1261.8 2136.5h0M1283.4 2134.8h0M1298.2 2129.8h0M1278.6 2135.8h0M1258.9 2135.7h0M1276.5 2138.8h0M1271.2 2137.5h0M1268.1 2137.4h0M1259.1 2135.8h0M1278.1 2135.6h0M1276.7 2137.4h0M1269.9 2136.7h0M1267.7 2135.8h0M1249.8 2131.8h0M1263.3 2136.0h0M1291.9 2133.4h0M1268.3 2136.8h0M1247.1 2129.8h0M1294.1 2133.3h0M1280.5 2137.4h0M1304.3 2126.9h0M1272.6 2137.8h0M1263.7 2136.2h0M1247.0 2129.9h0M1293.9 2131.2h0M1304.3 2126.5h0M1257.6 2135.0h0M1260.6 2133.8h0M1281.6 2135.8h0M1257.5 2133.0h0M1266.9 2137.0h0M1265.6 2135.1h0M1274.7 2135.2h0M1290.0 2133.4h0M1271.9 2136.9h0M1287.0 2132.2h0M1264.4 2137.4h0M1277.0 2139.5h0M1238.7 2123.3h0M1247.0 2132.8h0M1285.0 2134.1h0M1261.5 2135.3h0M1281.3 2135.7h0M1280.7 2134.2h0M1293.9 2133.2h0M1285.2 2135.6h0M1288.7 2132.8h0M1269.6 2136.6h0M1259.7 2133.5h0M1259.1 2134.9h0M1263.2 2137.5h0M1252.4 2130.8h0M1262.2 2135.5h0M1269.9 2137.2h0M1275.8 2138.2h0M1265.8 2138.4h0M1239.0 2124.8h0M1270.3 2136.0h0M1275.3 2137.4h0M1289.8 2132.9h0M1281.3 2135.6h0M1260.6 2137.1h0M1259.3 2137.6h0M1304.3 2125.6h0M1284.3 2135.0h0M1302.5 2127.3h0M1304.3 2122.8h0M1257.7 2134.9h0M1278.0 2135.2h0M1279.3 2139.5h0M1281.0 2137.0h0M1280.7 2136.3h0M1274.9 2136.6h0M1274.4 2133.6h0M1246.1 2130.9h0M1268.7 2139.0h0M1258.9 2134.3h0M1273.6 2137.8h0M1263.6 2137.3h0M1282.0 2133.8h0M1285.4 2136.1h0M1276.7 2138.5h0M1276.8 2137.0h0M1273.1 2136.9h0M1263.9 2137.4h0M1268.7 2134.9h0M1263.1 2136.4h0M1278.1 2137.9h0M1271.7 2135.4h0M1281.3 2137.2h0M1249.0 2130.9h0M1286.5 2131.8h0M1258.6 2135.0h0M1259.1 2134.1h0M1268.2 2137.3h0M1262.0 2134.5h0M1276.4 2138.1h0M1261.8 2135.0h0M1253.4 2133.9h0M1257.2 2134.0h0M1293.7 2131.2h0M1272.2 2138.5h0M1251.7 2133.0h0M1271.6 2136.5h0M1245.2 2127.8h0M1301.8 2128.5h0M1245.7 2130.7h0M1279.6 2135.9h0M1280.7 2136.4h0M1247.0 2129.1h0M1276.6 2135.4h0M1288.4 2132.8h0M1279.4 2136.8h0M1275.9 2137.2h0M1287.6 2133.2h0M1274.2 2137.9h0M1277.2 2137.7h0M1269.4 2137.2h0M1282.2 2137.1h0M1255.6 2133.9h0M1284.9 2134.9h0M1263.0 2136.8h0M1253.0 2133.2h0M1277.7 2137.6h0M1300.1 2126.4h0M1287.8 2136.0h0M1262.8 2135.2h0M1283.3 2135.3h0M1263.8 2134.6h0M1269.4 2137.7h0M1273.0 2138.6h0M1238.7 2126.6h0M1274.7 2138.0h0M1254.1 2131.7h0M1259.7 2134.5h0M1246.6 2129.6h0M1245.8 2128.6h0M1255.5 2135.7h0M1285.5 2135.1h0M1299.7 2128.3h0M1271.1 2137.6h0M1290.0 2132.0h0M1267.0 2135.6h0M1239.2 2124.4h0M1274.0 2137.6h0M1279.0 2136.8h0M1264.2 2137.2h0M1276.6 2138.1h0M1281.2 2134.2h0M1256.9 2133.9h0M1246.5 2130.4h0M1267.8 2135.1h0M1267.9 2136.2h0M1265.5 2137.9h0M1288.2 2135.4h0M1300.7 2129.1h0M1264.5 2136.5h0M1283.3 2135.2h0M1287.4 2135.6h0M1283.6 2134.9h0M1289.2 2134.0h0M1264.9 2138.2h0M1284.0 2134.8h0M1304.3 2124.4h0M1285.1 2135.0h0M1261.0 2136.6h0M1281.8 2136.5h0M1292.9 2132.2h0M1277.7 2137.3h0M1262.0 2133.9h0M1297.6 2128.4h0M1250.4 2132.3h0M1280.0 2135.0h0M1271.2 2135.3h0M1251.3 2131.0h0M1292.1 2131.2h0M1277.4 2136.4h0M1251.8 2131.4h0M1281.7 2136.2h0M1264.2 2138.6h0M1239.3 2125.5h0M1259.8 2137.2h0M1276.0 2137.2h0M1282.3 2134.3h0M1274.3 2136.6h0M1272.3 2135.7h0M1279.5 2137.3h0M1267.9 2135.4h0M1291.4 2134.4h0M1274.0 2137.7h0M1276.5 2134.1h0M1280.6 2137.1h0M1253.6 2135.5h0M1259.5 2134.4h0M1297.4 2131.0h0M1277.2 2134.3h0M1266.7 2137.1h0M1277.3 2134.5h0M1263.4 2136.9h0M1276.2 2134.4h0M1260.2 2132.2h0M1276.2 2137.3h0M1244.8 2132.2h0M1294.0 2130.7h0M1262.8 2137.3h0M1244.7 2129.3h0M1267.7 2136.4h0M1265.2 2137.4h0M1247.5 2114.2h0M1251.0 2113.5h0M1297.5 2115.5h0M1292.0 2121.5h0M1229.5 2133.5h0M1300.0 2125.0h0M1302.5 2128.0h0M1303.0 2099.5h0" stroke="#bdbdbd" stroke-width="3" stroke-linecap="round"/>
<path d="M1235.8 2109.5V2114" stroke="#3d86c6" stroke-width="2.4"/>
<circle cx="1382.7" cy="1866.6" r="1.9" fill="#d7102a"/><circle cx="1334.0" cy="2039.6" r="1.9" fill="#d7102a"/><circle cx="1332.9" cy="2058.7" r="1.9" fill="#d7102a"/><circle cx="1365.8" cy="2082.0" r="1.9" fill="#d7102a"/><circle cx="1308.0" cy="2099.0" r="1.9" fill="#d7102a"/><circle cx="1311.8" cy="2115.0" r="1.9" fill="#d7102a"/><circle cx="1314.6" cy="2120.0" r="1.9" fill="#d7102a"/><circle cx="1341.9" cy="2119.2" r="1.9" fill="#d7102a"/>
<line x1="1237.8" y1="1849.8" x2="1237.8" y2="2147.9" stroke="#000" stroke-width="2.4" stroke-dasharray="13.2,13.5" stroke-dashoffset="5.9"/>
<line x1="1305.3" y1="1849.8" x2="1305.3" y2="2147.9" stroke="#000" stroke-width="2.4" stroke-dasharray="13.2,13.5" stroke-dashoffset="5.9"/>
<line x1="1123.5" y1="2127.1" x2="1419.2" y2="2127.1" stroke="#000" stroke-width="2.4" stroke-dasharray="13,13.4"/>
<text x="1306.2" y="1896.0" font-size="22.00" fill="#d01c2a">MT2C_Mm</text>
<text x="1271.4" y="2025.8" font-size="21.48" fill="#d01c2a">ORR1A1−int</text>
<text x="1343.0" y="2055.0" font-size="21.84" fill="#d01c2a">MT2B2</text>
<text x="1264.2" y="2078.4" font-size="21.84" fill="#d01c2a">MT2_Mm</text>
<text x="1307.8" y="2108.5" font-size="21.75" fill="#d01c2a">MERVL−int</text>
<rect x="1123.0" y="1848.3" width="297.7" height="301.1" fill="none" stroke="#000" stroke-width="3"/>
<line x1="1115.0" y1="1864.6" x2="1123.0" y2="1864.6" stroke="#000" stroke-width="2.6"/>
<line x1="1115.0" y1="2135.6" x2="1123.0" y2="2135.6" stroke="#000" stroke-width="2.6"/>
<text x="1082.7" y="1873.2" font-size="24.00" fill="#000">40</text>
<text x="1097.0" y="2144.2" font-size="24.00" fill="#000">0</text>
<line x1="1135.9" y1="2149.4" x2="1135.9" y2="2157.4" stroke="#000" stroke-width="2.6"/>
<text x="1120.4" y="2178.3" font-size="24.00" fill="#000">−4</text>
<line x1="1203.4" y1="2149.4" x2="1203.4" y2="2157.4" stroke="#000" stroke-width="2.6"/>
<text x="1188.2" y="2178.3" font-size="24.00" fill="#000">−2</text>
<line x1="1271.5" y1="2149.4" x2="1271.5" y2="2157.4" stroke="#000" stroke-width="2.6"/>
<text x="1264.8" y="2178.3" font-size="24.00" fill="#000">0</text>
<line x1="1339.0" y1="2149.4" x2="1339.0" y2="2157.4" stroke="#000" stroke-width="2.6"/>
<text x="1332.3" y="2178.3" font-size="24.00" fill="#000">2</text>
<line x1="1406.6" y1="2149.4" x2="1406.6" y2="2157.4" stroke="#000" stroke-width="2.6"/>
<text x="1400.0" y="2178.3" font-size="24.00" fill="#000">4</text>
<text x="1174.5" y="2216.3" font-size="26" fill="#000" textLength="173.0" lengthAdjust="spacingAndGlyphs">Log<tspan font-size="16" dy="6">2</tspan><tspan dy="-6">(OE / Ctrl)</tspan></text>
<text transform="translate(1073.0,2002.5) rotate(-90)" text-anchor="middle" font-size="27" fill="#000" textLength="295.0" lengthAdjust="spacingAndGlyphs">−Log<tspan font-size="16" dy="6">10</tspan><tspan dy="-6">(adjusted </tspan><tspan font-style="italic">P</tspan>-value)</text>
<text x="1571.4" y="1747.8" font-size="29.27" fill="#231815">Repeat expression change</text>
<text x="1636.5" y="1782.2" font-size="29.36" fill="#231815">upon <tspan font-style="italic">Obox3</tspan> OE</text>
<text x="1631.9" y="1831.4" font-size="28.20" fill="#2a8bc6">Down</text>
<text x="1819.7" y="1831.4" font-size="29.05" fill="#d6282e">Up</text>
<path d="M1776.8 2135.8h0M1717.6 2135.2h0M1754.6 2140.3h0M1750.1 2134.7h0M1713.7 2132.7h0M1776.3 2135.1h0M1783.1 2136.2h0M1723.4 2135.8h0M1778.8 2136.1h0M1744.2 2135.6h0M1739.6 2134.5h0M1774.0 2137.3h0M1747.7 2139.1h0M1749.7 2139.0h0M1774.3 2134.1h0M1769.5 2133.3h0M1761.4 2133.9h0M1714.2 2134.7h0M1710.6 2135.7h0M1766.2 2136.5h0M1723.9 2133.4h0M1746.1 2136.8h0M1720.9 2135.7h0M1739.2 2136.6h0M1716.7 2135.3h0M1776.6 2134.2h0M1722.0 2136.8h0M1740.5 2136.7h0M1739.1 2136.9h0M1767.8 2134.3h0M1713.8 2135.7h0M1742.3 2136.3h0M1738.7 2132.9h0M1753.9 2137.1h0M1752.7 2135.9h0M1733.4 2137.9h0M1747.9 2136.2h0M1735.3 2136.2h0M1752.6 2136.7h0M1740.9 2136.5h0M1729.5 2135.4h0M1742.4 2133.5h0M1750.5 2139.5h0M1789.7 2130.1h0M1732.9 2135.7h0M1749.3 2137.5h0M1773.1 2135.6h0M1700.2 2134.4h0M1707.1 2135.6h0M1718.5 2137.6h0M1740.6 2137.0h0M1790.4 2137.6h0M1751.1 2134.7h0M1767.9 2135.8h0M1738.4 2135.9h0M1697.7 2132.1h0M1697.7 2133.5h0M1764.0 2138.2h0M1746.8 2135.3h0M1716.3 2134.1h0M1766.0 2136.8h0M1711.3 2135.7h0M1766.4 2138.9h0M1772.9 2136.7h0M1727.2 2136.5h0M1720.2 2135.1h0M1760.4 2136.4h0M1720.4 2135.3h0M1760.8 2133.6h0M1718.4 2135.5h0M1759.6 2135.7h0M1744.9 2136.1h0M1734.1 2135.6h0M1724.6 2138.8h0M1747.9 2137.6h0M1704.0 2135.5h0M1737.3 2135.4h0M1734.8 2134.6h0M1757.0 2135.7h0M1717.2 2135.8h0M1778.3 2133.8h0M1736.6 2136.1h0M1719.6 2137.2h0M1771.5 2135.6h0M1777.2 2132.8h0M1739.1 2135.7h0M1724.6 2134.8h0M1743.3 2136.8h0M1728.8 2134.2h0M1736.6 2136.1h0M1775.1 2135.9h0M1751.1 2136.4h0M1746.0 2134.9h0M1750.1 2135.4h0M1741.8 2136.7h0M1760.3 2136.8h0M1761.1 2137.4h0M1735.4 2136.2h0M1745.2 2134.3h0M1790.4 2135.1h0M1751.7 2136.9h0M1739.2 2137.2h0M1785.2 2134.0h0M1743.2 2134.7h0M1720.4 2135.1h0M1756.9 2136.6h0M1724.5 2137.7h0M1732.8 2136.4h0M1749.7 2131.1h0M1740.4 2136.1h0M1727.3 2136.7h0M1731.7 2138.5h0M1730.8 2137.5h0M1767.0 2139.8h0M1728.2 2138.5h0M1731.2 2138.6h0M1785.0 2135.1h0M1731.6 2133.9h0M1773.7 2136.3h0M1770.1 2136.3h0M1739.9 2135.6h0M1713.8 2136.0h0M1752.3 2137.1h0M1756.9 2135.4h0M1762.9 2135.6h0M1744.5 2136.0h0M1767.8 2135.8h0M1771.6 2134.4h0M1721.3 2136.6h0M1772.4 2131.8h0M1746.6 2136.0h0M1731.3 2133.4h0M1736.4 2135.6h0M1781.7 2134.8h0M1763.3 2135.8h0M1706.2 2134.0h0M1744.7 2136.6h0M1740.1 2139.2h0M1739.4 2134.6h0M1732.4 2137.8h0M1713.0 2132.4h0M1760.7 2135.2h0M1723.6 2136.1h0M1735.4 2135.0h0M1730.6 2136.6h0M1728.0 2137.4h0M1758.3 2134.1h0M1750.9 2136.3h0M1729.1 2135.5h0M1723.5 2132.6h0M1733.3 2136.0h0M1762.9 2134.5h0M1745.6 2138.8h0M1747.8 2135.0h0M1736.2 2139.3h0M1737.7 2135.5h0M1747.5 2139.8h0M1705.0 2135.0h0M1776.2 2135.4h0M1726.8 2137.4h0M1731.3 2137.8h0M1770.6 2137.6h0M1747.6 2139.4h0M1743.9 2135.9h0M1731.0 2134.1h0M1710.8 2130.2h0M1746.8 2135.8h0M1767.6 2136.8h0M1724.5 2136.6h0M1771.1 2135.4h0M1719.8 2135.0h0M1727.9 2135.0h0M1753.4 2135.8h0M1743.0 2137.2h0M1757.2 2133.2h0M1727.7 2137.3h0M1721.8 2133.3h0M1704.5 2133.7h0M1718.2 2134.4h0M1720.8 2135.0h0M1713.6 2133.3h0M1749.4 2134.5h0M1729.3 2135.8h0M1702.1 2131.8h0M1790.4 2136.9h0M1725.8 2135.3h0M1717.1 2134.2h0M1768.5 2134.4h0M1767.0 2133.7h0M1719.3 2131.4h0M1712.6 2134.5h0M1722.4 2136.3h0M1766.3 2133.0h0M1736.6 2136.4h0M1726.3 2134.0h0M1742.4 2136.4h0M1767.8 2136.1h0M1714.4 2135.9h0M1735.1 2137.1h0M1714.5 2133.9h0M1787.7 2134.6h0M1780.4 2133.3h0M1762.6 2136.4h0M1740.3 2137.7h0M1756.6 2135.7h0M1699.7 2131.1h0M1748.7 2137.5h0M1715.5 2133.3h0M1715.7 2133.7h0M1728.5 2134.3h0M1735.8 2137.8h0M1754.8 2136.0h0M1757.4 2132.3h0M1748.4 2137.7h0M1723.6 2139.4h0M1756.9 2139.2h0M1740.5 2135.5h0M1767.3 2135.6h0M1724.1 2136.7h0M1697.7 2134.5h0M1733.2 2136.4h0M1787.3 2131.3h0M1752.7 2137.6h0M1739.0 2137.5h0M1761.2 2133.7h0M1753.4 2135.7h0M1752.5 2136.8h0M1732.4 2136.3h0M1744.6 2137.4h0M1747.1 2137.8h0M1729.8 2137.1h0M1720.0 2135.4h0M1745.9 2134.2h0M1762.9 2136.9h0M1756.3 2138.6h0M1753.2 2139.7h0M1753.4 2136.2h0M1790.4 2132.6h0M1748.4 2138.9h0M1764.5 2138.1h0M1783.3 2134.3h0M1744.1 2137.7h0M1748.4 2135.1h0M1764.5 2136.7h0M1777.8 2133.0h0M1749.4 2136.2h0M1750.5 2136.2h0M1744.9 2135.7h0M1718.2 2131.8h0M1766.0 2134.2h0M1737.8 2137.0h0M1707.6 2134.2h0M1740.0 2135.8h0M1707.4 2135.1h0M1722.3 2136.9h0M1743.4 2137.9h0M1724.1 2134.5h0M1765.1 2135.7h0M1712.8 2134.4h0M1748.5 2134.9h0M1754.6 2133.7h0M1773.2 2134.8h0M1762.2 2134.4h0M1748.0 2140.1h0M1744.8 2136.3h0M1742.0 2136.1h0M1766.6 2134.8h0M1729.7 2139.4h0M1753.9 2134.7h0M1741.3 2136.2h0M1748.2 2135.1h0M1737.8 2136.2h0M1787.2 2133.1h0M1729.7 2138.0h0M1748.4 2134.0h0M1748.9 2136.4h0M1755.8 2138.9h0M1752.5 2135.5h0M1752.0 2136.0h0M1763.5 2134.3h0M1712.2 2130.4h0M1743.4 2136.3h0M1717.8 2137.4h0M1748.0 2135.6h0M1718.9 2132.3h0M1723.5 2136.3h0M1742.0 2136.6h0M1772.0 2136.7h0M1755.2 2137.8h0M1749.4 2135.9h0M1772.2 2135.7h0M1723.8 2132.8h0M1700.2 2135.3h0M1734.5 2136.7h0M1737.5 2138.3h0M1768.7 2137.2h0M1787.3 2132.6h0M1715.9 2135.0h0M1790.4 2131.2h0M1775.5 2131.2h0M1760.6 2135.7h0M1750.9 2136.6h0M1790.4 2130.8h0M1744.9 2137.7h0M1733.5 2136.5h0M1746.2 2137.2h0M1715.1 2133.8h0M1753.0 2133.3h0M1741.0 2137.8h0M1750.1 2137.4h0M1750.7 2136.2h0M1721.5 2135.0h0M1770.4 2134.7h0M1722.4 2135.5h0M1761.6 2135.0h0M1710.5 2131.3h0M1750.9 2137.7h0M1726.4 2133.5h0M1744.2 2135.9h0M1729.9 2135.7h0M1698.3 2133.5h0M1720.4 2132.9h0M1744.7 2138.5h0M1756.2 2137.3h0M1713.1 2136.3h0M1699.5 2135.4h0M1725.4 2134.6h0M1739.0 2131.1h0M1730.3 2136.8h0M1726.6 2138.3h0M1760.8 2137.9h0M1763.2 2134.9h0M1758.6 2135.9h0M1724.0 2136.4h0M1744.9 2133.4h0M1739.3 2135.3h0M1713.9 2134.0h0M1761.5 2138.6h0M1745.1 2135.4h0M1733.3 2139.0h0M1772.5 2135.0h0M1759.0 2133.2h0M1760.9 2139.7h0M1768.0 2133.8h0M1758.1 2137.2h0M1717.3 2138.3h0M1735.3 2135.5h0M1764.0 2133.7h0M1727.5 2137.9h0M1744.1 2136.6h0M1751.5 2134.3h0M1773.0 2133.1h0M1770.0 2134.6h0M1761.8 2137.5h0M1739.5 2136.0h0M1762.1 2137.0h0M1754.2 2139.1h0M1740.0 2138.6h0M1771.2 2137.6h0M1753.5 2138.4h0M1727.7 2133.4h0M1769.3 2137.4h0M1738.0 2137.0h0M1755.5 2136.0h0M1711.9 2133.0h0M1742.9 2133.8h0M1723.8 2134.0h0M1723.2 2135.8h0M1703.9 2131.9h0M1787.4 2131.8h0M1740.1 2135.4h0M1748.1 2137.6h0M1766.0 2135.1h0M1740.7 2136.2h0M1753.8 2138.6h0M1715.2 2134.6h0M1747.2 2137.5h0M1734.7 2134.6h0M1753.5 2136.9h0M1746.9 2136.7h0M1714.7 2135.4h0M1705.0 2133.3h0M1722.3 2134.0h0M1758.4 2135.6h0M1751.9 2135.6h0M1751.5 2138.1h0M1701.6 2135.1h0M1697.7 2131.0h0M1730.3 2137.3h0M1736.3 2135.6h0M1730.7 2137.0h0M1750.4 2135.6h0M1739.6 2134.0h0M1718.7 2137.2h0M1725.0 2136.7h0M1746.1 2134.4h0M1744.6 2133.3h0M1741.6 2135.6h0M1789.8 2130.8h0M1737.7 2135.8h0M1745.5 2137.5h0M1722.6 2138.3h0M1735.7 2135.8h0M1753.9 2138.6h0M1754.7 2138.2h0M1739.8 2135.7h0M1751.2 2133.6h0M1744.2 2137.9h0M1704.3 2135.0h0M1697.7 2137.0h0M1790.4 2135.1h0M1760.1 2137.3h0M1741.8 2139.4h0M1707.2 2132.5h0M1716.7 2135.7h0M1770.9 2134.7h0M1697.7 2136.0h0M1736.3 2137.4h0M1760.9 2130.8h0M1745.9 2138.8h0M1771.5 2110.5h0M1769.0 2111.5h0M1771.0 2117.0h0M1764.6 2124.0h0M1772.0 2127.0h0M1691.0 2135.0h0M1697.5 2139.0h0M1738.0 2093.0h0M1739.0 2094.0h0M1728.0 2100.0h0" stroke="#bdbdbd" stroke-width="3" stroke-linecap="round"/>
<circle cx="1817.6" cy="1866.0" r="1.9" fill="#d7102a"/><circle cx="1777.7" cy="1929.3" r="1.9" fill="#d7102a"/><circle cx="1816.8" cy="1943.4" r="1.9" fill="#d7102a"/><circle cx="1807.8" cy="1991.2" r="1.9" fill="#d7102a"/><circle cx="1790.0" cy="2018.5" r="1.9" fill="#d7102a"/><circle cx="1876.2" cy="2039.0" r="1.9" fill="#d7102a"/><circle cx="1836.8" cy="2057.3" r="1.9" fill="#d7102a"/><circle cx="1783.3" cy="2063.5" r="1.9" fill="#d7102a"/><circle cx="1785.3" cy="2068.0" r="1.9" fill="#d7102a"/><circle cx="1798.5" cy="2095.9" r="1.9" fill="#d7102a"/><circle cx="1778.8" cy="2123.5" r="1.9" fill="#d7102a"/><circle cx="1866.9" cy="2123.5" r="1.9" fill="#d7102a"/><circle cx="1792.3" cy="2128.2" r="1.9" fill="#d7102a"/>
<line x1="1709.3" y1="1847.3" x2="1709.3" y2="2148.7" stroke="#000" stroke-width="2.4" stroke-dasharray="13.2,13.5" stroke-dashoffset="3.4"/>
<line x1="1777.4" y1="1847.3" x2="1777.4" y2="2148.7" stroke="#000" stroke-width="2.4" stroke-dasharray="13.2,13.5" stroke-dashoffset="3.4"/>
<line x1="1593.0" y1="2127.7" x2="1892.1" y2="2127.7" stroke="#000" stroke-width="2.4" stroke-dasharray="13,13.4"/>
<text x="1779.2" y="1888.0" font-size="22.05" fill="#d01c2a">MERVL−int</text>
<text x="1747.7" y="1932.0" font-size="22.00" fill="#d01c2a">ORR1A1−int</text>
<text x="1810.2" y="1979.0" font-size="22.33" fill="#d01c2a">MT2B2</text>
<text x="1719.6" y="2006.7" font-size="21.90" fill="#d01c2a">ORR1A2−int</text>
<text x="1761.8" y="2040.5" font-size="22.10" fill="#d01c2a">MT2C_Mm</text>
<text x="1791.1" y="2078.4" font-size="22.28" fill="#d01c2a">MT2_Mm</text>
<rect x="1592.5" y="1845.8" width="301.1" height="304.4" fill="none" stroke="#000" stroke-width="3"/>
<line x1="1584.5" y1="1850.5" x2="1592.5" y2="1850.5" stroke="#000" stroke-width="2.6"/>
<line x1="1584.5" y1="2136.7" x2="1592.5" y2="2136.7" stroke="#000" stroke-width="2.6"/>
<text x="1552.2" y="1859.1" font-size="24.00" fill="#000">40</text>
<text x="1566.5" y="2145.3" font-size="24.00" fill="#000">0</text>
<line x1="1605.8" y1="2150.2" x2="1605.8" y2="2158.2" stroke="#000" stroke-width="2.6"/>
<text x="1590.3" y="2178.3" font-size="24.00" fill="#000">−4</text>
<line x1="1674.7" y1="2150.2" x2="1674.7" y2="2158.2" stroke="#000" stroke-width="2.6"/>
<text x="1659.5" y="2178.3" font-size="24.00" fill="#000">−2</text>
<line x1="1743.0" y1="2150.2" x2="1743.0" y2="2158.2" stroke="#000" stroke-width="2.6"/>
<text x="1736.3" y="2178.3" font-size="24.00" fill="#000">0</text>
<line x1="1812.0" y1="2150.2" x2="1812.0" y2="2158.2" stroke="#000" stroke-width="2.6"/>
<text x="1805.3" y="2178.3" font-size="24.00" fill="#000">2</text>
<line x1="1880.4" y1="2150.2" x2="1880.4" y2="2158.2" stroke="#000" stroke-width="2.6"/>
<text x="1873.8" y="2178.3" font-size="24.00" fill="#000">4</text>
<text x="1667.0" y="2215.0" font-size="26" fill="#000" textLength="162.0" lengthAdjust="spacingAndGlyphs">Log<tspan font-size="16" dy="6">2</tspan><tspan dy="-6">(OE / Ctrl)</tspan></text>
<text transform="translate(1534.0,1994.0) rotate(-90)" text-anchor="middle" font-size="27" fill="#000" textLength="273.0" lengthAdjust="spacingAndGlyphs">−Log<tspan font-size="16" dy="6">10</tspan><tspan dy="-6">(adjusted </tspan><tspan font-style="italic">P</tspan>-value)</text>
</svg>
</body></html>
